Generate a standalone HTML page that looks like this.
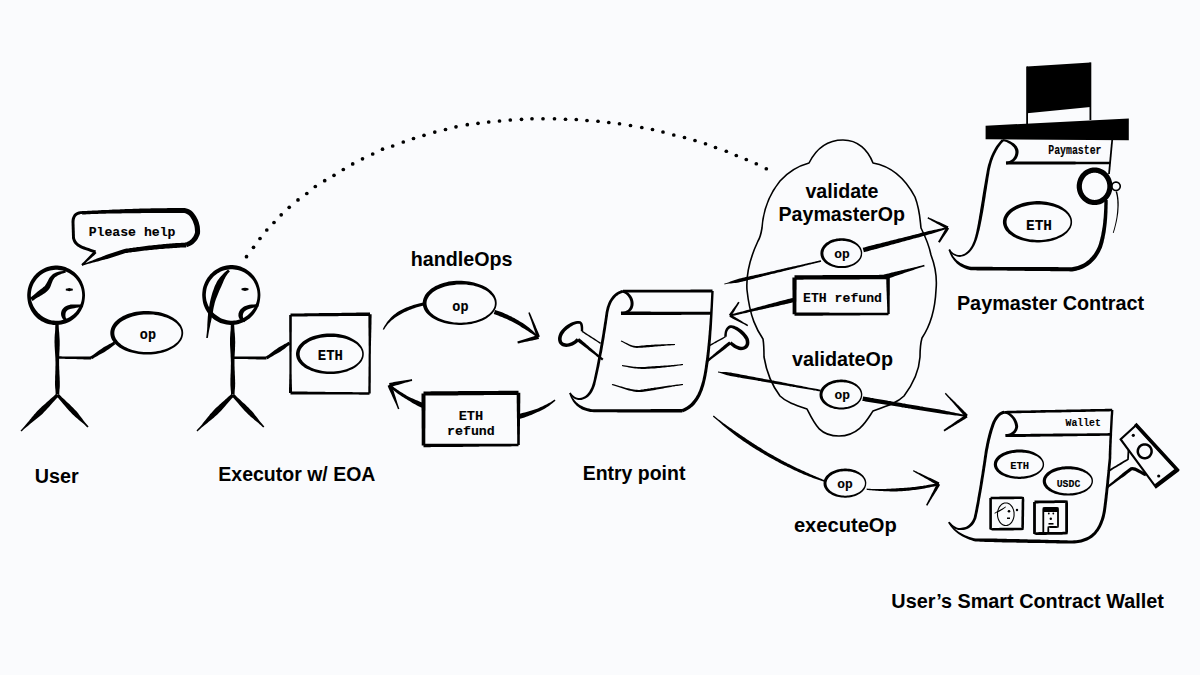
<!DOCTYPE html>
<html><head><meta charset="utf-8">
<style>
html,body{margin:0;padding:0;background:#fafbfd;}
svg{display:block;}
.s{font-family:"Liberation Sans",sans-serif;font-weight:700;font-size:19.3px;fill:#111;}
.m{font-family:"Liberation Mono",monospace;font-weight:700;font-size:12.8px;fill:#111;stroke:#111;stroke-width:0.35px;}
.ms{font-family:"Liberation Mono",monospace;font-weight:700;font-size:9.6px;fill:#111;stroke:#111;stroke-width:0.25px;}
</style></head><body>
<svg width="1200" height="675" viewBox="0 0 1200 675">
<rect width="1200" height="675" fill="#fafbfd"/>
<path d="M81.8,211.0 L80.2,211.2 L78.6,211.5 L77.2,212.0 L75.8,212.7 L74.7,213.6 L73.7,214.6 L72.9,215.9 L72.3,217.2 L71.8,218.7 L71.6,220.3 L71.5,222.0 L71.6,223.6 L71.6,225.2 L71.7,226.8 L71.7,228.4 L71.8,230.0 L71.8,231.6 L71.9,233.2 L71.9,234.8 L72.0,236.4 L72.0,238.2 L72.5,239.8 L73.0,241.3 L73.8,242.7 L74.7,243.9 L75.8,245.1 L77.1,246.2 L78.5,247.1 L80.0,248.0 L81.7,248.7 L83.5,249.4 L85.2,250.0 L86.8,250.6 L88.4,251.1 L90.1,251.7 L91.7,252.3 L93.4,252.8 L95.0,253.4 L96.0,250.6 L94.3,250.0 L92.7,249.4 L91.1,248.9 L89.4,248.3 L87.8,247.7 L86.1,247.2 L84.5,246.6 L82.8,246.0 L81.4,245.3 L80.1,244.6 L78.9,243.8 L77.9,242.9 L77.1,242.0 L76.3,241.0 L75.8,240.0 L75.3,238.9 L75.0,237.8 L74.9,236.4 L74.9,234.8 L74.8,233.2 L74.8,231.6 L74.7,230.0 L74.7,228.4 L74.6,226.8 L74.6,225.2 L74.5,223.6 L74.5,222.0 L74.6,220.6 L74.8,219.3 L75.1,218.2 L75.5,217.3 L76.0,216.5 L76.7,215.8 L77.4,215.3 L78.4,214.8 L79.4,214.4 L80.7,214.1 L82.2,214.0Z" fill="#000"/>
<path d="M94.5,250.9 L93.2,252.1 L92.0,253.3 L90.8,254.5 L89.7,255.8 L88.5,257.0 L87.3,258.2 L86.1,259.4 L84.9,260.7 L83.7,261.9 L82.5,263.1 L81.3,264.3 L82.7,265.7 L83.9,264.5 L85.2,263.4 L86.4,262.2 L87.7,261.1 L89.0,260.0 L90.3,258.8 L91.5,257.7 L92.8,256.6 L94.1,255.4 L95.3,254.3 L96.5,253.1Z" fill="#000"/>
<path d="M82.2,265.7 L83.8,265.2 L85.3,264.7 L86.9,264.3 L88.4,263.8 L90.0,263.4 L91.5,263.0 L93.1,262.6 L94.7,262.2 L96.2,261.8 L97.8,261.4 L99.4,261.0 L100.9,260.6 L102.5,260.1 L104.1,259.7 L105.6,259.3 L107.2,258.9 L108.7,258.4 L110.3,258.0 L111.8,257.5 L113.4,257.0 L114.9,256.5 L116.4,256.0 L118.0,255.5 L119.5,255.0 L121.0,254.5 L122.6,254.0 L124.1,253.5 L125.5,253.1 L127.1,252.9 L129.0,252.6 L130.8,252.4 L132.6,252.1 L134.3,251.9 L136.1,251.7 L137.9,251.5 L139.6,251.2 L141.3,251.0 L143.1,250.8 L144.8,250.6 L146.5,250.5 L148.1,250.3 L149.8,250.1 L151.5,249.9 L153.1,249.8 L154.8,249.6 L156.4,249.4 L158.0,249.3 L159.6,249.1 L161.2,249.0 L162.7,248.9 L164.3,248.7 L165.8,248.6 L167.3,248.5 L168.9,248.4 L170.4,248.3 L171.9,248.2 L173.3,248.1 L174.8,248.0 L176.3,247.9 L177.7,247.8 L179.1,247.7 L180.6,247.6 L182.0,247.6 L183.3,247.5 L184.7,247.5 L186.1,247.4 L185.9,242.6 L184.5,242.7 L183.1,242.7 L181.7,242.8 L180.3,242.9 L178.9,242.9 L177.4,243.0 L176.0,243.1 L174.5,243.2 L173.0,243.3 L171.5,243.4 L170.0,243.6 L168.5,243.7 L167.0,243.8 L165.4,243.9 L163.9,244.1 L162.3,244.2 L160.7,244.4 L159.1,244.5 L157.5,244.7 L155.9,244.9 L154.3,245.1 L152.6,245.2 L151.0,245.4 L149.3,245.6 L147.6,245.8 L145.9,246.0 L144.2,246.2 L142.5,246.4 L140.8,246.7 L139.1,246.9 L137.3,247.1 L135.5,247.4 L133.8,247.6 L132.0,247.9 L130.2,248.1 L128.4,248.4 L126.5,248.6 L124.5,248.9 L122.8,249.5 L121.3,250.0 L119.7,250.5 L118.2,251.0 L116.7,251.5 L115.1,252.0 L113.6,252.5 L112.1,253.0 L110.5,253.5 L109.0,254.0 L107.5,254.6 L106.0,255.1 L104.4,255.7 L102.9,256.3 L101.4,256.9 L99.9,257.4 L98.4,258.0 L96.9,258.6 L95.4,259.2 L93.9,259.8 L92.4,260.4 L90.9,261.0 L89.4,261.6 L87.9,262.2 L86.3,262.7 L84.8,263.3 L83.3,263.8 L81.8,264.3Z" fill="#000"/>
<path d="M186.8,247.2 L188.5,246.6 L190.2,245.8 L191.7,244.9 L193.2,243.9 L194.5,242.8 L195.7,241.5 L196.8,240.2 L197.8,238.7 L198.6,237.1 L199.3,235.4 L200.0,233.4 L200.1,231.3 L200.0,229.6 L199.9,227.8 L199.7,226.1 L199.3,224.4 L198.9,222.7 L198.3,221.1 L197.7,219.5 L196.9,217.9 L196.1,216.4 L195.1,214.9 L194.0,213.4 L192.8,212.0 L191.4,210.8 L189.9,209.8 L188.3,209.0 L186.6,208.4 L184.8,208.1 L183.1,208.0 L181.3,208.0 L179.6,208.0 L178.0,208.0 L176.3,208.1 L174.6,208.1 L172.9,208.1 L171.3,208.1 L169.6,208.1 L167.9,208.1 L166.3,208.2 L164.6,208.2 L163.0,208.2 L161.3,208.2 L159.7,208.2 L158.0,208.2 L156.4,208.3 L154.7,208.3 L153.1,208.3 L151.5,208.3 L149.8,208.4 L148.2,208.4 L146.6,208.5 L144.9,208.5 L143.3,208.5 L141.7,208.6 L140.1,208.6 L138.4,208.7 L136.8,208.7 L135.2,208.8 L133.6,208.8 L132.0,208.9 L130.4,208.9 L128.8,209.0 L127.2,209.1 L125.6,209.1 L124.0,209.2 L122.4,209.2 L120.8,209.3 L119.2,209.4 L117.7,209.4 L116.1,209.5 L114.5,209.6 L112.9,209.6 L111.3,209.7 L109.8,209.8 L108.2,209.9 L106.6,209.9 L105.1,210.0 L103.5,210.1 L102.0,210.1 L100.4,210.2 L98.8,210.3 L97.3,210.4 L95.7,210.4 L94.2,210.5 L92.7,210.6 L91.1,210.7 L89.6,210.7 L88.0,210.8 L86.5,210.9 L85.0,211.0 L83.4,211.0 L81.9,211.1 L82.1,214.5 L83.6,214.4 L85.1,214.4 L86.7,214.3 L88.2,214.2 L89.7,214.2 L91.3,214.1 L92.8,214.0 L94.3,214.0 L95.9,213.9 L97.4,213.9 L99.0,213.8 L100.5,213.8 L102.1,213.8 L103.6,213.7 L105.2,213.7 L106.8,213.6 L108.3,213.6 L109.9,213.6 L111.5,213.5 L113.0,213.5 L114.6,213.5 L116.2,213.4 L117.8,213.4 L119.4,213.4 L120.9,213.4 L122.5,213.3 L124.1,213.3 L125.7,213.3 L127.3,213.3 L128.9,213.3 L130.5,213.2 L132.1,213.2 L133.7,213.2 L135.3,213.2 L136.9,213.2 L138.5,213.2 L140.1,213.2 L141.8,213.1 L143.4,213.1 L145.0,213.1 L146.6,213.1 L148.3,213.1 L149.9,213.1 L151.5,213.1 L153.2,213.1 L154.8,213.0 L156.4,213.0 L158.1,213.0 L159.7,213.0 L161.4,213.0 L163.0,213.0 L164.7,213.0 L166.3,213.0 L168.0,213.0 L169.6,213.0 L171.3,213.0 L173.0,213.0 L174.6,213.0 L176.3,213.0 L178.0,213.0 L179.6,213.0 L181.3,213.0 L182.9,213.0 L184.2,213.1 L185.3,213.3 L186.4,213.7 L187.3,214.2 L188.2,214.8 L189.1,215.6 L190.0,216.6 L190.8,217.8 L191.6,219.0 L192.3,220.3 L192.9,221.6 L193.4,222.9 L193.9,224.3 L194.3,225.6 L194.6,227.0 L194.8,228.4 L194.9,229.9 L195.0,231.4 L195.0,232.6 L194.6,233.7 L194.1,235.0 L193.5,236.2 L192.8,237.3 L192.0,238.3 L191.2,239.3 L190.2,240.1 L189.1,240.9 L187.9,241.6 L186.6,242.2 L185.2,242.8Z" fill="#000"/>
<path d="M85.0,295.3 L84.9,297.3 L84.7,299.3 L84.4,301.3 L84.0,303.3 L83.4,305.3 L82.7,307.2 L81.8,309.0 L80.9,310.8 L79.8,312.5 L78.6,314.2 L77.2,315.7 L75.8,317.2 L74.3,318.5 L72.7,319.8 L70.9,320.9 L69.1,321.9 L67.3,322.7 L65.4,323.4 L63.4,324.0 L61.4,324.5 L59.4,324.8 L57.3,324.9 L55.3,325.0 L53.2,324.9 L51.2,324.6 L49.2,324.2 L47.2,323.7 L45.2,323.0 L43.3,322.1 L41.5,321.2 L39.7,320.1 L38.1,318.9 L36.5,317.5 L35.0,316.0 L33.7,314.5 L32.5,312.8 L31.3,311.0 L30.4,309.2 L29.5,307.3 L28.8,305.4 L28.2,303.4 L27.8,301.4 L27.5,299.4 L27.3,297.4 L27.2,295.3 L27.3,293.3 L27.5,291.2 L27.8,289.2 L28.3,287.2 L28.9,285.2 L29.7,283.3 L30.5,281.5 L31.5,279.7 L32.7,278.0 L33.9,276.3 L35.3,274.8 L36.7,273.3 L38.3,272.0 L39.9,270.8 L41.6,269.7 L43.4,268.7 L45.3,267.8 L47.2,267.1 L49.2,266.5 L51.2,266.1 L53.2,265.8 L55.3,265.6 L57.3,265.6 L59.4,265.8 L61.4,266.1 L63.4,266.5 L65.4,267.1 L67.3,267.9 L69.1,268.7 L70.9,269.7 L72.6,270.9 L74.2,272.1 L75.8,273.5 L77.2,274.9 L78.5,276.5 L79.7,278.1 L80.8,279.8 L81.8,281.6 L82.6,283.5 L83.4,285.4 L83.9,287.3 L84.4,289.3 L84.7,291.3 L84.9,293.3ZM82.1,293.5 L81.9,291.7 L81.6,289.9 L81.1,288.1 L80.6,286.4 L79.8,284.7 L79.0,283.1 L78.1,281.5 L77.0,280.0 L75.9,278.6 L74.7,277.3 L73.4,276.1 L72.0,275.0 L70.5,274.0 L69.0,273.1 L67.4,272.2 L65.8,271.6 L64.1,271.0 L62.4,270.5 L60.7,270.2 L58.9,269.9 L57.2,269.8 L55.4,269.8 L53.7,269.9 L51.9,270.2 L50.2,270.5 L48.5,271.0 L46.9,271.6 L45.2,272.3 L43.7,273.1 L42.2,274.1 L40.7,275.1 L39.4,276.2 L38.1,277.5 L36.9,278.8 L35.8,280.2 L34.8,281.7 L33.8,283.2 L33.1,284.8 L32.4,286.5 L31.8,288.2 L31.4,289.9 L31.1,291.7 L30.9,293.5 L30.8,295.3 L30.9,297.1 L31.1,298.9 L31.4,300.7 L31.9,302.4 L32.5,304.1 L33.2,305.7 L34.0,307.3 L35.0,308.8 L36.0,310.3 L37.1,311.6 L38.3,312.9 L39.6,314.1 L40.9,315.2 L42.3,316.3 L43.8,317.2 L45.3,318.1 L46.9,318.8 L48.6,319.4 L50.2,320.0 L51.9,320.4 L53.7,320.6 L55.4,320.8 L57.2,320.8 L58.9,320.7 L60.7,320.5 L62.4,320.1 L64.1,319.6 L65.8,319.0 L67.4,318.3 L69.0,317.5 L70.5,316.6 L71.9,315.6 L73.3,314.4 L74.6,313.2 L75.9,311.9 L77.0,310.5 L78.0,309.1 L79.0,307.5 L79.8,305.9 L80.5,304.2 L81.1,302.5 L81.6,300.7 L81.9,298.9 L82.1,297.1 L82.2,295.3Z" fill="#000" fill-rule="evenodd"/>
<path d="M32.6,301.0 L34.3,299.7 L35.9,298.6 L37.5,297.6 L39.1,296.7 L40.6,295.8 L42.0,294.9 L43.4,294.0 L44.7,293.2 L46.0,292.3 L47.1,291.3 L48.1,290.3 L49.2,289.1 L50.2,287.3 L50.9,285.6 L51.4,284.1 L51.9,282.7 L52.4,281.4 L52.9,280.3 L53.6,279.2 L54.4,278.1 L55.4,277.1 L56.4,276.4 L57.4,275.7 L58.7,275.1 L60.1,274.5 L61.7,273.8 L63.7,273.2 L65.9,272.5 L65.3,270.3 L63.0,270.9 L61.0,271.3 L59.2,271.6 L57.5,272.0 L56.0,272.5 L54.5,273.2 L53.0,274.1 L51.5,275.4 L50.3,276.7 L49.3,278.1 L48.5,279.5 L47.8,280.9 L47.1,282.2 L46.4,283.5 L45.6,284.8 L44.8,285.9 L44.3,286.4 L43.4,287.1 L42.5,287.9 L41.4,288.7 L40.3,289.6 L39.1,290.6 L37.7,291.6 L36.3,292.7 L34.9,293.9 L33.4,295.2 L31.8,296.5 L30.2,297.8Z" fill="#000"/>
<path d="M65.8,290.4 L67.5,290.8 L69.3,291.2 L71.0,290.8 L72.8,290.4 L72.8,288.8 L71.0,288.4 L69.3,288.0 L67.5,288.4 L65.8,288.8Z" fill="#000"/>
<path d="M82.9,304.4 L80.4,304.5 L78.0,304.4 L75.9,304.4 L73.9,304.4 L72.1,304.5 L70.6,304.6 L69.3,304.9 L68.1,305.2 L66.2,305.9 L64.5,307.0 L63.0,308.4 L61.9,310.0 L61.2,311.9 L61.0,313.7 L61.2,315.5 L61.8,317.3 L62.8,319.0 L64.1,320.5 L65.5,321.8 L67.5,319.8 L66.3,318.6 L65.7,317.4 L65.4,316.1 L65.4,315.0 L65.5,313.9 L65.6,313.1 L66.0,312.1 L66.5,311.2 L67.2,310.4 L68.2,309.7 L69.5,309.2 L70.2,309.0 L71.3,308.8 L72.7,308.5 L74.3,308.2 L76.2,307.8 L78.3,307.4 L80.6,307.0 L83.1,306.8Z" fill="#000"/>
<path d="M55.3,324.5 L55.3,326.1 L55.2,327.8 L55.2,329.4 L55.1,331.0 L55.0,332.7 L54.8,334.3 L54.7,335.9 L54.6,337.5 L54.6,339.2 L54.5,340.8 L54.5,342.4 L54.6,344.1 L54.6,345.7 L54.7,347.3 L54.8,348.9 L54.9,350.6 L55.0,352.2 L55.1,353.8 L55.2,355.4 L55.3,357.1 L55.4,358.7 L55.4,360.3 L55.5,362.0 L55.5,363.6 L55.5,365.2 L55.4,366.8 L55.4,368.5 L55.4,370.1 L55.3,371.7 L55.3,373.4 L55.2,375.0 L55.1,376.6 L55.1,378.2 L55.1,379.9 L55.0,381.5 L55.0,383.1 L55.0,384.7 L55.1,386.4 L55.2,388.0 L55.4,389.6 L55.5,391.3 L55.6,392.9 L55.7,394.5 L59.3,394.5 L59.3,392.9 L59.4,391.2 L59.5,389.6 L59.7,388.0 L59.8,386.3 L59.8,384.7 L59.8,383.1 L59.8,381.5 L59.7,379.8 L59.7,378.2 L59.6,376.6 L59.5,374.9 L59.4,373.3 L59.4,371.7 L59.3,370.1 L59.2,368.4 L59.2,366.8 L59.1,365.2 L59.1,363.6 L59.1,361.9 L59.1,360.3 L59.1,358.7 L59.2,357.0 L59.3,355.4 L59.3,353.8 L59.4,352.2 L59.5,350.5 L59.6,348.9 L59.6,347.3 L59.7,345.6 L59.7,344.0 L59.7,342.4 L59.7,340.8 L59.6,339.1 L59.5,337.5 L59.4,335.9 L59.3,334.3 L59.2,332.6 L59.0,331.0 L58.9,329.4 L58.8,327.7 L58.7,326.1 L58.7,324.5Z" fill="#000"/>
<path d="M57.5,358.7 L59.2,358.7 L60.8,358.8 L62.5,358.8 L64.2,358.8 L65.9,358.9 L67.5,358.9 L69.2,359.0 L70.9,359.0 L72.6,359.1 L74.2,359.1 L75.9,359.1 L77.6,359.2 L79.3,359.2 L80.9,359.3 L82.6,359.3 L84.3,359.4 L86.0,359.4 L87.6,359.4 L89.3,359.5 L91.0,359.5 L91.0,356.5 L89.3,356.5 L87.7,356.5 L86.0,356.4 L84.3,356.4 L82.6,356.4 L81.0,356.4 L79.3,356.4 L77.6,356.4 L75.9,356.4 L74.3,356.4 L72.6,356.4 L70.9,356.4 L69.2,356.4 L67.6,356.4 L65.9,356.4 L64.2,356.4 L62.5,356.4 L60.9,356.3 L59.2,356.3 L57.5,356.3Z" fill="#000"/>
<path d="M91.8,359.3 L93.2,358.4 L94.6,357.6 L96.0,356.7 L97.5,355.9 L98.9,355.1 L100.3,354.3 L101.8,353.5 L103.2,352.7 L104.6,351.9 L106.0,351.0 L107.4,350.1 L108.7,349.2 L110.0,348.2 L111.3,347.2 L112.6,346.2 L113.9,345.2 L115.3,344.3 L113.7,341.7 L112.3,342.6 L110.8,343.4 L109.4,344.1 L107.9,344.9 L106.5,345.7 L105.0,346.5 L103.6,347.3 L102.3,348.2 L100.9,349.2 L99.6,350.1 L98.2,351.1 L96.9,352.0 L95.6,353.0 L94.3,354.0 L92.9,354.9 L91.6,355.8 L90.2,356.7Z" fill="#000"/>
<path d="M56.2,393.7 L55.1,394.8 L53.9,395.9 L52.7,397.0 L51.5,398.1 L50.3,399.1 L49.1,400.2 L47.9,401.3 L46.7,402.3 L45.5,403.4 L44.3,404.4 L43.1,405.5 L41.9,406.6 L40.7,407.7 L39.6,408.8 L38.4,409.9 L37.3,411.0 L36.2,412.2 L35.2,413.4 L34.1,414.6 L33.1,415.9 L32.0,417.1 L31.0,418.4 L30.0,419.6 L29.0,420.9 L28.0,422.1 L27.0,423.3 L25.9,424.6 L24.9,425.8 L23.8,427.0 L22.7,428.2 L21.6,429.4 L20.5,430.5 L21.5,431.5 L22.6,430.4 L23.8,429.3 L25.0,428.2 L26.2,427.2 L27.5,426.2 L28.7,425.2 L30.0,424.1 L31.3,423.1 L32.5,422.1 L33.8,421.1 L35.0,420.1 L36.3,419.1 L37.5,418.1 L38.8,417.1 L40.0,416.0 L41.2,415.0 L42.4,413.9 L43.5,412.7 L44.6,411.6 L45.7,410.4 L46.8,409.3 L47.9,408.1 L49.0,406.9 L50.0,405.7 L51.1,404.5 L52.2,403.3 L53.3,402.1 L54.3,400.9 L55.4,399.7 L56.5,398.6 L57.6,397.4 L58.8,396.3Z" fill="#000"/>
<path d="M56.3,396.1 L57.5,397.3 L58.6,398.5 L59.6,399.7 L60.7,401.0 L61.8,402.2 L62.8,403.5 L63.9,404.7 L65.0,406.0 L66.0,407.2 L67.1,408.5 L68.2,409.7 L69.3,410.9 L70.4,412.1 L71.5,413.3 L72.7,414.5 L73.9,415.6 L75.1,416.7 L76.3,417.8 L77.6,418.8 L78.9,419.9 L80.1,420.9 L81.4,422.0 L82.6,423.1 L83.9,424.1 L85.1,425.3 L86.3,426.4 L87.4,427.6 L88.6,426.4 L87.5,425.2 L86.4,424.0 L85.3,422.7 L84.3,421.5 L83.3,420.2 L82.3,418.8 L81.3,417.5 L80.3,416.2 L79.3,414.9 L78.3,413.6 L77.3,412.3 L76.2,411.1 L75.1,409.9 L74.0,408.7 L72.8,407.5 L71.7,406.4 L70.5,405.2 L69.3,404.1 L68.1,403.0 L66.9,401.9 L65.7,400.7 L64.5,399.6 L63.3,398.5 L62.1,397.4 L61.0,396.2 L59.8,395.1 L58.7,393.9Z" fill="#000"/>
<path d="M183.2,333.0 L183.1,334.5 L182.8,336.0 L182.4,337.5 L181.8,339.0 L181.0,340.4 L180.0,341.8 L178.9,343.2 L177.7,344.5 L176.3,345.7 L174.7,346.9 L173.0,348.0 L171.2,349.1 L169.3,350.0 L167.3,350.9 L165.2,351.7 L163.0,352.4 L160.7,353.0 L158.3,353.5 L155.9,353.9 L153.5,354.2 L151.0,354.4 L148.5,354.5 L146.1,354.5 L143.6,354.4 L141.1,354.3 L138.6,354.0 L136.2,353.6 L133.9,353.1 L131.6,352.6 L129.3,352.0 L127.2,351.2 L125.1,350.4 L123.1,349.5 L121.3,348.5 L119.5,347.4 L117.9,346.3 L116.4,345.1 L115.0,343.8 L113.8,342.4 L112.8,341.0 L111.9,339.5 L111.2,337.9 L110.7,336.3 L110.4,334.7 L110.3,333.0 L110.4,331.3 L110.7,329.7 L111.2,328.1 L111.9,326.5 L112.7,325.0 L113.7,323.5 L114.9,322.1 L116.3,320.8 L117.7,319.5 L119.4,318.3 L121.1,317.2 L123.0,316.1 L124.9,315.2 L127.0,314.3 L129.2,313.5 L131.4,312.9 L133.7,312.3 L136.1,311.8 L138.6,311.5 L141.0,311.2 L143.5,311.0 L146.0,311.0 L148.6,311.0 L151.1,311.2 L153.5,311.4 L156.0,311.7 L158.4,312.1 L160.8,312.6 L163.1,313.2 L165.3,314.0 L167.4,314.8 L169.5,315.7 L171.4,316.7 L173.2,317.7 L174.9,318.9 L176.4,320.1 L177.8,321.4 L179.0,322.7 L180.1,324.1 L181.1,325.5 L181.8,327.0 L182.4,328.5 L182.9,330.0 L183.1,331.5ZM181.3,331.7 L181.1,330.4 L180.6,329.1 L180.1,327.8 L179.3,326.6 L178.4,325.4 L177.4,324.2 L176.2,323.1 L174.8,322.0 L173.4,321.0 L171.8,320.1 L170.1,319.2 L168.2,318.3 L166.3,317.6 L164.3,316.9 L162.2,316.3 L160.0,315.7 L157.8,315.3 L155.5,314.9 L153.2,314.6 L150.9,314.5 L148.5,314.4 L146.1,314.4 L143.7,314.6 L141.4,314.8 L139.1,315.1 L136.8,315.6 L134.6,316.1 L132.5,316.6 L130.4,317.3 L128.5,318.0 L126.6,318.8 L124.8,319.7 L123.2,320.6 L121.6,321.6 L120.2,322.6 L119.0,323.7 L117.9,324.8 L116.9,326.0 L116.1,327.1 L115.4,328.3 L114.9,329.5 L114.6,330.6 L114.4,331.8 L114.3,333.0 L114.4,334.2 L114.6,335.4 L114.9,336.5 L115.4,337.7 L116.0,338.9 L116.8,340.1 L117.7,341.3 L118.8,342.5 L120.1,343.6 L121.4,344.7 L123.0,345.7 L124.6,346.7 L126.4,347.6 L128.3,348.4 L130.3,349.2 L132.3,349.9 L134.5,350.5 L136.7,351.0 L139.0,351.4 L141.4,351.7 L143.7,351.9 L146.1,352.0 L148.5,352.0 L150.9,351.9 L153.3,351.8 L155.6,351.5 L157.9,351.1 L160.1,350.7 L162.3,350.1 L164.4,349.5 L166.5,348.8 L168.4,348.0 L170.2,347.1 L171.9,346.2 L173.5,345.2 L175.0,344.1 L176.3,343.0 L177.5,341.9 L178.5,340.7 L179.4,339.4 L180.1,338.2 L180.7,336.9 L181.1,335.6 L181.3,334.3 L181.4,333.0Z" fill="#000" fill-rule="evenodd"/>
<path d="M260.4,295.0 L260.3,297.0 L260.1,299.1 L259.8,301.1 L259.4,303.1 L258.8,305.0 L258.0,306.9 L257.2,308.8 L256.2,310.6 L255.1,312.3 L253.9,314.0 L252.6,315.6 L251.1,317.0 L249.6,318.4 L248.0,319.6 L246.2,320.8 L244.4,321.8 L242.6,322.6 L240.6,323.3 L238.6,323.9 L236.6,324.4 L234.6,324.7 L232.5,324.8 L230.5,324.9 L228.4,324.8 L226.3,324.5 L224.3,324.1 L222.3,323.6 L220.3,322.9 L218.4,322.0 L216.6,321.1 L214.8,319.9 L213.1,318.7 L211.6,317.3 L210.1,315.9 L208.7,314.3 L207.5,312.6 L206.4,310.8 L205.4,309.0 L204.5,307.1 L203.8,305.2 L203.2,303.2 L202.8,301.2 L202.5,299.1 L202.3,297.1 L202.2,295.0 L202.3,292.9 L202.5,290.9 L202.8,288.8 L203.3,286.8 L203.9,284.9 L204.7,282.9 L205.6,281.1 L206.6,279.3 L207.7,277.5 L209.0,275.9 L210.3,274.3 L211.8,272.9 L213.3,271.5 L215.0,270.3 L216.7,269.2 L218.5,268.2 L220.4,267.3 L222.4,266.6 L224.3,266.0 L226.4,265.6 L228.4,265.3 L230.5,265.1 L232.5,265.1 L234.6,265.3 L236.6,265.6 L238.7,266.0 L240.6,266.6 L242.6,267.4 L244.4,268.3 L246.2,269.3 L247.9,270.4 L249.6,271.7 L251.1,273.0 L252.5,274.5 L253.9,276.0 L255.1,277.7 L256.2,279.4 L257.2,281.2 L258.0,283.1 L258.7,285.0 L259.3,286.9 L259.8,288.9 L260.1,290.9 L260.3,293.0ZM257.5,293.2 L257.3,291.3 L257.0,289.5 L256.5,287.7 L255.9,286.0 L255.2,284.3 L254.4,282.7 L253.5,281.1 L252.4,279.6 L251.3,278.2 L250.0,276.9 L248.7,275.7 L247.3,274.5 L245.8,273.5 L244.3,272.6 L242.7,271.8 L241.0,271.1 L239.4,270.5 L237.7,270.0 L235.9,269.7 L234.2,269.4 L232.4,269.3 L230.6,269.3 L228.8,269.4 L227.1,269.7 L225.4,270.0 L223.6,270.5 L222.0,271.1 L220.3,271.8 L218.8,272.7 L217.3,273.6 L215.8,274.7 L214.4,275.8 L213.1,277.0 L211.9,278.4 L210.8,279.8 L209.8,281.3 L208.9,282.8 L208.1,284.4 L207.4,286.1 L206.8,287.8 L206.4,289.6 L206.1,291.4 L205.9,293.2 L205.8,295.0 L205.9,296.8 L206.1,298.6 L206.4,300.4 L206.9,302.1 L207.5,303.8 L208.2,305.5 L209.0,307.1 L210.0,308.6 L211.0,310.1 L212.1,311.5 L213.3,312.8 L214.6,314.0 L216.0,315.1 L217.4,316.1 L218.9,317.1 L220.4,317.9 L222.0,318.7 L223.7,319.3 L225.4,319.8 L227.1,320.3 L228.8,320.5 L230.6,320.7 L232.4,320.7 L234.2,320.6 L235.9,320.4 L237.7,320.0 L239.4,319.5 L241.0,318.9 L242.7,318.2 L244.3,317.4 L245.8,316.5 L247.3,315.4 L248.7,314.3 L250.0,313.1 L251.2,311.8 L252.4,310.3 L253.4,308.9 L254.4,307.3 L255.2,305.7 L255.9,304.0 L256.5,302.3 L257.0,300.5 L257.3,298.7 L257.5,296.8 L257.6,295.0Z" fill="#000" fill-rule="evenodd"/>
<path d="M228.1,269.4 L226.9,270.4 L225.7,271.5 L224.5,272.6 L223.3,273.7 L222.2,274.9 L221.0,276.2 L219.9,277.5 L218.8,278.9 L217.8,280.3 L216.9,281.8 L216.1,283.4 L215.3,285.0 L214.6,286.6 L214.0,288.2 L213.4,289.9 L212.8,291.5 L212.3,293.1 L211.8,294.7 L211.4,296.3 L211.0,297.8 L210.6,299.3 L210.2,300.9 L209.9,302.5 L209.6,304.1 L209.4,305.6 L209.1,307.2 L208.8,308.8 L208.6,310.4 L208.3,311.9 L208.1,313.5 L208.0,315.1 L207.8,316.7 L207.7,318.4 L207.6,320.0 L207.5,321.6 L207.4,323.2 L207.3,324.9 L207.3,326.5 L207.2,328.1 L207.1,329.7 L206.9,331.4 L206.8,333.0 L206.6,334.6 L206.4,336.3 L206.2,337.9 L207.8,338.1 L208.1,336.5 L208.3,334.9 L208.6,333.3 L208.9,331.6 L209.2,330.0 L209.5,328.4 L209.9,326.8 L210.2,325.2 L210.5,323.6 L210.9,322.0 L211.2,320.5 L211.5,318.9 L211.9,317.3 L212.2,315.8 L212.5,314.2 L212.8,312.7 L213.1,311.1 L213.3,309.6 L213.6,308.0 L213.9,306.5 L214.3,305.0 L214.6,303.5 L215.0,302.1 L215.4,300.7 L215.9,299.3 L216.4,297.9 L217.0,296.4 L217.6,294.9 L218.2,293.5 L218.8,292.0 L219.4,290.5 L220.1,289.0 L220.8,287.5 L221.5,286.0 L222.1,284.5 L222.8,283.0 L223.4,281.6 L224.0,280.1 L224.7,278.7 L225.4,277.3 L226.2,276.0 L227.0,274.7 L227.9,273.6 L228.8,272.5 L229.9,271.6Z" fill="#000"/>
<path d="M241.5,290.1 L243.2,290.5 L245.0,290.9 L246.8,290.5 L248.5,290.1 L248.5,288.5 L246.8,288.1 L245.0,287.7 L243.2,288.1 L241.5,288.5Z" fill="#000"/>
<path d="M258.4,304.1 L255.9,304.3 L253.6,304.4 L251.5,304.6 L249.5,304.8 L247.7,305.2 L246.1,305.7 L244.6,306.3 L243.3,307.0 L242.1,307.9 L240.4,309.4 L239.2,311.4 L238.5,313.6 L238.4,315.9 L239.1,318.2 L240.5,320.0 L242.3,321.2 L244.3,322.2 L245.7,319.8 L244.0,318.7 L243.1,317.7 L242.9,316.8 L242.8,315.5 L243.0,314.4 L243.3,313.3 L243.9,312.2 L244.9,311.1 L245.5,310.7 L246.5,310.1 L247.6,309.6 L248.9,309.1 L250.5,308.5 L252.2,307.9 L254.1,307.4 L256.3,306.8 L258.6,306.5Z" fill="#000"/>
<path d="M230.8,324.0 L230.8,325.6 L230.7,327.2 L230.7,328.8 L230.6,330.4 L230.4,332.0 L230.3,333.6 L230.2,335.2 L230.1,336.8 L230.0,338.4 L230.0,340.0 L230.0,341.6 L230.0,343.2 L230.0,344.8 L230.1,346.4 L230.2,348.0 L230.3,349.6 L230.4,351.2 L230.5,352.9 L230.6,354.5 L230.6,356.1 L230.7,357.7 L230.8,359.3 L230.8,360.9 L230.9,362.5 L230.9,364.1 L230.8,365.7 L230.8,367.3 L230.8,368.9 L230.7,370.5 L230.7,372.1 L230.6,373.7 L230.5,375.3 L230.5,376.9 L230.4,378.5 L230.4,380.1 L230.4,381.7 L230.4,383.3 L230.4,384.9 L230.5,386.5 L230.6,388.1 L230.7,389.7 L230.9,391.3 L231.0,392.9 L231.0,394.5 L234.6,394.5 L234.6,392.9 L234.7,391.3 L234.8,389.7 L235.0,388.1 L235.1,386.5 L235.1,384.9 L235.2,383.3 L235.1,381.7 L235.1,380.1 L235.0,378.5 L235.0,376.9 L234.9,375.3 L234.8,373.7 L234.8,372.1 L234.7,370.5 L234.6,368.9 L234.6,367.3 L234.5,365.7 L234.5,364.0 L234.5,362.4 L234.5,360.8 L234.5,359.2 L234.6,357.6 L234.6,356.0 L234.7,354.4 L234.8,352.8 L234.9,351.2 L235.0,349.6 L235.0,348.0 L235.1,346.4 L235.1,344.8 L235.2,343.2 L235.2,341.6 L235.1,340.0 L235.1,338.4 L235.0,336.8 L234.9,335.2 L234.8,333.6 L234.6,332.0 L234.5,330.4 L234.4,328.8 L234.3,327.2 L234.2,325.6 L234.2,324.0Z" fill="#000"/>
<path d="M232.8,358.9 L234.4,358.9 L236.0,358.9 L237.6,359.0 L239.2,359.0 L240.8,359.0 L242.4,359.0 L244.0,359.1 L245.6,359.1 L247.2,359.1 L248.8,359.2 L250.4,359.2 L252.0,359.3 L253.6,359.3 L255.3,359.3 L256.9,359.4 L258.5,359.4 L260.1,359.4 L261.7,359.4 L263.3,359.5 L264.9,359.5 L266.5,359.5 L266.5,356.5 L264.9,356.5 L263.3,356.5 L261.7,356.5 L260.1,356.5 L258.5,356.5 L256.9,356.5 L255.3,356.5 L253.7,356.5 L252.1,356.5 L250.5,356.5 L248.9,356.5 L247.3,356.5 L245.6,356.5 L244.0,356.5 L242.4,356.5 L240.8,356.5 L239.2,356.5 L237.6,356.5 L236.0,356.5 L234.4,356.5 L232.8,356.5Z" fill="#000"/>
<path d="M267.3,359.3 L268.7,358.4 L270.1,357.6 L271.5,356.7 L272.9,355.9 L274.3,355.1 L275.7,354.3 L277.1,353.5 L278.5,352.7 L279.9,351.9 L281.3,351.0 L282.6,350.1 L283.9,349.2 L285.2,348.2 L286.5,347.1 L287.8,346.1 L289.1,345.2 L290.4,344.3 L288.8,341.7 L287.4,342.6 L286.0,343.4 L284.5,344.1 L283.1,344.9 L281.7,345.7 L280.3,346.5 L278.9,347.3 L277.5,348.2 L276.2,349.2 L274.9,350.1 L273.6,351.1 L272.3,352.0 L271.0,353.0 L269.7,354.0 L268.4,354.9 L267.0,355.8 L265.7,356.7Z" fill="#000"/>
<path d="M231.5,393.7 L230.4,394.9 L229.2,396.0 L228.0,397.1 L226.8,398.2 L225.5,399.3 L224.3,400.4 L223.1,401.5 L221.9,402.6 L220.6,403.7 L219.4,404.8 L218.2,405.9 L217.0,407.0 L215.8,408.1 L214.6,409.3 L213.5,410.5 L212.4,411.7 L211.3,412.9 L210.2,414.1 L209.2,415.4 L208.1,416.7 L207.1,418.0 L206.1,419.3 L205.1,420.5 L204.0,421.8 L203.0,423.1 L202.0,424.4 L200.9,425.7 L199.8,426.9 L198.8,428.1 L197.6,429.3 L196.5,430.5 L197.5,431.5 L198.7,430.3 L199.9,429.2 L201.1,428.1 L202.3,427.1 L203.6,426.0 L204.8,424.9 L206.1,423.9 L207.4,422.9 L208.7,421.8 L210.0,420.8 L211.3,419.8 L212.5,418.7 L213.8,417.7 L215.0,416.6 L216.2,415.5 L217.4,414.4 L218.6,413.2 L219.8,412.1 L220.9,410.9 L222.0,409.7 L223.1,408.4 L224.2,407.2 L225.3,406.0 L226.3,404.8 L227.4,403.5 L228.5,402.3 L229.6,401.1 L230.7,399.8 L231.8,398.6 L232.9,397.4 L234.1,396.3Z" fill="#000"/>
<path d="M231.7,396.1 L232.8,397.3 L233.9,398.5 L235.0,399.7 L236.1,401.0 L237.2,402.2 L238.3,403.5 L239.3,404.7 L240.4,406.0 L241.5,407.2 L242.6,408.5 L243.7,409.7 L244.8,410.9 L245.9,412.1 L247.1,413.3 L248.3,414.5 L249.5,415.6 L250.7,416.7 L252.0,417.8 L253.3,418.8 L254.5,419.9 L255.8,420.9 L257.1,422.0 L258.4,423.1 L259.6,424.2 L260.9,425.3 L262.1,426.4 L263.2,427.6 L264.4,426.4 L263.2,425.2 L262.2,424.0 L261.1,422.7 L260.0,421.5 L259.0,420.2 L258.0,418.8 L257.0,417.5 L256.0,416.2 L254.9,414.9 L253.9,413.6 L252.9,412.3 L251.8,411.1 L250.7,409.9 L249.5,408.7 L248.4,407.5 L247.2,406.4 L246.0,405.2 L244.8,404.1 L243.5,403.0 L242.3,401.9 L241.1,400.7 L239.9,399.6 L238.7,398.5 L237.5,397.4 L236.3,396.2 L235.1,395.1 L233.9,393.9Z" fill="#000"/>
<path d="M290.5,316.5 L292.1,316.5 L293.8,316.5 L295.4,316.5 L297.0,316.4 L298.6,316.4 L300.2,316.4 L301.9,316.4 L303.5,316.4 L305.1,316.4 L306.7,316.4 L308.4,316.3 L310.0,316.3 L311.6,316.3 L313.2,316.3 L314.9,316.3 L316.5,316.3 L318.1,316.3 L319.7,316.3 L321.3,316.3 L323.0,316.2 L324.6,316.2 L326.2,316.2 L327.8,316.2 L329.5,316.2 L331.1,316.2 L332.7,316.2 L334.3,316.2 L335.9,316.2 L337.6,316.2 L339.2,316.1 L340.8,316.1 L342.4,316.1 L344.1,316.1 L345.7,316.1 L347.3,316.1 L348.9,316.1 L350.5,316.1 L352.2,316.1 L353.8,316.0 L355.4,316.0 L357.0,316.0 L358.7,316.0 L360.3,316.0 L361.9,316.0 L363.5,316.0 L365.1,315.9 L366.8,315.9 L368.4,315.9 L370.0,315.9 L370.0,312.5 L368.4,312.5 L366.7,312.5 L365.1,312.6 L363.5,312.6 L361.9,312.6 L360.2,312.6 L358.6,312.6 L357.0,312.6 L355.4,312.7 L353.8,312.7 L352.1,312.7 L350.5,312.7 L348.9,312.7 L347.3,312.8 L345.6,312.8 L344.0,312.8 L342.4,312.8 L340.8,312.9 L339.2,312.9 L337.5,312.9 L335.9,312.9 L334.3,312.9 L332.7,313.0 L331.0,313.0 L329.4,313.0 L327.8,313.0 L326.2,313.1 L324.6,313.1 L322.9,313.1 L321.3,313.1 L319.7,313.1 L318.1,313.2 L316.4,313.2 L314.8,313.2 L313.2,313.2 L311.6,313.3 L310.0,313.3 L308.3,313.3 L306.7,313.3 L305.1,313.3 L303.5,313.4 L301.8,313.4 L300.2,313.4 L298.6,313.4 L297.0,313.4 L295.4,313.4 L293.7,313.5 L292.1,313.5 L290.5,313.5Z" fill="#000"/>
<path d="M368.4,314.2 L368.4,315.8 L368.4,317.4 L368.4,319.0 L368.4,320.7 L368.4,322.3 L368.4,323.9 L368.4,325.5 L368.4,327.1 L368.5,328.8 L368.5,330.4 L368.5,332.0 L368.5,333.6 L368.5,335.2 L368.6,336.8 L368.6,338.5 L368.6,340.1 L368.6,341.7 L368.6,343.3 L368.6,344.9 L368.7,346.6 L368.7,348.2 L368.7,349.8 L368.7,351.4 L368.7,353.0 L368.6,354.7 L368.6,356.3 L368.6,357.9 L368.6,359.5 L368.6,361.1 L368.6,362.7 L368.6,364.4 L368.6,366.0 L368.5,367.6 L368.5,369.2 L368.5,370.8 L368.5,372.5 L368.5,374.1 L368.5,375.7 L368.4,377.3 L368.4,378.9 L368.4,380.5 L368.4,382.2 L368.4,383.8 L368.4,385.4 L368.3,387.0 L368.3,388.6 L368.3,390.3 L368.3,391.9 L368.3,393.5 L370.7,393.5 L370.7,391.9 L370.7,390.3 L370.7,388.7 L370.7,387.0 L370.7,385.4 L370.7,383.8 L370.8,382.2 L370.8,380.6 L370.8,378.9 L370.8,377.3 L370.8,375.7 L370.8,374.1 L370.8,372.5 L370.8,370.9 L370.8,369.2 L370.8,367.6 L370.8,366.0 L370.8,364.4 L370.8,362.8 L370.8,361.1 L370.8,359.5 L370.8,357.9 L370.8,356.3 L370.8,354.7 L370.9,353.0 L370.9,351.4 L370.9,349.8 L370.9,348.2 L370.9,346.6 L371.0,345.0 L371.0,343.3 L371.0,341.7 L371.1,340.1 L371.1,338.5 L371.2,336.9 L371.2,335.2 L371.2,333.6 L371.3,332.0 L371.3,330.4 L371.4,328.8 L371.4,327.2 L371.4,325.5 L371.5,323.9 L371.5,322.3 L371.5,320.7 L371.5,319.1 L371.6,317.4 L371.6,315.8 L371.6,314.2Z" fill="#000"/>
<path d="M369.5,392.3 L367.9,392.3 L366.3,392.3 L364.7,392.3 L363.1,392.3 L361.4,392.2 L359.8,392.2 L358.2,392.2 L356.6,392.2 L355.0,392.2 L353.4,392.2 L351.8,392.1 L350.2,392.1 L348.5,392.1 L346.9,392.1 L345.3,392.1 L343.7,392.1 L342.1,392.0 L340.5,392.0 L338.9,392.0 L337.3,392.0 L335.7,392.0 L334.0,391.9 L332.4,391.9 L330.8,391.9 L329.2,391.9 L327.6,391.9 L326.0,391.9 L324.4,391.8 L322.8,391.8 L321.1,391.8 L319.5,391.8 L317.9,391.8 L316.3,391.7 L314.7,391.7 L313.1,391.7 L311.5,391.7 L309.9,391.7 L308.2,391.7 L306.6,391.6 L305.0,391.6 L303.4,391.6 L301.8,391.6 L300.2,391.6 L298.6,391.6 L297.0,391.5 L295.3,391.5 L293.7,391.5 L292.1,391.5 L290.5,391.5 L290.5,394.5 L292.1,394.5 L293.7,394.5 L295.3,394.5 L296.9,394.5 L298.6,394.5 L300.2,394.5 L301.8,394.6 L303.4,394.6 L305.0,394.6 L306.6,394.6 L308.2,394.6 L309.8,394.6 L311.5,394.6 L313.1,394.6 L314.7,394.6 L316.3,394.6 L317.9,394.6 L319.5,394.6 L321.1,394.6 L322.7,394.6 L324.3,394.6 L326.0,394.6 L327.6,394.6 L329.2,394.6 L330.8,394.6 L332.4,394.6 L334.0,394.6 L335.6,394.6 L337.2,394.6 L338.9,394.6 L340.5,394.6 L342.1,394.6 L343.7,394.6 L345.3,394.6 L346.9,394.6 L348.5,394.6 L350.1,394.6 L351.8,394.6 L353.4,394.6 L355.0,394.6 L356.6,394.6 L358.2,394.6 L359.8,394.7 L361.4,394.7 L363.0,394.7 L364.7,394.7 L366.3,394.7 L367.9,394.7 L369.5,394.7Z" fill="#000"/>
<path d="M292.0,393.0 L292.0,391.4 L292.0,389.8 L292.0,388.1 L291.9,386.5 L291.9,384.9 L291.8,383.2 L291.8,381.6 L291.8,380.0 L291.7,378.4 L291.7,376.8 L291.7,375.1 L291.6,373.5 L291.6,371.9 L291.6,370.2 L291.6,368.6 L291.6,367.0 L291.6,365.4 L291.6,363.8 L291.6,362.1 L291.6,360.5 L291.6,358.9 L291.6,357.2 L291.6,355.6 L291.6,354.0 L291.6,352.4 L291.7,350.8 L291.7,349.1 L291.7,347.5 L291.7,345.9 L291.7,344.2 L291.7,342.6 L291.7,341.0 L291.7,339.4 L291.7,337.8 L291.7,336.1 L291.7,334.5 L291.7,332.9 L291.8,331.2 L291.8,329.6 L291.8,328.0 L291.8,326.4 L291.8,324.8 L291.8,323.1 L291.8,321.5 L291.8,319.9 L291.8,318.2 L291.8,316.6 L291.8,315.0 L289.2,315.0 L289.2,316.6 L289.2,318.2 L289.2,319.9 L289.2,321.5 L289.2,323.1 L289.2,324.8 L289.2,326.4 L289.2,328.0 L289.2,329.6 L289.2,331.2 L289.3,332.9 L289.3,334.5 L289.3,336.1 L289.3,337.8 L289.3,339.4 L289.3,341.0 L289.3,342.6 L289.3,344.2 L289.3,345.9 L289.3,347.5 L289.3,349.1 L289.3,350.8 L289.4,352.4 L289.4,354.0 L289.4,355.6 L289.4,357.2 L289.4,358.9 L289.4,360.5 L289.4,362.1 L289.4,363.8 L289.4,365.4 L289.4,367.0 L289.4,368.6 L289.4,370.2 L289.4,371.9 L289.4,373.5 L289.3,375.1 L289.3,376.8 L289.3,378.4 L289.2,380.0 L289.2,381.6 L289.2,383.2 L289.1,384.9 L289.1,386.5 L289.0,388.1 L289.0,389.8 L289.0,391.4 L289.0,393.0Z" fill="#000"/>
<path d="M363.8,354.0 L363.7,355.4 L363.5,356.8 L363.1,358.2 L362.5,359.6 L361.8,360.9 L360.9,362.2 L359.8,363.4 L358.7,364.6 L357.4,365.8 L355.9,366.9 L354.4,367.9 L352.7,368.9 L350.9,369.8 L349.0,370.6 L347.1,371.4 L345.0,372.0 L342.9,372.6 L340.7,373.1 L338.5,373.4 L336.2,373.7 L333.9,373.9 L331.6,374.0 L329.2,374.0 L326.9,374.0 L324.6,373.8 L322.3,373.5 L320.1,373.2 L317.9,372.7 L315.7,372.2 L313.7,371.6 L311.7,370.9 L309.7,370.1 L307.9,369.3 L306.2,368.4 L304.5,367.4 L303.0,366.3 L301.6,365.2 L300.4,364.0 L299.3,362.7 L298.3,361.4 L297.5,360.0 L296.8,358.5 L296.4,357.0 L296.1,355.5 L296.0,354.0 L296.1,352.5 L296.4,351.0 L296.8,349.5 L297.5,348.0 L298.3,346.6 L299.2,345.3 L300.3,344.0 L301.6,342.7 L302.9,341.6 L304.4,340.5 L306.1,339.4 L307.8,338.5 L309.6,337.6 L311.5,336.8 L313.6,336.1 L315.6,335.4 L317.8,334.9 L320.0,334.4 L322.3,334.1 L324.6,333.8 L326.9,333.6 L329.2,333.5 L331.6,333.5 L333.9,333.6 L336.2,333.8 L338.5,334.1 L340.8,334.5 L343.0,335.0 L345.1,335.6 L347.2,336.3 L349.1,337.1 L351.0,338.0 L352.8,338.9 L354.5,339.9 L356.0,340.9 L357.5,342.1 L358.8,343.3 L359.9,344.5 L360.9,345.8 L361.8,347.1 L362.5,348.4 L363.1,349.8 L363.5,351.2 L363.7,352.6ZM362.1,352.8 L361.9,351.6 L361.5,350.4 L361.0,349.2 L360.3,348.1 L359.4,346.9 L358.4,345.9 L357.3,344.8 L356.1,343.8 L354.7,342.9 L353.2,342.0 L351.6,341.2 L349.9,340.4 L348.1,339.7 L346.2,339.1 L344.3,338.6 L342.3,338.1 L340.2,337.7 L338.1,337.4 L335.9,337.1 L333.7,337.0 L331.5,336.9 L329.3,336.9 L327.1,337.0 L324.9,337.2 L322.8,337.4 L320.6,337.8 L318.6,338.2 L316.6,338.8 L314.6,339.4 L312.8,340.0 L311.0,340.8 L309.4,341.6 L307.8,342.4 L306.4,343.4 L305.1,344.3 L304.0,345.3 L302.9,346.4 L302.0,347.4 L301.3,348.5 L300.7,349.6 L300.2,350.7 L299.9,351.8 L299.7,352.9 L299.6,354.0 L299.7,355.1 L299.9,356.2 L300.2,357.3 L300.6,358.4 L301.2,359.5 L302.0,360.6 L302.8,361.7 L303.9,362.8 L305.0,363.8 L306.3,364.8 L307.7,365.7 L309.3,366.6 L310.9,367.5 L312.7,368.3 L314.5,369.0 L316.5,369.6 L318.5,370.1 L320.6,370.6 L322.7,371.0 L324.9,371.3 L327.1,371.4 L329.3,371.5 L331.5,371.5 L333.7,371.5 L335.9,371.3 L338.1,371.0 L340.3,370.7 L342.3,370.3 L344.4,369.8 L346.3,369.2 L348.2,368.6 L350.0,367.8 L351.7,367.0 L353.3,366.2 L354.8,365.3 L356.2,364.3 L357.4,363.3 L358.5,362.2 L359.5,361.1 L360.3,360.0 L361.0,358.8 L361.5,357.6 L361.9,356.4 L362.1,355.2 L362.2,354.0Z" fill="#000" fill-rule="evenodd"/>
<g fill="#000"><circle cx="246.5" cy="256.7" r="1.85"/><circle cx="253.5" cy="247.3" r="1.85"/><circle cx="260" cy="238.5" r="1.85"/><circle cx="266.8" cy="230" r="1.85"/><circle cx="274" cy="222.5" r="1.85"/><circle cx="281.2" cy="214.8" r="1.85"/><circle cx="289.2" cy="207.3" r="1.85"/><circle cx="298" cy="199.9" r="1.85"/><circle cx="306.8" cy="193.5" r="1.85"/><circle cx="315.3" cy="186.5" r="1.85"/><circle cx="324.7" cy="180.7" r="1.85"/><circle cx="334" cy="175.3" r="1.85"/><circle cx="343.3" cy="169.5" r="1.85"/><circle cx="352.7" cy="163.9" r="1.85"/><circle cx="362.5" cy="158.8" r="1.85"/><circle cx="372.7" cy="154" r="1.85"/><circle cx="382.5" cy="149.2" r="1.85"/><circle cx="392.7" cy="146" r="1.85"/><circle cx="403.3" cy="142" r="1.85"/><circle cx="413.5" cy="138.5" r="1.85"/><circle cx="424" cy="135.3" r="1.85"/><circle cx="434.8" cy="132.1" r="1.85"/><circle cx="445.5" cy="129.5" r="1.85"/><circle cx="456" cy="126.8" r="1.85"/><circle cx="467.3" cy="124.7" r="1.85"/><circle cx="478" cy="123.3" r="1.85"/><circle cx="488.7" cy="122" r="1.85"/><circle cx="499.5" cy="121" r="1.85"/><circle cx="510.3" cy="120" r="1.85"/><circle cx="521.5" cy="119.3" r="1.85"/><circle cx="532" cy="118.75" r="1.85"/><circle cx="543" cy="118.75" r="1.85"/><circle cx="554.5" cy="118.75" r="1.85"/><circle cx="565.5" cy="119.25" r="1.85"/><circle cx="576.3" cy="119.5" r="1.85"/><circle cx="587" cy="120.5" r="1.85"/><circle cx="598" cy="121.25" r="1.85"/><circle cx="608.8" cy="122.5" r="1.85"/><circle cx="619.5" cy="123.75" r="1.85"/><circle cx="630.5" cy="125.5" r="1.85"/><circle cx="641.8" cy="127.5" r="1.85"/><circle cx="652.5" cy="129.5" r="1.85"/><circle cx="663" cy="132" r="1.85"/><circle cx="673.8" cy="135" r="1.85"/><circle cx="684.5" cy="137.5" r="1.85"/><circle cx="695" cy="140.5" r="1.85"/><circle cx="705.5" cy="143.75" r="1.85"/><circle cx="715.5" cy="147.5" r="1.85"/><circle cx="726.3" cy="151.25" r="1.85"/><circle cx="736.3" cy="155.5" r="1.85"/><circle cx="746.3" cy="159.5" r="1.85"/><circle cx="756.3" cy="163.75" r="1.85"/><circle cx="766.3" cy="168.75" r="1.85"/></g>
<path d="M496.7,303.2 L496.6,304.7 L496.3,306.3 L495.9,307.8 L495.2,309.3 L494.4,310.7 L493.5,312.1 L492.3,313.5 L491.0,314.8 L489.6,316.1 L488.0,317.3 L486.3,318.4 L484.5,319.4 L482.5,320.4 L480.5,321.2 L478.3,322.0 L476.1,322.7 L473.8,323.3 L471.4,323.9 L469.0,324.3 L466.5,324.6 L464.0,324.8 L461.5,324.9 L458.9,324.9 L456.4,324.8 L453.9,324.6 L451.4,324.3 L449.0,324.0 L446.6,323.5 L444.3,322.9 L442.0,322.3 L439.8,321.5 L437.7,320.7 L435.7,319.8 L433.8,318.8 L432.0,317.7 L430.4,316.6 L428.9,315.3 L427.5,314.0 L426.3,312.7 L425.2,311.2 L424.3,309.7 L423.6,308.1 L423.1,306.5 L422.8,304.9 L422.7,303.2 L422.8,301.5 L423.1,299.9 L423.6,298.3 L424.3,296.7 L425.1,295.1 L426.2,293.6 L427.3,292.2 L428.7,290.9 L430.2,289.6 L431.8,288.3 L433.6,287.2 L435.5,286.1 L437.5,285.2 L439.6,284.3 L441.8,283.5 L444.1,282.8 L446.4,282.2 L448.8,281.6 L451.3,281.2 L453.8,281.0 L456.4,280.8 L458.9,280.7 L461.5,280.8 L464.0,280.9 L466.6,281.2 L469.1,281.5 L471.5,282.0 L473.9,282.6 L476.2,283.2 L478.5,283.9 L480.7,284.7 L482.7,285.6 L484.7,286.6 L486.6,287.6 L488.3,288.8 L489.8,290.0 L491.3,291.3 L492.5,292.7 L493.6,294.1 L494.6,295.6 L495.3,297.1 L495.9,298.6 L496.4,300.1 L496.6,301.7ZM494.8,301.9 L494.5,300.6 L494.1,299.3 L493.5,298.0 L492.7,296.7 L491.8,295.5 L490.7,294.4 L489.5,293.2 L488.2,292.1 L486.7,291.1 L485.1,290.1 L483.3,289.2 L481.5,288.3 L479.6,287.5 L477.5,286.8 L475.4,286.2 L473.2,285.6 L470.9,285.2 L468.6,284.9 L466.2,284.6 L463.8,284.5 L461.4,284.5 L459.0,284.5 L456.6,284.6 L454.2,284.9 L451.9,285.2 L449.6,285.6 L447.3,286.0 L445.1,286.6 L443.0,287.2 L441.0,288.0 L439.1,288.8 L437.3,289.6 L435.6,290.6 L434.0,291.6 L432.6,292.6 L431.3,293.7 L430.2,294.8 L429.2,296.0 L428.4,297.2 L427.7,298.4 L427.2,299.6 L426.8,300.8 L426.6,302.0 L426.5,303.2 L426.6,304.4 L426.8,305.6 L427.1,306.8 L427.6,308.1 L428.3,309.3 L429.1,310.5 L430.0,311.7 L431.1,312.9 L432.4,314.0 L433.8,315.2 L435.4,316.2 L437.1,317.2 L438.9,318.2 L440.8,319.0 L442.8,319.8 L444.9,320.5 L447.1,321.1 L449.4,321.6 L451.8,322.0 L454.1,322.4 L456.5,322.6 L459.0,322.7 L461.4,322.7 L463.9,322.6 L466.3,322.4 L468.7,322.1 L471.0,321.7 L473.3,321.3 L475.5,320.7 L477.7,320.0 L479.7,319.3 L481.7,318.5 L483.6,317.6 L485.3,316.7 L486.9,315.6 L488.4,314.5 L489.7,313.4 L490.9,312.2 L492.0,311.0 L492.9,309.8 L493.6,308.5 L494.2,307.2 L494.6,305.9 L494.8,304.5 L494.9,303.2Z" fill="#000" fill-rule="evenodd"/>
<path d="M383.9,329.8 L384.6,328.7 L385.3,327.5 L386.0,326.4 L386.8,325.4 L387.7,324.3 L388.6,323.3 L389.5,322.4 L390.4,321.5 L391.4,320.6 L392.4,319.7 L393.5,318.9 L394.6,318.0 L395.7,317.2 L396.9,316.5 L398.1,315.7 L399.4,315.0 L400.7,314.2 L402.0,313.5 L403.3,312.8 L404.7,312.0 L406.2,311.4 L407.7,310.7 L409.3,310.0 L410.9,309.4 L412.6,308.8 L414.3,308.2 L416.1,307.6 L418.0,307.1 L419.9,306.6 L421.8,306.0 L423.9,305.6 L423.1,302.4 L421.1,302.9 L419.0,303.5 L417.1,304.0 L415.2,304.5 L413.3,305.1 L411.5,305.7 L409.8,306.3 L408.1,306.9 L406.4,307.6 L404.8,308.3 L403.3,309.0 L401.8,309.7 L400.3,310.5 L398.9,311.3 L397.6,312.1 L396.3,313.0 L395.1,313.9 L393.9,314.8 L392.8,315.8 L391.7,316.8 L390.7,317.8 L389.7,318.9 L388.8,319.9 L387.9,321.0 L387.1,322.1 L386.3,323.3 L385.5,324.4 L384.8,325.6 L384.0,326.7 L383.4,327.9 L382.7,329.2Z" fill="#000"/>
<path d="M493.7,314.1 L495.2,314.6 L496.7,315.1 L498.1,315.6 L499.6,316.2 L501.0,316.7 L502.5,317.3 L503.9,317.9 L505.3,318.5 L506.7,319.1 L508.1,319.7 L509.5,320.4 L510.9,321.1 L512.3,321.8 L513.7,322.5 L515.1,323.2 L516.5,324.0 L517.9,324.8 L519.2,325.6 L520.6,326.5 L521.9,327.4 L523.3,328.2 L524.7,329.1 L526.1,329.9 L527.5,330.8 L528.9,331.7 L530.3,332.7 L531.7,333.6 L533.2,334.6 L534.5,335.6 L535.9,336.7 L537.3,337.8 L538.7,336.2 L537.4,335.0 L536.0,333.8 L534.7,332.7 L533.4,331.5 L532.1,330.3 L530.8,329.2 L529.5,328.1 L528.2,327.0 L526.8,326.0 L525.5,325.0 L524.1,324.0 L522.7,323.1 L521.3,322.2 L519.9,321.4 L518.5,320.5 L517.1,319.7 L515.7,318.9 L514.3,318.1 L512.8,317.4 L511.4,316.6 L510.0,315.9 L508.5,315.2 L507.1,314.5 L505.6,313.9 L504.1,313.2 L502.6,312.6 L501.2,312.0 L499.7,311.4 L498.1,310.9 L496.6,310.4 L495.1,309.9Z" fill="#000"/>
<path d="M528.3,312.8 L528.8,314.3 L529.4,315.9 L530.0,317.4 L530.5,319.0 L531.1,320.5 L531.6,322.1 L532.1,323.6 L532.7,325.2 L533.2,326.7 L533.7,328.3 L534.3,329.8 L534.8,331.4 L535.4,332.9 L535.9,334.5 L536.5,336.0 L537.1,337.5 L539.9,336.5 L539.3,334.9 L538.7,333.4 L538.1,331.9 L537.4,330.4 L536.8,328.9 L536.1,327.4 L535.5,325.8 L534.8,324.3 L534.2,322.8 L533.5,321.3 L532.9,319.8 L532.2,318.3 L531.6,316.8 L531.0,315.3 L530.3,313.7 L529.7,312.2Z" fill="#000"/>
<path d="M538.0,335.1 L536.4,335.5 L534.8,336.0 L533.2,336.5 L531.6,337.0 L530.0,337.5 L528.4,338.0 L526.9,338.5 L525.3,339.0 L523.7,339.5 L522.1,340.0 L520.5,340.5 L518.9,341.0 L517.3,341.4 L517.9,343.6 L519.5,343.2 L521.1,342.8 L522.7,342.4 L524.4,342.1 L526.0,341.7 L527.6,341.4 L529.3,341.1 L530.9,340.8 L532.5,340.4 L534.2,340.1 L535.8,339.7 L537.4,339.3 L539.0,338.9Z" fill="#000"/>
<path d="M423.5,395.6 L425.1,395.6 L426.7,395.6 L428.3,395.6 L430.0,395.6 L431.6,395.5 L433.2,395.5 L434.8,395.5 L436.4,395.5 L438.0,395.5 L439.6,395.5 L441.2,395.5 L442.8,395.5 L444.4,395.4 L446.1,395.4 L447.7,395.4 L449.3,395.4 L450.9,395.4 L452.5,395.4 L454.1,395.4 L455.7,395.4 L457.3,395.4 L458.9,395.3 L460.5,395.3 L462.2,395.3 L463.8,395.3 L465.4,395.3 L467.0,395.3 L468.6,395.3 L470.2,395.3 L471.8,395.2 L473.4,395.2 L475.0,395.2 L476.7,395.2 L478.3,395.2 L479.9,395.2 L481.5,395.2 L483.1,395.2 L484.7,395.1 L486.3,395.1 L487.9,395.1 L489.5,395.1 L491.1,395.1 L492.8,395.1 L494.4,395.1 L496.0,395.1 L497.6,395.1 L499.2,395.0 L500.8,395.0 L502.4,395.0 L504.0,395.0 L505.6,395.0 L507.2,395.0 L508.9,395.0 L510.5,395.0 L512.1,394.9 L513.7,394.9 L515.3,394.9 L516.9,394.9 L518.5,394.9 L518.5,390.7 L516.9,390.7 L515.3,390.7 L513.7,390.7 L512.0,390.7 L510.4,390.8 L508.8,390.8 L507.2,390.8 L505.6,390.8 L504.0,390.8 L502.4,390.8 L500.8,390.8 L499.2,390.8 L497.6,390.9 L495.9,390.9 L494.3,390.9 L492.7,390.9 L491.1,390.9 L489.5,390.9 L487.9,390.9 L486.3,390.9 L484.7,390.9 L483.1,391.0 L481.5,391.0 L479.8,391.0 L478.2,391.0 L476.6,391.0 L475.0,391.0 L473.4,391.0 L471.8,391.0 L470.2,391.1 L468.6,391.1 L467.0,391.1 L465.3,391.1 L463.7,391.1 L462.1,391.1 L460.5,391.1 L458.9,391.1 L457.3,391.2 L455.7,391.2 L454.1,391.2 L452.5,391.2 L450.9,391.2 L449.2,391.2 L447.6,391.2 L446.0,391.2 L444.4,391.2 L442.8,391.3 L441.2,391.3 L439.6,391.3 L438.0,391.3 L436.4,391.3 L434.8,391.3 L433.1,391.3 L431.5,391.3 L429.9,391.4 L428.3,391.4 L426.7,391.4 L425.1,391.4 L423.5,391.4Z" fill="#000"/>
<path d="M516.7,392.8 L516.7,394.4 L516.7,396.1 L516.7,397.7 L516.7,399.3 L516.7,401.0 L516.7,402.6 L516.8,404.2 L516.8,405.9 L516.8,407.5 L516.8,409.1 L516.8,410.7 L516.9,412.4 L516.9,414.0 L516.9,415.6 L516.9,417.3 L517.0,418.9 L517.0,420.5 L517.0,422.2 L517.0,423.8 L517.0,425.4 L517.1,427.1 L517.1,428.7 L517.1,430.3 L517.1,431.9 L517.1,433.6 L517.2,435.2 L517.2,436.8 L517.2,438.5 L517.2,440.1 L517.2,441.7 L517.2,443.4 L517.2,445.0 L519.8,445.0 L519.8,443.4 L519.8,441.7 L519.8,440.1 L519.8,438.5 L519.8,436.8 L519.8,435.2 L519.9,433.6 L519.9,431.9 L519.9,430.3 L519.9,428.7 L519.9,427.1 L520.0,425.4 L520.0,423.8 L520.0,422.2 L520.0,420.5 L520.0,418.9 L520.1,417.3 L520.1,415.6 L520.1,414.0 L520.1,412.4 L520.2,410.7 L520.2,409.1 L520.2,407.5 L520.2,405.9 L520.2,404.2 L520.3,402.6 L520.3,401.0 L520.3,399.3 L520.3,397.7 L520.3,396.1 L520.3,394.4 L520.3,392.8Z" fill="#000"/>
<path d="M518.5,443.7 L516.9,443.7 L515.3,443.7 L513.7,443.7 L512.1,443.7 L510.4,443.7 L508.8,443.7 L507.2,443.7 L505.6,443.7 L504.0,443.8 L502.4,443.8 L500.8,443.8 L499.2,443.8 L497.6,443.8 L496.0,443.8 L494.3,443.8 L492.7,443.8 L491.1,443.8 L489.5,443.8 L487.9,443.8 L486.3,443.8 L484.7,443.8 L483.1,443.8 L481.5,443.8 L479.8,443.8 L478.2,443.8 L476.6,443.8 L475.0,443.8 L473.4,443.8 L471.8,443.8 L470.2,443.7 L468.6,443.7 L467.0,443.7 L465.4,443.7 L463.7,443.7 L462.1,443.7 L460.5,443.7 L458.9,443.7 L457.3,443.7 L455.7,443.7 L454.1,443.7 L452.5,443.7 L450.9,443.7 L449.3,443.7 L447.6,443.7 L446.0,443.7 L444.4,443.7 L442.8,443.7 L441.2,443.7 L439.6,443.7 L438.0,443.7 L436.4,443.8 L434.8,443.8 L433.2,443.8 L431.5,443.8 L429.9,443.8 L428.3,443.8 L426.7,443.8 L425.1,443.8 L423.5,443.8 L423.5,447.2 L425.1,447.2 L426.7,447.2 L428.3,447.2 L429.9,447.2 L431.6,447.1 L433.2,447.1 L434.8,447.1 L436.4,447.1 L438.0,447.1 L439.6,447.1 L441.2,447.1 L442.8,447.1 L444.4,447.0 L446.1,447.0 L447.7,447.0 L449.3,447.0 L450.9,447.0 L452.5,447.0 L454.1,446.9 L455.7,446.9 L457.3,446.9 L458.9,446.9 L460.5,446.9 L462.2,446.9 L463.8,446.8 L465.4,446.8 L467.0,446.8 L468.6,446.8 L470.2,446.8 L471.8,446.7 L473.4,446.7 L475.0,446.7 L476.6,446.7 L478.3,446.7 L479.9,446.6 L481.5,446.6 L483.1,446.6 L484.7,446.6 L486.3,446.6 L487.9,446.6 L489.5,446.5 L491.1,446.5 L492.7,446.5 L494.4,446.5 L496.0,446.5 L497.6,446.5 L499.2,446.4 L500.8,446.4 L502.4,446.4 L504.0,446.4 L505.6,446.4 L507.2,446.4 L508.8,446.4 L510.5,446.4 L512.1,446.3 L513.7,446.3 L515.3,446.3 L516.9,446.3 L518.5,446.3Z" fill="#000"/>
<path d="M425.3,445.5 L425.3,443.9 L425.3,442.2 L425.3,440.6 L425.3,439.0 L425.3,437.4 L425.3,435.8 L425.3,434.1 L425.3,432.5 L425.3,430.9 L425.3,429.2 L425.4,427.6 L425.4,426.0 L425.4,424.4 L425.4,422.8 L425.4,421.1 L425.4,419.5 L425.4,417.9 L425.4,416.2 L425.4,414.6 L425.4,413.0 L425.4,411.4 L425.5,409.8 L425.5,408.1 L425.5,406.5 L425.5,404.9 L425.5,403.2 L425.5,401.6 L425.5,400.0 L425.5,398.4 L425.5,396.8 L425.5,395.1 L425.5,393.5 L421.5,393.5 L421.5,395.1 L421.5,396.8 L421.5,398.4 L421.5,400.0 L421.5,401.6 L421.5,403.2 L421.5,404.9 L421.5,406.5 L421.5,408.1 L421.5,409.8 L421.6,411.4 L421.6,413.0 L421.6,414.6 L421.6,416.2 L421.6,417.9 L421.6,419.5 L421.6,421.1 L421.6,422.8 L421.6,424.4 L421.6,426.0 L421.6,427.6 L421.7,429.2 L421.7,430.9 L421.7,432.5 L421.7,434.1 L421.7,435.8 L421.7,437.4 L421.7,439.0 L421.7,440.6 L421.7,442.2 L421.7,443.9 L421.7,445.5Z" fill="#000"/>
<path d="M423.7,403.2 L422.1,402.5 L420.6,401.9 L419.0,401.2 L417.4,400.6 L415.8,400.0 L414.3,399.3 L412.7,398.6 L411.2,397.9 L409.7,397.2 L408.2,396.5 L406.8,395.7 L405.4,394.8 L404.0,394.0 L402.6,393.1 L401.2,392.3 L399.9,391.4 L398.6,390.6 L397.3,389.7 L396.1,388.8 L394.8,387.9 L393.6,387.0 L392.5,386.1 L391.4,385.1 L390.3,384.1 L388.7,385.9 L389.8,386.9 L390.9,387.9 L392.0,388.9 L393.2,389.9 L394.4,390.9 L395.7,391.9 L396.9,392.9 L398.2,393.9 L399.5,394.8 L400.9,395.7 L402.3,396.7 L403.7,397.6 L405.1,398.4 L406.6,399.3 L408.0,400.2 L409.5,401.1 L411.0,402.0 L412.4,402.9 L413.9,403.8 L415.4,404.6 L417.0,405.5 L418.5,406.3 L420.1,407.1 L421.7,407.8Z" fill="#000"/>
<path d="M411.8,379.0 L410.2,379.4 L408.6,379.7 L406.9,380.0 L405.3,380.3 L403.7,380.5 L402.1,380.8 L400.4,381.0 L398.8,381.3 L397.2,381.5 L395.5,381.8 L393.9,382.1 L392.3,382.4 L390.7,382.7 L389.1,383.0 L389.9,387.0 L391.5,386.6 L393.1,386.2 L394.7,385.8 L396.3,385.3 L397.9,384.9 L399.5,384.4 L401.1,384.0 L402.7,383.5 L404.2,383.0 L405.8,382.6 L407.4,382.2 L409.0,381.7 L410.6,381.3 L412.2,381.0Z" fill="#000"/>
<path d="M387.6,385.7 L388.2,387.2 L388.8,388.7 L389.5,390.2 L390.1,391.6 L390.8,393.1 L391.5,394.6 L392.1,396.0 L392.8,397.5 L393.5,399.0 L394.2,400.4 L394.9,401.9 L395.5,403.3 L396.2,404.8 L396.8,406.3 L397.4,407.8 L398.0,409.3 L399.4,408.7 L398.8,407.2 L398.3,405.7 L397.8,404.2 L397.3,402.7 L396.8,401.1 L396.3,399.6 L395.9,398.0 L395.4,396.5 L394.9,395.0 L394.4,393.4 L394.0,391.9 L393.5,390.4 L393.0,388.8 L392.5,387.3 L391.9,385.8 L391.4,384.3Z" fill="#000"/>
<path d="M519.3,418.9 L521.0,418.5 L522.8,418.0 L524.5,417.4 L526.2,416.8 L527.9,416.2 L529.5,415.6 L531.2,414.9 L532.8,414.2 L534.4,413.5 L536.0,412.8 L537.6,412.1 L539.1,411.4 L540.6,410.7 L542.1,410.0 L543.6,409.2 L545.0,408.4 L546.4,407.6 L547.7,406.8 L548.9,405.9 L550.1,405.0 L551.3,404.1 L552.4,403.2 L553.5,402.3 L554.5,401.5 L555.5,400.6 L554.5,399.4 L553.5,400.2 L552.4,401.0 L551.3,401.7 L550.2,402.4 L548.9,403.1 L547.6,403.8 L546.3,404.5 L545.0,405.1 L543.6,405.8 L542.2,406.4 L540.7,407.1 L539.3,407.8 L537.8,408.4 L536.3,409.0 L534.7,409.6 L533.1,410.1 L531.5,410.6 L529.8,411.1 L528.2,411.5 L526.5,412.0 L524.8,412.4 L523.2,412.8 L521.5,413.3 L519.8,413.7 L518.1,414.1Z" fill="#000"/>
<path d="M623.0,292.6 L624.6,292.6 L626.3,292.6 L627.9,292.6 L629.5,292.6 L631.1,292.6 L632.8,292.6 L634.4,292.6 L636.0,292.6 L637.6,292.6 L639.3,292.6 L640.9,292.6 L642.5,292.6 L644.2,292.6 L645.8,292.5 L647.4,292.5 L649.0,292.5 L650.7,292.5 L652.3,292.5 L653.9,292.5 L655.5,292.5 L657.2,292.5 L658.8,292.5 L660.4,292.5 L662.1,292.5 L663.7,292.5 L665.3,292.5 L666.9,292.5 L668.6,292.5 L670.2,292.5 L671.8,292.5 L673.4,292.5 L675.1,292.5 L676.7,292.5 L678.3,292.5 L680.0,292.5 L681.6,292.5 L683.2,292.5 L684.8,292.5 L686.5,292.5 L688.1,292.5 L689.7,292.5 L691.3,292.4 L693.0,292.4 L694.6,292.4 L696.2,292.4 L697.9,292.4 L699.5,292.4 L701.1,292.4 L702.7,292.4 L704.4,292.4 L706.0,292.4 L707.6,292.4 L709.2,292.4 L710.9,292.4 L712.5,292.4 L712.5,289.6 L710.9,289.6 L709.2,289.6 L707.6,289.6 L706.0,289.6 L704.4,289.6 L702.7,289.6 L701.1,289.6 L699.5,289.6 L697.9,289.6 L696.2,289.6 L694.6,289.6 L693.0,289.6 L691.3,289.6 L689.7,289.7 L688.1,289.7 L686.5,289.7 L684.8,289.7 L683.2,289.7 L681.6,289.7 L680.0,289.7 L678.3,289.7 L676.7,289.7 L675.1,289.7 L673.4,289.7 L671.8,289.7 L670.2,289.7 L668.6,289.7 L666.9,289.7 L665.3,289.7 L663.7,289.7 L662.1,289.7 L660.4,289.7 L658.8,289.7 L657.2,289.7 L655.5,289.7 L653.9,289.7 L652.3,289.7 L650.7,289.7 L649.0,289.7 L647.4,289.7 L645.8,289.7 L644.2,289.8 L642.5,289.8 L640.9,289.8 L639.3,289.8 L637.6,289.8 L636.0,289.8 L634.4,289.8 L632.8,289.8 L631.1,289.8 L629.5,289.8 L627.9,289.8 L626.3,289.8 L624.6,289.8 L623.0,289.8Z" fill="#000"/>
<path d="M711.3,290.9 L711.2,293.1 L711.1,295.2 L711.0,297.3 L710.9,299.4 L710.8,301.5 L710.7,303.5 L710.6,305.5 L710.5,307.5 L710.3,309.5 L710.2,311.4 L710.1,313.3 L710.0,315.2 L709.9,317.1 L709.7,318.9 L709.6,320.7 L709.5,322.5 L709.4,324.3 L709.2,326.0 L709.1,327.7 L709.0,329.4 L708.8,331.1 L708.7,332.7 L708.6,334.3 L708.4,335.9 L708.3,337.5 L708.2,339.0 L708.0,340.6 L707.9,342.1 L707.7,343.5 L707.6,345.0 L707.4,346.4 L707.3,347.8 L707.2,349.2 L707.0,350.5 L706.9,351.8 L706.7,353.1 L706.6,354.4 L706.4,355.6 L706.3,356.9 L706.1,358.1 L706.0,359.2 L705.8,360.4 L705.6,361.5 L705.5,362.6 L705.3,363.7 L705.2,364.7 L705.0,365.8 L704.8,367.7 L704.5,369.5 L704.2,371.3 L703.9,373.1 L703.6,374.8 L703.2,376.5 L702.8,378.2 L702.5,379.9 L702.1,381.5 L701.6,383.1 L701.2,384.6 L700.7,386.1 L700.2,387.6 L699.7,389.1 L699.2,390.5 L698.6,391.8 L698.0,393.1 L697.4,394.4 L696.7,395.6 L696.0,396.8 L695.3,398.0 L694.5,399.1 L693.8,400.1 L692.9,401.1 L692.1,402.1 L691.2,403.0 L690.3,403.9 L689.3,404.7 L688.3,405.5 L687.3,406.2 L686.2,406.9 L685.1,407.6 L683.9,408.2 L682.7,408.7 L681.4,409.2 L682.6,412.4 L684.0,411.8 L685.4,411.2 L686.7,410.6 L688.0,409.8 L689.2,409.0 L690.4,408.2 L691.5,407.3 L692.6,406.4 L693.6,405.4 L694.6,404.4 L695.5,403.3 L696.4,402.1 L697.2,401.0 L698.0,399.7 L698.8,398.5 L699.5,397.2 L700.2,395.9 L700.9,394.5 L701.5,393.1 L702.1,391.6 L702.7,390.2 L703.2,388.6 L703.7,387.1 L704.2,385.5 L704.6,383.9 L705.0,382.3 L705.4,380.6 L705.8,378.9 L706.2,377.1 L706.5,375.4 L706.8,373.6 L707.2,371.8 L707.4,370.0 L707.7,368.1 L708.0,366.2 L708.1,365.2 L708.3,364.1 L708.5,363.0 L708.6,361.9 L708.8,360.8 L708.9,359.6 L709.1,358.4 L709.2,357.2 L709.4,356.0 L709.5,354.7 L709.6,353.5 L709.8,352.1 L709.9,350.8 L710.0,349.5 L710.2,348.1 L710.3,346.7 L710.4,345.2 L710.6,343.8 L710.7,342.3 L710.8,340.8 L711.0,339.3 L711.1,337.7 L711.2,336.2 L711.3,334.6 L711.4,332.9 L711.5,331.3 L711.7,329.6 L711.8,327.9 L711.9,326.2 L712.0,324.5 L712.1,322.7 L712.2,320.9 L712.3,319.1 L712.4,317.2 L712.5,315.4 L712.6,313.5 L712.7,311.6 L712.8,309.6 L712.9,307.6 L713.0,305.7 L713.1,303.6 L713.2,301.6 L713.3,299.5 L713.4,297.5 L713.5,295.3 L713.6,293.2 L713.7,291.1Z" fill="#000"/>
<path d="M682.0,409.1 L680.4,409.1 L678.8,409.1 L677.2,409.1 L675.6,409.1 L674.0,409.1 L672.4,409.1 L670.8,409.1 L669.2,409.1 L667.6,409.1 L666.0,409.1 L664.4,409.1 L662.8,409.1 L661.2,409.1 L659.6,409.1 L658.0,409.1 L656.4,409.1 L654.8,409.1 L653.2,409.1 L651.6,409.1 L650.0,409.2 L648.4,409.2 L646.8,409.2 L645.2,409.2 L643.6,409.2 L642.0,409.2 L640.4,409.2 L638.8,409.2 L637.2,409.2 L635.6,409.2 L634.0,409.2 L632.4,409.2 L630.8,409.2 L629.2,409.2 L627.6,409.2 L626.0,409.2 L624.4,409.2 L622.8,409.2 L621.2,409.2 L619.6,409.2 L618.0,409.2 L616.4,409.3 L614.8,409.3 L613.2,409.3 L611.6,409.3 L610.0,409.3 L608.4,409.3 L606.8,409.3 L605.2,409.3 L603.6,409.3 L602.0,409.3 L600.4,409.3 L598.8,409.3 L597.2,409.3 L595.6,409.3 L594.1,409.3 L592.3,409.2 L590.7,408.9 L589.1,408.6 L587.5,408.2 L586.0,407.8 L584.6,407.3 L583.3,406.7 L582.0,406.1 L580.8,405.5 L579.6,404.7 L578.5,403.9 L577.4,403.1 L576.4,402.2 L575.5,401.2 L574.6,400.2 L573.8,399.1 L573.0,397.9 L572.4,396.7 L571.8,395.5 L571.2,394.1 L570.8,392.8 L569.2,393.2 L569.7,394.7 L570.2,396.1 L570.8,397.5 L571.5,398.8 L572.2,400.1 L573.0,401.4 L573.8,402.6 L574.8,403.7 L575.8,404.8 L576.9,405.9 L578.1,406.8 L579.3,407.8 L580.6,408.6 L582.0,409.4 L583.5,410.0 L585.1,410.6 L586.7,411.1 L588.4,411.6 L590.2,411.9 L592.0,412.1 L593.9,412.3 L595.6,412.3 L597.2,412.3 L598.8,412.3 L600.4,412.3 L602.0,412.3 L603.6,412.3 L605.2,412.3 L606.8,412.3 L608.4,412.3 L610.0,412.3 L611.6,412.3 L613.2,412.3 L614.8,412.3 L616.4,412.3 L618.0,412.4 L619.6,412.4 L621.2,412.4 L622.8,412.4 L624.4,412.4 L626.0,412.4 L627.6,412.4 L629.2,412.4 L630.8,412.4 L632.4,412.4 L634.0,412.4 L635.6,412.4 L637.2,412.4 L638.8,412.4 L640.4,412.4 L642.0,412.4 L643.6,412.4 L645.2,412.4 L646.8,412.4 L648.4,412.4 L650.0,412.4 L651.6,412.5 L653.2,412.5 L654.8,412.5 L656.4,412.5 L658.0,412.5 L659.6,412.5 L661.2,412.5 L662.8,412.5 L664.4,412.5 L666.0,412.5 L667.6,412.5 L669.2,412.5 L670.8,412.5 L672.4,412.5 L674.0,412.5 L675.6,412.5 L677.2,412.5 L678.8,412.5 L680.4,412.5 L682.0,412.5Z" fill="#000"/>
<path d="M569.4,393.5 L570.7,395.3 L572.0,396.8 L573.4,398.0 L574.9,398.9 L576.5,399.5 L578.2,399.9 L580.0,400.0 L581.5,399.9 L582.8,399.6 L584.1,399.1 L585.4,398.6 L586.7,397.8 L587.9,397.0 L589.0,395.9 L590.1,394.7 L591.1,393.4 L592.1,391.9 L593.0,390.3 L593.8,388.5 L594.6,386.5 L595.3,384.4 L595.5,383.2 L595.8,382.0 L596.1,380.8 L596.4,379.5 L596.7,378.2 L597.0,376.9 L597.3,375.6 L597.6,374.2 L597.9,372.8 L598.2,371.4 L598.5,369.9 L598.8,368.4 L599.2,366.9 L599.5,365.4 L599.8,363.8 L600.1,362.2 L600.4,360.6 L600.7,359.0 L601.0,357.4 L601.3,355.7 L601.6,354.1 L602.0,352.4 L602.3,350.7 L602.6,349.0 L602.9,347.3 L603.2,345.6 L603.5,343.9 L603.8,342.1 L604.1,340.4 L604.4,338.7 L604.7,336.9 L604.9,335.2 L605.2,333.4 L605.5,331.7 L605.8,329.9 L606.1,328.2 L606.3,326.5 L606.6,324.7 L606.9,323.0 L607.1,321.3 L607.4,319.6 L607.6,317.9 L607.9,316.2 L608.1,314.4 L608.4,312.6 L608.7,311.0 L609.1,309.4 L609.5,307.8 L610.0,306.3 L610.5,304.9 L611.1,303.6 L611.7,302.3 L612.4,301.1 L613.1,300.0 L613.9,298.9 L614.7,297.9 L615.6,297.0 L616.5,296.1 L617.5,295.4 L618.6,294.6 L619.7,294.0 L620.8,293.4 L622.1,293.0 L623.4,292.5 L622.6,289.9 L621.1,290.3 L619.7,290.9 L618.4,291.5 L617.1,292.3 L615.9,293.1 L614.7,294.0 L613.6,295.0 L612.6,296.0 L611.7,297.2 L610.8,298.4 L610.0,299.7 L609.2,301.0 L608.5,302.4 L607.9,303.9 L607.4,305.4 L606.8,307.0 L606.4,308.7 L606.0,310.4 L605.6,312.2 L605.4,314.0 L605.1,315.8 L604.9,317.5 L604.6,319.2 L604.4,320.9 L604.1,322.6 L603.8,324.3 L603.6,326.0 L603.3,327.8 L603.0,329.5 L602.7,331.2 L602.5,333.0 L602.2,334.7 L601.9,336.5 L601.6,338.2 L601.3,339.9 L601.0,341.7 L600.7,343.4 L600.4,345.1 L600.1,346.8 L599.8,348.5 L599.5,350.2 L599.2,351.9 L598.9,353.6 L598.6,355.2 L598.3,356.9 L598.0,358.5 L597.7,360.1 L597.4,361.7 L597.1,363.3 L596.8,364.8 L596.5,366.4 L596.2,367.9 L595.9,369.4 L595.6,370.8 L595.3,372.2 L595.0,373.6 L594.7,375.0 L594.4,376.4 L594.1,377.7 L593.9,378.9 L593.6,380.2 L593.3,381.4 L593.0,382.6 L592.7,383.6 L592.1,385.6 L591.4,387.5 L590.6,389.1 L589.8,390.6 L589.0,391.9 L588.1,393.1 L587.2,394.2 L586.3,395.1 L585.3,395.9 L584.3,396.5 L583.3,397.1 L582.2,397.5 L581.1,397.8 L580.0,398.0 L578.5,397.9 L577.0,397.7 L575.7,397.2 L574.4,396.5 L573.2,395.6 L571.9,394.2 L570.6,392.5Z" fill="#000"/>
<path d="M622.5,292.4 L624.2,293.2 L625.6,294.1 L626.8,295.1 L627.9,296.2 L628.7,297.4 L629.4,298.6 L629.9,299.9 L630.3,301.1 L630.5,302.4 L630.6,303.6 L630.5,304.8 L630.3,306.0 L629.9,307.1 L629.4,308.1 L628.7,309.0 L627.8,309.9 L626.7,310.6 L625.5,311.2 L624.1,311.7 L622.6,312.0 L620.9,312.2 L621.1,314.4 L622.9,314.2 L624.7,313.9 L626.4,313.4 L627.9,312.8 L629.3,312.0 L630.6,310.9 L631.7,309.8 L632.5,308.4 L633.1,306.8 L633.5,305.2 L633.6,303.6 L633.5,302.0 L633.2,300.4 L632.7,298.8 L632.0,297.3 L631.1,295.8 L630.0,294.4 L628.7,293.1 L627.1,291.9 L625.4,290.9 L623.5,290.0Z" fill="#000"/>
<path d="M621.0,315.0 L622.6,315.0 L624.2,315.0 L625.8,315.0 L627.4,315.0 L629.0,315.0 L630.6,315.0 L632.2,315.0 L633.9,315.0 L635.5,315.0 L637.1,315.0 L638.7,315.0 L640.3,315.0 L641.9,315.0 L643.5,315.0 L645.1,315.0 L646.7,315.0 L648.3,315.0 L649.9,315.0 L651.5,314.9 L653.1,314.9 L654.8,314.9 L656.4,314.9 L658.0,314.9 L659.6,314.9 L661.2,314.9 L662.8,314.9 L664.4,314.9 L666.0,314.9 L667.6,314.9 L669.2,314.9 L670.8,314.9 L672.4,314.9 L674.0,314.9 L675.6,314.9 L677.2,314.9 L678.9,314.9 L680.5,314.9 L682.1,314.8 L683.7,314.8 L685.3,314.8 L686.9,314.8 L688.5,314.8 L690.1,314.8 L691.7,314.8 L693.3,314.8 L694.9,314.8 L696.5,314.8 L698.1,314.8 L699.8,314.8 L701.4,314.8 L703.0,314.8 L704.6,314.8 L706.2,314.8 L707.8,314.8 L709.4,314.8 L711.0,314.8 L711.0,311.8 L709.4,311.8 L707.8,311.8 L706.2,311.8 L704.6,311.8 L703.0,311.8 L701.4,311.8 L699.8,311.8 L698.1,311.8 L696.5,311.8 L694.9,311.8 L693.3,311.8 L691.7,311.8 L690.1,311.8 L688.5,311.8 L686.9,311.8 L685.3,311.8 L683.7,311.8 L682.1,311.8 L680.5,311.7 L678.9,311.7 L677.2,311.7 L675.6,311.7 L674.0,311.7 L672.4,311.7 L670.8,311.7 L669.2,311.7 L667.6,311.7 L666.0,311.7 L664.4,311.7 L662.8,311.7 L661.2,311.7 L659.6,311.7 L658.0,311.7 L656.4,311.7 L654.8,311.7 L653.1,311.7 L651.5,311.7 L649.9,311.6 L648.3,311.6 L646.7,311.6 L645.1,311.6 L643.5,311.6 L641.9,311.6 L640.3,311.6 L638.7,311.6 L637.1,311.6 L635.5,311.6 L633.9,311.6 L632.2,311.6 L630.6,311.6 L629.0,311.6 L627.4,311.6 L625.8,311.6 L624.2,311.6 L622.6,311.6 L621.0,311.6Z" fill="#000"/>
<path d="M620.8,341.6 L622.1,342.1 L623.5,342.8 L624.8,343.5 L626.2,344.3 L627.6,345.0 L629.0,345.8 L630.5,346.4 L632.1,347.0 L633.6,347.5 L635.3,347.8 L637.0,347.9 L638.8,347.8 L640.4,347.8 L642.1,347.7 L643.8,347.6 L645.4,347.4 L647.1,347.3 L648.7,347.2 L650.4,347.1 L652.0,346.9 L653.6,346.8 L655.3,346.6 L656.9,346.5 L658.5,346.3 L660.1,346.2 L661.8,346.0 L663.4,345.9 L665.0,345.7 L666.7,345.6 L668.3,345.5 L670.0,345.4 L671.7,345.3 L673.3,345.2 L675.0,345.1 L675.0,343.9 L673.3,344.0 L671.6,344.0 L669.9,344.1 L668.3,344.1 L666.6,344.2 L665.0,344.2 L663.3,344.3 L661.7,344.3 L660.0,344.4 L658.4,344.5 L656.7,344.5 L655.1,344.6 L653.5,344.7 L651.8,344.8 L650.2,344.9 L648.6,345.0 L646.9,345.1 L645.3,345.3 L643.6,345.4 L642.0,345.6 L640.3,345.7 L638.6,345.9 L637.0,346.1 L635.5,346.0 L634.0,345.8 L632.5,345.5 L631.1,345.0 L629.6,344.4 L628.2,343.8 L626.8,343.1 L625.4,342.4 L624.0,341.7 L622.6,341.0 L621.2,340.4Z" fill="#000"/>
<path d="M621.9,366.1 L623.7,366.4 L625.5,366.8 L627.1,367.1 L628.8,367.4 L630.4,367.7 L632.0,367.9 L633.6,368.2 L635.1,368.4 L636.7,368.6 L638.2,368.7 L639.8,368.8 L641.4,368.9 L643.0,369.0 L645.1,368.9 L647.1,368.8 L649.0,368.7 L650.9,368.6 L652.7,368.5 L654.5,368.4 L656.3,368.2 L658.0,368.1 L659.7,367.9 L661.3,367.8 L663.0,367.6 L664.5,367.4 L666.1,367.3 L667.6,367.1 L669.1,366.9 L670.6,366.7 L672.1,366.5 L673.5,366.4 L674.9,366.2 L676.3,366.0 L677.7,365.8 L679.1,365.6 L680.4,365.5 L681.8,365.3 L683.1,365.1 L682.9,363.9 L681.6,364.1 L680.3,364.2 L678.9,364.4 L677.6,364.5 L676.2,364.7 L674.8,364.8 L673.4,364.9 L671.9,365.1 L670.5,365.2 L669.0,365.3 L667.5,365.4 L665.9,365.5 L664.4,365.6 L662.8,365.7 L661.2,365.8 L659.5,365.9 L657.8,366.0 L656.1,366.1 L654.4,366.2 L652.6,366.3 L650.7,366.4 L648.8,366.6 L646.9,366.7 L645.0,366.9 L643.0,367.0 L641.4,367.0 L639.9,367.0 L638.3,367.0 L636.8,366.9 L635.3,366.8 L633.7,366.7 L632.2,366.5 L630.6,366.3 L629.0,366.1 L627.4,365.8 L625.7,365.5 L623.9,365.2 L622.1,364.9Z" fill="#000"/>
<path d="M611.8,385.1 L613.5,385.5 L615.1,386.0 L616.7,386.5 L618.2,387.0 L619.8,387.5 L621.3,388.0 L622.8,388.5 L624.3,389.0 L625.8,389.5 L627.3,389.9 L628.8,390.4 L630.3,390.8 L631.9,391.1 L633.4,391.5 L635.0,391.7 L636.6,391.9 L638.3,392.1 L640.1,392.1 L641.8,391.9 L643.5,391.7 L645.2,391.5 L646.8,391.2 L648.5,391.0 L650.2,390.7 L651.8,390.4 L653.5,390.2 L655.1,389.9 L656.7,389.6 L658.4,389.3 L660.0,389.0 L661.6,388.7 L663.2,388.4 L664.8,388.1 L666.4,387.8 L668.0,387.5 L669.5,387.2 L671.1,386.9 L672.6,386.6 L674.2,386.4 L675.7,386.1 L677.2,385.9 L678.7,385.7 L680.2,385.5 L681.6,385.3 L683.1,385.1 L682.9,383.9 L681.5,384.1 L680.0,384.3 L678.5,384.4 L677.0,384.6 L675.5,384.8 L674.0,385.0 L672.4,385.2 L670.9,385.4 L669.3,385.6 L667.7,385.8 L666.1,386.1 L664.5,386.3 L662.9,386.5 L661.3,386.7 L659.7,386.9 L658.0,387.2 L656.4,387.4 L654.7,387.6 L653.1,387.9 L651.4,388.1 L649.8,388.4 L648.1,388.6 L646.5,388.9 L644.8,389.1 L643.2,389.4 L641.5,389.6 L639.9,389.9 L638.4,389.9 L636.8,389.8 L635.3,389.7 L633.7,389.5 L632.2,389.2 L630.7,389.0 L629.2,388.6 L627.7,388.3 L626.2,387.9 L624.7,387.5 L623.2,387.1 L621.7,386.6 L620.2,386.2 L618.6,385.7 L617.0,385.2 L615.4,384.8 L613.8,384.3 L612.2,383.9Z" fill="#000"/>
<path d="M601.0,342.7 L599.5,341.8 L598.1,340.9 L596.7,339.9 L595.3,339.0 L593.8,338.1 L592.4,337.2 L591.0,336.3 L589.5,335.3 L588.1,334.4 L586.7,333.5 L585.2,332.6 L583.8,331.6 L582.4,330.7 L581.6,331.9 L583.1,332.8 L584.5,333.7 L585.9,334.7 L587.3,335.6 L588.8,336.5 L590.2,337.4 L591.6,338.3 L593.1,339.3 L594.5,340.2 L595.9,341.1 L597.4,342.0 L598.8,343.0 L600.2,343.9Z" fill="#000"/>
<path d="M583.2,331.3 L583.2,329.2 L583.2,327.2 L583.0,325.5 L582.6,323.8 L581.9,322.4 L580.5,321.3 L578.8,321.0 L577.2,321.0 L575.6,321.2 L573.9,321.7 L572.2,322.3 L570.5,323.1 L568.8,324.0 L567.1,325.1 L565.4,326.3 L563.8,327.7 L562.3,329.2 L561.0,330.7 L559.9,332.3 L559.1,334.0 L558.5,335.7 L558.1,337.4 L558.0,339.1 L558.2,340.8 L558.7,342.4 L559.6,344.0 L560.7,345.1 L561.9,345.9 L563.3,346.4 L564.7,346.8 L566.2,346.9 L567.8,346.8 L569.5,346.5 L571.1,346.1 L572.8,345.4 L574.5,344.5 L576.1,343.5 L577.7,342.2 L579.2,340.7 L576.8,338.3 L575.4,339.6 L574.1,340.7 L572.7,341.6 L571.4,342.3 L570.0,342.8 L568.7,343.2 L567.5,343.4 L566.3,343.4 L565.3,343.3 L564.3,343.1 L563.5,342.8 L562.9,342.3 L562.4,342.0 L562.0,341.1 L561.7,340.1 L561.6,339.0 L561.7,337.9 L561.9,336.7 L562.4,335.4 L563.0,334.2 L563.9,332.9 L564.9,331.6 L566.2,330.3 L567.6,329.0 L569.1,327.9 L570.6,326.8 L572.0,325.9 L573.5,325.1 L574.9,324.5 L576.3,324.0 L577.5,323.8 L578.7,323.7 L579.5,323.7 L579.8,324.0 L580.2,324.7 L580.5,325.9 L580.7,327.4 L580.8,329.2 L580.8,331.3Z" fill="#000"/>
<path d="M576.9,340.8 L578.2,341.9 L579.5,342.9 L580.9,344.0 L582.2,345.0 L583.5,346.1 L584.8,347.1 L586.2,348.1 L587.5,349.1 L588.8,350.2 L590.2,351.2 L591.5,352.2 L592.9,353.3 L594.2,354.3 L595.5,355.3 L596.8,356.4 L598.2,357.4 L599.5,358.4 L600.8,359.5 L602.1,360.6 L603.5,358.8 L602.2,357.8 L600.9,356.7 L599.6,355.6 L598.3,354.5 L597.0,353.5 L595.8,352.4 L594.5,351.3 L593.2,350.2 L591.9,349.1 L590.6,348.0 L589.4,346.9 L588.1,345.8 L586.8,344.7 L585.5,343.6 L584.3,342.5 L583.0,341.4 L581.7,340.3 L580.4,339.2 L579.1,338.2Z" fill="#000"/>
<path d="M708.7,346.8 L710.2,346.0 L711.6,345.2 L713.0,344.4 L714.4,343.6 L715.9,342.9 L717.3,342.1 L718.7,341.3 L720.1,340.5 L721.6,339.7 L723.0,338.9 L724.4,338.1 L725.8,337.3 L725.2,336.1 L723.7,336.9 L722.3,337.7 L720.9,338.5 L719.5,339.3 L718.0,340.0 L716.6,340.8 L715.2,341.6 L713.8,342.4 L712.3,343.2 L710.9,344.0 L709.5,344.8 L708.1,345.6Z" fill="#000"/>
<path d="M726.7,336.7 L726.8,335.1 L726.9,333.5 L727.2,332.1 L727.6,330.9 L728.2,329.9 L728.9,329.1 L729.7,328.5 L730.7,328.1 L731.3,328.1 L732.2,328.3 L733.3,328.7 L734.5,329.2 L735.7,329.9 L737.0,330.7 L738.3,331.7 L739.5,332.7 L740.8,333.9 L741.9,335.0 L743.0,336.3 L743.9,337.5 L744.7,338.7 L745.3,339.6 L745.7,341.2 L745.8,342.6 L745.7,343.7 L745.4,344.6 L744.9,345.3 L744.2,345.9 L743.4,346.4 L742.3,346.7 L741.1,346.8 L739.8,346.5 L738.4,346.1 L737.0,345.5 L735.7,344.8 L734.4,343.8 L732.9,342.7 L731.4,341.4 L729.2,344.0 L730.8,345.3 L732.3,346.6 L733.9,347.7 L735.5,348.6 L737.2,349.3 L738.9,349.9 L740.9,350.2 L742.9,350.1 L744.6,349.6 L746.2,348.8 L747.5,347.7 L748.5,346.2 L749.2,344.5 L749.4,342.6 L749.2,340.6 L748.7,338.4 L747.8,336.8 L746.8,335.3 L745.7,333.9 L744.5,332.6 L743.2,331.3 L741.8,330.1 L740.3,329.0 L738.8,328.0 L737.3,327.1 L735.8,326.4 L734.3,325.8 L732.9,325.4 L731.5,325.2 L729.9,325.3 L728.3,326.1 L727.0,327.2 L726.0,328.5 L725.3,329.9 L724.8,331.5 L724.5,333.2 L724.3,334.9 L724.3,336.7Z" fill="#000"/>
<path d="M729.2,341.4 L727.9,342.4 L726.6,343.5 L725.3,344.6 L724.0,345.6 L722.7,346.7 L721.4,347.8 L720.1,348.9 L718.9,350.0 L717.6,351.1 L716.3,352.1 L715.0,353.2 L713.7,354.3 L712.4,355.4 L711.1,356.5 L709.8,357.6 L708.5,358.6 L707.2,359.7 L705.9,360.7 L707.3,362.5 L708.6,361.4 L709.9,360.4 L711.3,359.3 L712.6,358.3 L713.9,357.3 L715.3,356.3 L716.6,355.3 L718.0,354.3 L719.3,353.2 L720.7,352.2 L722.0,351.2 L723.4,350.2 L724.7,349.2 L726.0,348.2 L727.4,347.1 L728.7,346.1 L730.0,345.1 L731.4,344.0Z" fill="#000"/>
<path d="M809,163 C818,145 830,140 843,140 C858,140 868,150 873,163 C890,166 905,178 915,197 C920,210 920,220 921,228 C925,236 929,245 931,255 C936,268 937,280 936,290 C935,312 930,326 922,338 C920,345 920,350 920,357 C919,372 913,384 904,396 C898,402 890,405 873,411 C868,418 860,436 839,436 C820,436 815,425 807,409 C795,405 786,402 780,396 C774,388 767,375 764,357 C764,350 764,345 763,339 C757,330 750,318 747,290 C746,275 750,258 758,241 C760,238 761,234 762,228 C763,212 768,196 780,181 C788,172 798,166 809,163 Z" fill="none" stroke="#000" stroke-width="1.6" stroke-linecap="round" stroke-linejoin="round" />
<path d="M862.2,253.3 L862.1,254.3 L862.0,255.4 L861.8,256.4 L861.4,257.4 L861.0,258.4 L860.4,259.3 L859.8,260.2 L859.1,261.1 L858.3,262.0 L857.4,262.8 L856.4,263.6 L855.4,264.3 L854.3,265.0 L853.2,265.6 L851.9,266.1 L850.7,266.6 L849.4,267.0 L848.0,267.4 L846.7,267.7 L845.3,267.9 L843.8,268.0 L842.4,268.1 L841.0,268.1 L839.6,268.0 L838.1,267.9 L836.7,267.7 L835.3,267.5 L834.0,267.1 L832.7,266.7 L831.4,266.3 L830.1,265.8 L828.9,265.2 L827.8,264.6 L826.7,263.9 L825.7,263.2 L824.8,262.4 L823.9,261.5 L823.1,260.6 L822.4,259.7 L821.8,258.7 L821.3,257.7 L820.9,256.6 L820.6,255.5 L820.5,254.4 L820.4,253.3 L820.5,252.2 L820.6,251.1 L820.9,250.0 L821.3,248.9 L821.8,247.9 L822.4,246.9 L823.1,245.9 L823.8,245.0 L824.7,244.2 L825.6,243.3 L826.6,242.6 L827.7,241.9 L828.9,241.2 L830.0,240.6 L831.3,240.1 L832.6,239.6 L833.9,239.2 L835.3,238.9 L836.7,238.6 L838.1,238.4 L839.5,238.3 L841.0,238.2 L842.4,238.2 L843.9,238.3 L845.3,238.4 L846.7,238.7 L848.1,239.0 L849.4,239.3 L850.8,239.8 L852.0,240.3 L853.2,240.9 L854.4,241.5 L855.5,242.2 L856.5,242.9 L857.5,243.7 L858.3,244.5 L859.1,245.4 L859.8,246.3 L860.5,247.3 L861.0,248.2 L861.4,249.2 L861.8,250.2 L862.0,251.2 L862.2,252.3ZM860.8,252.4 L860.6,251.5 L860.4,250.6 L860.0,249.8 L859.6,248.9 L859.1,248.1 L858.5,247.3 L857.8,246.6 L857.1,245.8 L856.3,245.2 L855.4,244.5 L854.4,243.9 L853.4,243.4 L852.3,242.9 L851.2,242.4 L850.0,242.0 L848.8,241.7 L847.5,241.4 L846.3,241.2 L845.0,241.0 L843.7,240.9 L842.4,240.8 L841.0,240.8 L839.7,240.9 L838.4,241.0 L837.1,241.2 L835.9,241.5 L834.6,241.8 L833.5,242.2 L832.3,242.6 L831.2,243.1 L830.2,243.6 L829.2,244.2 L828.3,244.9 L827.4,245.5 L826.7,246.2 L826.0,246.9 L825.4,247.7 L824.8,248.5 L824.4,249.3 L824.0,250.1 L823.8,250.9 L823.6,251.7 L823.4,252.5 L823.4,253.3 L823.4,254.1 L823.6,254.9 L823.7,255.7 L824.0,256.5 L824.4,257.4 L824.8,258.2 L825.3,258.9 L825.9,259.7 L826.6,260.5 L827.4,261.2 L828.2,261.9 L829.1,262.5 L830.1,263.1 L831.1,263.7 L832.2,264.2 L833.4,264.7 L834.6,265.1 L835.8,265.4 L837.1,265.7 L838.4,265.9 L839.7,266.0 L841.0,266.1 L842.4,266.1 L843.7,266.0 L845.0,265.9 L846.3,265.7 L847.6,265.5 L848.9,265.2 L850.1,264.8 L851.3,264.4 L852.4,263.9 L853.5,263.4 L854.5,262.8 L855.4,262.2 L856.3,261.5 L857.2,260.8 L857.9,260.1 L858.6,259.3 L859.2,258.5 L859.7,257.7 L860.1,256.8 L860.4,256.0 L860.6,255.1 L860.8,254.2 L860.8,253.3Z" fill="#000" fill-rule="evenodd"/>
<path d="M724.5,284.4 L726.1,284.1 L727.6,283.8 L729.2,283.6 L730.9,283.4 L732.5,283.3 L734.1,283.1 L735.7,282.9 L737.3,282.7 L738.8,282.4 L740.4,282.0 L742.0,281.7 L743.5,281.3 L745.1,280.9 L746.6,280.5 L748.2,280.1 L749.7,279.7 L751.3,279.3 L752.8,278.9 L754.4,278.5 L755.9,278.1 L757.5,277.7 L759.0,277.3 L760.6,276.9 L762.1,276.5 L763.7,276.1 L765.2,275.7 L766.8,275.3 L768.3,274.9 L769.9,274.5 L771.4,274.1 L773.0,273.8 L774.6,273.4 L776.1,273.0 L777.7,272.6 L779.2,272.3 L780.8,271.9 L782.3,271.5 L783.9,271.1 L785.4,270.7 L787.0,270.3 L788.6,269.9 L790.1,269.5 L791.7,269.2 L793.2,268.8 L794.8,268.4 L796.3,268.0 L797.9,267.6 L799.4,267.2 L801.0,266.8 L802.5,266.4 L804.1,266.0 L805.6,265.6 L807.2,265.2 L808.7,264.8 L810.3,264.4 L811.8,264.1 L813.4,263.7 L815.0,263.3 L816.5,262.9 L818.1,262.5 L819.6,262.2 L821.2,261.8 L820.8,260.2 L819.3,260.6 L817.7,261.0 L816.1,261.3 L814.6,261.7 L813.0,262.0 L811.5,262.4 L809.9,262.8 L808.3,263.1 L806.8,263.5 L805.2,263.8 L803.6,264.2 L802.1,264.5 L800.5,264.9 L799.0,265.2 L797.4,265.6 L795.8,265.9 L794.3,266.2 L792.7,266.6 L791.1,266.9 L789.6,267.3 L788.0,267.6 L786.4,268.0 L784.9,268.3 L783.3,268.7 L781.8,269.1 L780.2,269.4 L778.6,269.8 L777.1,270.1 L775.5,270.5 L774.0,270.9 L772.4,271.2 L770.8,271.6 L769.3,272.0 L767.7,272.3 L766.2,272.7 L764.6,273.0 L763.0,273.4 L761.5,273.7 L759.9,274.1 L758.3,274.4 L756.8,274.7 L755.2,275.1 L753.6,275.4 L752.1,275.7 L750.5,276.1 L748.9,276.4 L747.4,276.8 L745.8,277.1 L744.2,277.5 L742.7,277.8 L741.1,278.2 L739.6,278.5 L738.0,278.9 L736.5,279.4 L734.9,279.9 L733.4,280.4 L731.9,281.0 L730.4,281.6 L728.9,282.2 L727.4,282.7 L725.9,283.2 L724.3,283.6Z" fill="#000"/>
<path d="M863.9,252.2 L865.4,251.8 L867.0,251.4 L868.6,251.0 L870.1,250.6 L871.7,250.1 L873.3,249.7 L874.8,249.3 L876.4,248.9 L877.9,248.5 L879.5,248.0 L881.1,247.6 L882.6,247.2 L884.2,246.7 L885.8,246.3 L887.3,245.9 L888.9,245.5 L890.4,245.0 L892.0,244.6 L893.6,244.2 L895.1,243.7 L896.7,243.3 L898.2,242.9 L899.8,242.4 L901.4,242.0 L902.9,241.6 L904.5,241.2 L906.0,240.7 L907.6,240.3 L909.2,239.9 L910.7,239.5 L912.3,239.0 L913.8,238.6 L915.4,238.2 L917.0,237.8 L918.5,237.4 L920.1,236.9 L921.7,236.5 L923.2,236.1 L924.8,235.7 L926.3,235.3 L927.9,234.8 L929.4,234.3 L931.0,233.9 L932.5,233.4 L934.1,232.9 L935.6,232.4 L937.2,232.0 L938.7,231.5 L940.3,231.0 L941.8,230.5 L943.4,230.1 L944.9,229.6 L946.5,229.2 L948.1,228.8 L947.5,226.8 L946.0,227.2 L944.4,227.6 L942.8,228.0 L941.3,228.4 L939.7,228.7 L938.1,229.1 L936.5,229.4 L934.9,229.7 L933.3,230.1 L931.8,230.4 L930.2,230.8 L928.6,231.1 L927.0,231.5 L925.4,231.9 L923.9,232.2 L922.3,232.6 L920.7,233.0 L919.2,233.5 L917.6,233.9 L916.0,234.3 L914.5,234.7 L912.9,235.1 L911.3,235.5 L909.8,235.9 L908.2,236.3 L906.6,236.7 L905.1,237.1 L903.5,237.5 L901.9,237.9 L900.4,238.2 L898.8,238.6 L897.2,239.0 L895.7,239.4 L894.1,239.8 L892.5,240.2 L890.9,240.6 L889.4,241.0 L887.8,241.4 L886.2,241.8 L884.7,242.2 L883.1,242.6 L881.5,243.0 L880.0,243.4 L878.4,243.7 L876.8,244.1 L875.2,244.5 L873.7,244.9 L872.1,245.3 L870.5,245.7 L869.0,246.1 L867.4,246.6 L865.8,247.0 L864.3,247.4 L862.7,247.8Z" fill="#000"/>
<path d="M927.5,218.5 L929.0,219.3 L930.5,220.1 L932.0,220.9 L933.5,221.7 L935.0,222.5 L936.5,223.4 L938.0,224.2 L939.5,225.1 L941.1,225.9 L942.6,226.7 L944.1,227.6 L945.6,228.4 L947.1,229.1 L948.5,226.5 L946.9,225.7 L945.4,225.0 L943.8,224.2 L942.2,223.5 L940.7,222.8 L939.1,222.1 L937.5,221.4 L935.9,220.8 L934.4,220.1 L932.8,219.3 L931.2,218.6 L929.7,217.9 L928.1,217.1Z" fill="#000"/>
<path d="M946.5,227.0 L945.6,228.5 L944.8,229.9 L943.9,231.4 L943.1,232.9 L942.3,234.3 L941.5,235.8 L940.6,237.3 L939.8,238.8 L938.9,240.2 L938.0,241.7 L939.8,242.7 L940.7,241.3 L941.6,239.9 L942.5,238.5 L943.5,237.1 L944.4,235.7 L945.4,234.3 L946.3,232.9 L947.3,231.4 L948.2,230.0 L949.1,228.6Z" fill="#000"/>
<path d="M794.5,279.7 L796.1,279.7 L797.7,279.7 L799.3,279.7 L801.0,279.7 L802.6,279.7 L804.2,279.6 L805.8,279.6 L807.4,279.6 L809.0,279.6 L810.6,279.6 L812.2,279.6 L813.9,279.6 L815.5,279.6 L817.1,279.6 L818.7,279.6 L820.3,279.6 L821.9,279.6 L823.5,279.5 L825.1,279.5 L826.8,279.5 L828.4,279.5 L830.0,279.5 L831.6,279.5 L833.2,279.5 L834.8,279.5 L836.4,279.5 L838.0,279.5 L839.6,279.5 L841.3,279.4 L842.9,279.4 L844.5,279.4 L846.1,279.4 L847.7,279.4 L849.3,279.4 L850.9,279.4 L852.5,279.4 L854.2,279.4 L855.8,279.4 L857.4,279.4 L859.0,279.4 L860.6,279.3 L862.2,279.3 L863.8,279.3 L865.4,279.3 L867.1,279.3 L868.7,279.3 L870.3,279.3 L871.9,279.3 L873.5,279.3 L875.1,279.3 L876.7,279.3 L878.3,279.3 L880.0,279.2 L881.6,279.2 L883.2,279.2 L884.8,279.2 L886.4,279.2 L888.0,279.2 L888.0,274.8 L886.4,274.8 L884.8,274.8 L883.2,274.8 L881.5,274.8 L879.9,274.8 L878.3,274.9 L876.7,274.9 L875.1,274.9 L873.5,274.9 L871.9,274.9 L870.3,274.9 L868.6,274.9 L867.0,274.9 L865.4,274.9 L863.8,274.9 L862.2,274.9 L860.6,274.9 L859.0,275.0 L857.4,275.0 L855.7,275.0 L854.1,275.0 L852.5,275.0 L850.9,275.0 L849.3,275.0 L847.7,275.0 L846.1,275.0 L844.5,275.0 L842.9,275.0 L841.2,275.1 L839.6,275.1 L838.0,275.1 L836.4,275.1 L834.8,275.1 L833.2,275.1 L831.6,275.1 L830.0,275.1 L828.3,275.1 L826.7,275.1 L825.1,275.1 L823.5,275.1 L821.9,275.2 L820.3,275.2 L818.7,275.2 L817.1,275.2 L815.4,275.2 L813.8,275.2 L812.2,275.2 L810.6,275.2 L809.0,275.2 L807.4,275.2 L805.8,275.2 L804.2,275.2 L802.5,275.3 L800.9,275.3 L799.3,275.3 L797.7,275.3 L796.1,275.3 L794.5,275.3Z" fill="#000"/>
<path d="M886.2,277.0 L886.2,278.6 L886.3,280.2 L886.3,281.9 L886.3,283.5 L886.4,285.1 L886.4,286.7 L886.5,288.3 L886.5,289.9 L886.6,291.5 L886.7,293.1 L886.7,294.7 L886.8,296.3 L886.8,297.9 L886.9,299.5 L887.0,301.1 L887.0,302.8 L887.1,304.4 L887.1,306.0 L887.2,307.6 L887.2,309.2 L887.2,310.8 L887.3,312.4 L887.3,314.0 L889.7,314.0 L889.7,312.4 L889.7,310.8 L889.7,309.2 L889.7,307.5 L889.7,305.9 L889.7,304.3 L889.7,302.7 L889.7,301.1 L889.7,299.5 L889.7,297.9 L889.7,296.3 L889.8,294.7 L889.8,293.1 L889.8,291.5 L889.8,289.8 L889.8,288.2 L889.8,286.6 L889.8,285.0 L889.8,283.4 L889.8,281.8 L889.8,280.2 L889.8,278.6 L889.8,277.0Z" fill="#000"/>
<path d="M888.5,312.8 L886.9,312.8 L885.3,312.8 L883.6,312.8 L882.0,312.8 L880.4,312.8 L878.8,312.8 L877.2,312.8 L875.5,312.8 L873.9,312.8 L872.3,312.8 L870.7,312.8 L869.0,312.8 L867.4,312.8 L865.8,312.8 L864.2,312.8 L862.6,312.8 L860.9,312.8 L859.3,312.8 L857.7,312.8 L856.1,312.8 L854.5,312.8 L852.8,312.7 L851.2,312.7 L849.6,312.7 L848.0,312.7 L846.4,312.7 L844.7,312.7 L843.1,312.7 L841.5,312.7 L839.9,312.7 L838.3,312.7 L836.6,312.7 L835.0,312.7 L833.4,312.7 L831.8,312.7 L830.2,312.7 L828.5,312.6 L826.9,312.6 L825.3,312.6 L823.7,312.6 L822.0,312.6 L820.4,312.6 L818.8,312.6 L817.2,312.6 L815.6,312.6 L813.9,312.6 L812.3,312.6 L810.7,312.6 L809.1,312.6 L807.5,312.6 L805.8,312.6 L804.2,312.6 L802.6,312.6 L801.0,312.6 L799.4,312.6 L797.7,312.6 L796.1,312.6 L794.5,312.6 L794.5,315.8 L796.1,315.8 L797.7,315.8 L799.4,315.8 L801.0,315.8 L802.6,315.8 L804.2,315.8 L805.8,315.8 L807.5,315.8 L809.1,315.7 L810.7,315.7 L812.3,315.7 L814.0,315.7 L815.6,315.7 L817.2,315.7 L818.8,315.7 L820.4,315.7 L822.1,315.7 L823.7,315.6 L825.3,315.6 L826.9,315.6 L828.5,315.6 L830.2,315.6 L831.8,315.6 L833.4,315.6 L835.0,315.6 L836.6,315.5 L838.3,315.5 L839.9,315.5 L841.5,315.5 L843.1,315.5 L844.7,315.5 L846.4,315.5 L848.0,315.4 L849.6,315.4 L851.2,315.4 L852.8,315.4 L854.5,315.4 L856.1,315.4 L857.7,315.4 L859.3,315.4 L861.0,315.3 L862.6,315.3 L864.2,315.3 L865.8,315.3 L867.4,315.3 L869.1,315.3 L870.7,315.3 L872.3,315.3 L873.9,315.3 L875.5,315.2 L877.2,315.2 L878.8,315.2 L880.4,315.2 L882.0,315.2 L883.6,315.2 L885.3,315.2 L886.9,315.2 L888.5,315.2Z" fill="#000"/>
<path d="M796.4,314.2 L796.4,312.5 L796.4,310.9 L796.4,309.2 L796.4,307.5 L796.4,305.9 L796.4,304.2 L796.4,302.5 L796.5,300.9 L796.5,299.2 L796.5,297.5 L796.5,295.9 L796.5,294.2 L796.5,292.5 L796.5,290.8 L796.6,289.2 L796.6,287.5 L796.6,285.8 L796.6,284.2 L796.6,282.5 L796.6,280.8 L796.6,279.2 L796.6,277.5 L792.4,277.5 L792.4,279.2 L792.4,280.8 L792.4,282.5 L792.4,284.2 L792.4,285.8 L792.4,287.5 L792.4,289.2 L792.5,290.8 L792.5,292.5 L792.5,294.2 L792.5,295.9 L792.5,297.5 L792.5,299.2 L792.5,300.9 L792.6,302.5 L792.6,304.2 L792.6,305.9 L792.6,307.5 L792.6,309.2 L792.6,310.9 L792.6,312.5 L792.6,314.2Z" fill="#000"/>
<path d="M885.1,279.3 L886.7,278.8 L888.2,278.4 L889.8,277.9 L891.4,277.4 L893.0,276.9 L894.6,276.3 L896.2,275.8 L897.8,275.3 L899.3,274.7 L900.9,274.2 L902.5,273.7 L904.1,273.1 L905.6,272.6 L907.2,272.0 L908.8,271.5 L910.3,270.9 L911.9,270.4 L913.5,269.9 L915.1,269.3 L916.7,268.8 L918.2,268.3 L919.8,267.8 L921.4,267.3 L923.0,266.8 L924.6,266.4 L924.2,264.8 L922.6,265.3 L921.0,265.7 L919.4,266.1 L917.8,266.5 L916.1,267.0 L914.5,267.3 L912.9,267.7 L911.3,268.1 L909.7,268.5 L908.0,268.8 L906.4,269.2 L904.8,269.6 L903.1,269.9 L901.5,270.3 L899.9,270.7 L898.3,271.0 L896.6,271.4 L895.0,271.8 L893.4,272.2 L891.8,272.6 L890.2,273.0 L888.6,273.4 L887.0,273.8 L885.3,274.2 L883.7,274.7Z" fill="#000"/>
<path d="M792.8,297.9 L791.2,298.3 L789.6,298.7 L788.0,299.1 L786.5,299.5 L784.9,299.9 L783.3,300.3 L781.7,300.7 L780.1,301.1 L778.6,301.5 L777.0,301.9 L775.4,302.4 L773.8,302.8 L772.3,303.2 L770.7,303.7 L769.1,304.1 L767.6,304.5 L766.0,304.9 L764.4,305.4 L762.8,305.8 L761.3,306.2 L759.7,306.7 L758.1,307.1 L756.6,307.5 L755.0,308.0 L753.4,308.4 L751.8,308.8 L750.3,309.3 L748.7,309.7 L747.1,310.1 L745.5,310.5 L744.0,311.0 L742.4,311.4 L740.8,311.8 L739.2,312.2 L737.7,312.6 L736.1,313.0 L734.5,313.4 L732.9,313.8 L731.3,314.2 L729.8,314.6 L730.2,316.6 L731.8,316.2 L733.4,315.8 L735.0,315.4 L736.6,315.0 L738.2,314.7 L739.8,314.3 L741.3,313.9 L742.9,313.6 L744.5,313.2 L746.1,312.9 L747.7,312.5 L749.3,312.1 L750.9,311.8 L752.5,311.4 L754.1,311.1 L755.7,310.7 L757.3,310.4 L758.8,310.0 L760.4,309.7 L762.0,309.4 L763.6,309.0 L765.2,308.7 L766.8,308.3 L768.4,308.0 L770.0,307.6 L771.6,307.3 L773.2,306.9 L774.8,306.6 L776.4,306.2 L778.0,305.9 L779.5,305.5 L781.1,305.1 L782.7,304.8 L784.3,304.4 L785.9,304.0 L787.5,303.7 L789.1,303.3 L790.7,302.9 L792.2,302.5 L793.8,302.1Z" fill="#000"/>
<path d="M738.2,301.8 L737.3,303.1 L736.4,304.4 L735.5,305.7 L734.5,307.0 L733.6,308.3 L732.6,309.6 L731.7,310.9 L730.7,312.2 L729.8,313.5 L728.9,314.9 L731.1,316.3 L732.0,315.0 L732.8,313.6 L733.7,312.2 L734.5,310.9 L735.3,309.5 L736.2,308.1 L737.0,306.7 L737.8,305.4 L738.7,304.0 L739.6,302.6Z" fill="#000"/>
<path d="M729.4,316.7 L730.9,317.6 L732.4,318.4 L733.9,319.2 L735.4,319.9 L736.9,320.7 L738.4,321.5 L739.9,322.2 L741.4,323.0 L743.0,323.8 L744.5,324.6 L746.0,325.4 L747.5,326.2 L748.1,325.0 L746.7,324.1 L745.2,323.3 L743.7,322.4 L742.3,321.5 L740.8,320.6 L739.4,319.7 L737.9,318.8 L736.5,317.9 L735.0,317.0 L733.6,316.2 L732.1,315.3 L730.6,314.5Z" fill="#000"/>
<path d="M862.3,394.7 L862.2,395.7 L862.1,396.8 L861.8,397.8 L861.5,398.8 L861.0,399.8 L860.5,400.7 L859.8,401.7 L859.1,402.5 L858.3,403.4 L857.4,404.2 L856.4,405.0 L855.3,405.7 L854.2,406.4 L853.0,407.0 L851.8,407.5 L850.5,408.0 L849.2,408.4 L847.8,408.8 L846.4,409.1 L844.9,409.3 L843.5,409.4 L842.0,409.5 L840.6,409.5 L839.1,409.4 L837.7,409.3 L836.2,409.1 L834.8,408.9 L833.4,408.5 L832.1,408.1 L830.7,407.7 L829.5,407.2 L828.2,406.6 L827.1,406.0 L826.0,405.3 L824.9,404.6 L824.0,403.8 L823.1,402.9 L822.3,402.0 L821.6,401.1 L821.0,400.1 L820.4,399.1 L820.0,398.0 L819.7,396.9 L819.6,395.8 L819.5,394.7 L819.6,393.6 L819.7,392.5 L820.0,391.4 L820.4,390.3 L820.9,389.3 L821.5,388.3 L822.2,387.3 L823.0,386.4 L823.9,385.5 L824.9,384.7 L825.9,384.0 L827.0,383.3 L828.2,382.6 L829.4,382.0 L830.7,381.5 L832.0,381.0 L833.3,380.6 L834.7,380.3 L836.2,380.0 L837.6,379.8 L839.1,379.7 L840.6,379.6 L842.0,379.6 L843.5,379.7 L845.0,379.8 L846.4,380.1 L847.8,380.4 L849.2,380.7 L850.6,381.2 L851.9,381.7 L853.1,382.3 L854.3,382.9 L855.4,383.6 L856.5,384.3 L857.4,385.1 L858.3,385.9 L859.2,386.8 L859.9,387.7 L860.5,388.6 L861.1,389.6 L861.5,390.6 L861.9,391.6 L862.1,392.6 L862.3,393.7ZM860.9,393.8 L860.7,392.9 L860.5,392.0 L860.1,391.2 L859.7,390.3 L859.2,389.5 L858.6,388.7 L857.9,388.0 L857.1,387.3 L856.3,386.6 L855.3,385.9 L854.3,385.3 L853.3,384.8 L852.2,384.3 L851.0,383.8 L849.8,383.4 L848.6,383.1 L847.3,382.8 L846.0,382.6 L844.7,382.4 L843.3,382.3 L842.0,382.2 L840.6,382.2 L839.3,382.3 L837.9,382.4 L836.6,382.6 L835.3,382.9 L834.0,383.2 L832.8,383.6 L831.6,384.0 L830.5,384.5 L829.4,385.0 L828.4,385.6 L827.5,386.3 L826.6,386.9 L825.9,387.6 L825.1,388.4 L824.5,389.1 L824.0,389.9 L823.5,390.7 L823.2,391.5 L822.9,392.3 L822.7,393.1 L822.5,393.9 L822.5,394.7 L822.5,395.5 L822.7,396.3 L822.9,397.1 L823.1,397.9 L823.5,398.7 L823.9,399.5 L824.5,400.3 L825.1,401.1 L825.8,401.8 L826.6,402.6 L827.4,403.3 L828.4,403.9 L829.4,404.5 L830.4,405.1 L831.6,405.6 L832.7,406.1 L834.0,406.5 L835.3,406.8 L836.6,407.1 L837.9,407.3 L839.2,407.4 L840.6,407.5 L842.0,407.5 L843.4,407.4 L844.7,407.3 L846.0,407.1 L847.4,406.9 L848.7,406.6 L849.9,406.2 L851.1,405.8 L852.3,405.3 L853.4,404.8 L854.4,404.2 L855.4,403.6 L856.3,402.9 L857.2,402.2 L857.9,401.5 L858.6,400.7 L859.2,399.9 L859.7,399.1 L860.1,398.2 L860.5,397.4 L860.7,396.5 L860.9,395.6 L860.9,394.7Z" fill="#000" fill-rule="evenodd"/>
<path d="M717.9,372.5 L719.5,372.8 L721.0,373.3 L722.6,373.7 L724.1,374.2 L725.6,374.8 L727.2,375.2 L728.7,375.6 L730.3,376.0 L731.9,376.2 L733.5,376.5 L735.0,376.8 L736.6,377.1 L738.2,377.4 L739.8,377.6 L741.4,377.9 L742.9,378.2 L744.5,378.4 L746.1,378.7 L747.7,379.0 L749.3,379.3 L750.8,379.5 L752.4,379.8 L754.0,380.1 L755.6,380.3 L757.2,380.6 L758.7,380.9 L760.3,381.1 L761.9,381.4 L763.5,381.7 L765.1,382.0 L766.6,382.3 L768.2,382.5 L769.8,382.8 L771.4,383.1 L772.9,383.4 L774.5,383.7 L776.1,383.9 L777.7,384.2 L779.3,384.5 L780.8,384.8 L782.4,385.0 L784.0,385.3 L785.6,385.6 L787.2,385.8 L788.7,386.1 L790.3,386.4 L791.9,386.6 L793.5,386.9 L795.1,387.1 L796.6,387.4 L798.2,387.7 L799.8,387.9 L801.4,388.2 L803.0,388.5 L804.5,388.7 L806.1,389.0 L807.7,389.3 L809.3,389.5 L810.9,389.8 L812.4,390.1 L814.0,390.4 L815.6,390.6 L817.2,390.9 L818.8,391.2 L820.3,391.5 L820.7,389.7 L819.1,389.4 L817.5,389.1 L815.9,388.8 L814.4,388.5 L812.8,388.3 L811.2,388.0 L809.6,387.7 L808.1,387.4 L806.5,387.0 L804.9,386.7 L803.3,386.4 L801.8,386.1 L800.2,385.8 L798.6,385.5 L797.0,385.2 L795.5,384.9 L793.9,384.6 L792.3,384.3 L790.8,384.0 L789.2,383.7 L787.6,383.4 L786.0,383.0 L784.5,382.7 L782.9,382.4 L781.3,382.1 L779.7,381.8 L778.2,381.5 L776.6,381.2 L775.0,380.9 L773.4,380.6 L771.9,380.4 L770.3,380.1 L768.7,379.8 L767.1,379.5 L765.6,379.2 L764.0,378.9 L762.4,378.6 L760.8,378.3 L759.3,378.0 L757.7,377.7 L756.1,377.4 L754.5,377.1 L753.0,376.8 L751.4,376.5 L749.8,376.2 L748.2,375.9 L746.7,375.6 L745.1,375.3 L743.5,375.0 L741.9,374.7 L740.4,374.4 L738.8,374.1 L737.2,373.8 L735.6,373.5 L734.1,373.2 L732.5,372.9 L730.9,372.6 L729.3,372.4 L727.7,372.2 L726.1,372.1 L724.5,372.0 L722.9,372.0 L721.3,371.9 L719.7,371.7 L718.1,371.5Z" fill="#000"/>
<path d="M862.3,400.9 L863.9,401.1 L865.5,401.4 L867.1,401.7 L868.7,401.9 L870.3,402.2 L871.9,402.5 L873.5,402.7 L875.1,403.0 L876.7,403.2 L878.3,403.5 L879.9,403.8 L881.5,404.0 L883.1,404.3 L884.8,404.5 L886.4,404.8 L888.0,405.0 L889.6,405.3 L891.2,405.6 L892.8,405.8 L894.4,406.1 L896.0,406.3 L897.6,406.6 L899.2,406.8 L900.8,407.1 L902.4,407.4 L904.0,407.6 L905.6,407.9 L907.2,408.1 L908.8,408.4 L910.4,408.6 L912.0,408.9 L913.6,409.2 L915.2,409.4 L916.8,409.7 L918.4,409.9 L920.0,410.2 L921.6,410.4 L923.2,410.7 L924.8,411.0 L926.4,411.2 L928.0,411.5 L929.6,411.8 L931.2,412.0 L932.8,412.3 L934.4,412.6 L936.0,412.8 L937.6,413.1 L939.2,413.3 L940.8,413.5 L942.4,413.8 L944.0,414.0 L945.6,414.2 L947.2,414.4 L948.8,414.6 L950.5,414.8 L952.1,415.0 L953.7,415.2 L955.3,415.4 L956.9,415.6 L958.5,415.8 L960.1,416.0 L961.7,416.2 L963.3,416.5 L964.9,416.7 L966.5,417.0 L966.9,415.0 L965.3,414.7 L963.7,414.5 L962.1,414.2 L960.5,413.9 L958.9,413.5 L957.3,413.2 L955.7,412.9 L954.1,412.6 L952.5,412.2 L950.9,411.9 L949.4,411.6 L947.8,411.2 L946.2,410.9 L944.6,410.6 L943.0,410.3 L941.4,409.9 L939.8,409.6 L938.2,409.3 L936.6,409.1 L935.0,408.8 L933.4,408.5 L931.8,408.3 L930.2,408.0 L928.6,407.7 L927.0,407.5 L925.4,407.2 L923.8,406.9 L922.2,406.6 L920.6,406.4 L919.0,406.1 L917.4,405.8 L915.8,405.6 L914.2,405.3 L912.6,405.0 L911.0,404.7 L909.4,404.5 L907.8,404.2 L906.2,403.9 L904.6,403.6 L903.0,403.4 L901.4,403.1 L899.8,402.8 L898.2,402.5 L896.6,402.2 L895.0,402.0 L893.4,401.7 L891.8,401.4 L890.2,401.1 L888.6,400.9 L887.0,400.6 L885.4,400.3 L883.9,400.0 L882.3,399.8 L880.7,399.5 L879.1,399.2 L877.5,399.0 L875.9,398.7 L874.3,398.4 L872.7,398.1 L871.1,397.9 L869.5,397.6 L867.9,397.3 L866.3,397.1 L864.7,396.8 L863.1,396.5Z" fill="#000"/>
<path d="M944.8,393.8 L945.9,395.0 L947.0,396.2 L948.1,397.4 L949.2,398.6 L950.3,399.9 L951.4,401.1 L952.5,402.3 L953.6,403.6 L954.6,404.8 L955.7,406.1 L956.8,407.3 L957.9,408.5 L958.9,409.8 L960.0,411.0 L961.1,412.2 L962.2,413.5 L963.3,414.7 L964.4,415.9 L965.5,417.1 L967.9,414.9 L966.7,413.7 L965.6,412.5 L964.4,411.4 L963.3,410.2 L962.1,409.0 L961.0,407.9 L959.8,406.7 L958.6,405.6 L957.4,404.4 L956.2,403.3 L955.1,402.1 L953.9,401.0 L952.7,399.8 L951.6,398.7 L950.4,397.5 L949.2,396.4 L948.1,395.2 L946.9,394.0 L945.8,392.8Z" fill="#000"/>
<path d="M965.8,414.7 L964.4,415.6 L963.0,416.5 L961.6,417.5 L960.2,418.4 L958.8,419.4 L957.4,420.3 L956.0,421.3 L954.6,422.3 L953.3,423.2 L951.9,424.2 L950.5,425.2 L949.1,426.1 L947.7,427.1 L946.3,428.0 L944.9,428.9 L943.5,429.9 L944.5,431.5 L946.0,430.6 L947.4,429.7 L948.8,428.8 L950.3,427.9 L951.7,427.1 L953.2,426.2 L954.6,425.3 L956.1,424.4 L957.5,423.6 L959.0,422.7 L960.4,421.8 L961.8,420.9 L963.3,420.1 L964.7,419.2 L966.1,418.3 L967.6,417.3Z" fill="#000"/>
<path d="M866.3,483.3 L866.2,484.3 L866.1,485.3 L865.8,486.3 L865.5,487.3 L865.0,488.2 L864.5,489.2 L863.8,490.1 L863.1,490.9 L862.3,491.8 L861.4,492.6 L860.4,493.3 L859.3,494.0 L858.2,494.6 L857.0,495.2 L855.8,495.8 L854.5,496.2 L853.2,496.6 L851.8,497.0 L850.4,497.3 L848.9,497.5 L847.5,497.6 L846.0,497.7 L844.6,497.7 L843.1,497.6 L841.7,497.5 L840.2,497.3 L838.8,497.1 L837.4,496.8 L836.1,496.4 L834.7,496.0 L833.5,495.5 L832.3,494.9 L831.1,494.3 L830.0,493.6 L829.0,492.9 L828.0,492.2 L827.1,491.3 L826.3,490.5 L825.6,489.5 L825.0,488.6 L824.4,487.6 L824.0,486.5 L823.7,485.5 L823.6,484.4 L823.5,483.3 L823.6,482.2 L823.7,481.1 L824.0,480.1 L824.4,479.0 L824.9,478.0 L825.5,477.0 L826.2,476.1 L827.0,475.2 L827.9,474.4 L828.9,473.6 L829.9,472.8 L831.0,472.1 L832.2,471.5 L833.4,470.9 L834.7,470.4 L836.0,470.0 L837.4,469.6 L838.7,469.3 L840.2,469.0 L841.6,468.8 L843.1,468.7 L844.6,468.6 L846.0,468.6 L847.5,468.7 L849.0,468.8 L850.4,469.1 L851.8,469.3 L853.2,469.7 L854.6,470.1 L855.9,470.6 L857.1,471.2 L858.3,471.8 L859.4,472.5 L860.5,473.2 L861.4,473.9 L862.3,474.7 L863.1,475.6 L863.9,476.5 L864.5,477.4 L865.1,478.3 L865.5,479.3 L865.9,480.3 L866.1,481.3 L866.3,482.3ZM864.9,482.4 L864.7,481.6 L864.5,480.7 L864.1,479.9 L863.7,479.1 L863.2,478.3 L862.6,477.5 L861.9,476.8 L861.1,476.1 L860.3,475.4 L859.3,474.8 L858.4,474.2 L857.3,473.7 L856.2,473.2 L855.0,472.8 L853.8,472.4 L852.6,472.0 L851.3,471.8 L850.0,471.5 L848.7,471.4 L847.3,471.3 L846.0,471.2 L844.6,471.2 L843.3,471.3 L841.9,471.4 L840.6,471.6 L839.3,471.8 L838.0,472.2 L836.8,472.5 L835.6,473.0 L834.5,473.4 L833.4,474.0 L832.4,474.5 L831.5,475.2 L830.6,475.8 L829.8,476.5 L829.1,477.2 L828.5,477.9 L828.0,478.7 L827.5,479.4 L827.1,480.2 L826.9,481.0 L826.7,481.7 L826.5,482.5 L826.5,483.3 L826.5,484.1 L826.7,484.9 L826.8,485.6 L827.1,486.4 L827.5,487.2 L827.9,488.0 L828.5,488.7 L829.1,489.5 L829.8,490.2 L830.5,490.9 L831.4,491.6 L832.3,492.2 L833.3,492.8 L834.4,493.3 L835.6,493.8 L836.7,494.3 L838.0,494.7 L839.2,495.0 L840.6,495.3 L841.9,495.5 L843.2,495.6 L844.6,495.7 L846.0,495.7 L847.4,495.6 L848.7,495.5 L850.1,495.3 L851.4,495.1 L852.7,494.8 L853.9,494.4 L855.1,494.0 L856.3,493.6 L857.4,493.1 L858.4,492.5 L859.4,491.9 L860.3,491.3 L861.2,490.6 L861.9,489.9 L862.6,489.1 L863.2,488.3 L863.7,487.5 L864.1,486.7 L864.5,485.9 L864.7,485.0 L864.9,484.2 L864.9,483.3Z" fill="#000" fill-rule="evenodd"/>
<path d="M712.8,416.5 L714.0,417.5 L715.2,418.5 L716.4,419.6 L717.6,420.6 L718.8,421.6 L719.9,422.6 L721.1,423.6 L722.3,424.7 L723.5,425.7 L724.7,426.7 L726.0,427.7 L727.2,428.7 L728.4,429.8 L729.6,430.8 L730.9,431.8 L732.1,432.8 L733.4,433.8 L734.6,434.8 L735.9,435.8 L737.2,436.7 L738.5,437.7 L739.8,438.6 L741.1,439.6 L742.4,440.5 L743.8,441.4 L745.1,442.3 L746.5,443.2 L747.8,444.1 L749.2,445.0 L750.6,445.9 L751.9,446.8 L753.3,447.7 L754.7,448.5 L756.1,449.4 L757.5,450.3 L758.9,451.1 L760.3,452.0 L761.7,452.8 L763.1,453.6 L764.5,454.5 L765.9,455.3 L767.3,456.1 L768.8,456.9 L770.2,457.7 L771.6,458.5 L773.1,459.3 L774.5,460.1 L776.0,460.9 L777.4,461.6 L778.9,462.4 L780.3,463.2 L781.8,463.9 L783.2,464.7 L784.7,465.4 L786.2,466.1 L787.6,466.9 L789.1,467.6 L790.6,468.3 L792.0,469.0 L793.5,469.7 L795.0,470.4 L796.5,471.1 L797.9,471.8 L799.4,472.4 L800.9,473.1 L802.4,473.8 L803.9,474.4 L805.4,475.0 L806.9,475.6 L808.4,476.2 L809.9,476.8 L811.4,477.3 L812.9,477.9 L814.4,478.4 L816.0,479.0 L817.5,479.5 L819.0,480.0 L820.5,480.6 L822.0,481.1 L823.5,481.6 L825.0,482.1 L825.6,480.5 L824.1,479.9 L822.6,479.4 L821.2,478.8 L819.7,478.2 L818.2,477.6 L816.7,477.0 L815.3,476.3 L813.8,475.7 L812.4,475.0 L810.9,474.4 L809.4,473.7 L808.0,473.0 L806.5,472.4 L805.1,471.7 L803.6,471.0 L802.1,470.4 L800.7,469.7 L799.2,469.0 L797.7,468.4 L796.3,467.7 L794.8,467.0 L793.3,466.3 L791.9,465.6 L790.4,464.8 L789.0,464.1 L787.5,463.4 L786.1,462.6 L784.7,461.9 L783.2,461.1 L781.8,460.4 L780.4,459.6 L778.9,458.8 L777.5,458.0 L776.1,457.2 L774.7,456.4 L773.3,455.6 L771.8,454.8 L770.4,454.0 L769.0,453.2 L767.6,452.4 L766.2,451.5 L764.8,450.7 L763.5,449.9 L762.1,449.0 L760.7,448.1 L759.3,447.3 L757.9,446.4 L756.6,445.6 L755.2,444.7 L753.9,443.8 L752.5,442.9 L751.2,442.0 L749.8,441.2 L748.5,440.3 L747.1,439.4 L745.8,438.5 L744.5,437.6 L743.1,436.7 L741.8,435.8 L740.5,434.9 L739.2,434.0 L737.8,433.1 L736.5,432.2 L735.2,431.3 L733.9,430.4 L732.6,429.5 L731.3,428.6 L729.9,427.7 L728.6,426.8 L727.4,425.9 L726.1,425.0 L724.8,424.1 L723.5,423.2 L722.3,422.2 L721.0,421.3 L719.8,420.3 L718.5,419.4 L717.3,418.4 L716.1,417.4 L714.9,416.5 L713.8,415.5Z" fill="#000"/>
<path d="M866.7,490.0 L868.2,490.1 L869.8,490.2 L871.3,490.3 L872.9,490.5 L874.5,490.6 L876.1,490.7 L877.7,490.8 L879.2,490.9 L880.8,491.0 L882.4,491.1 L884.0,491.2 L885.6,491.2 L887.2,491.3 L888.9,491.3 L890.5,491.4 L892.1,491.4 L893.7,491.4 L895.3,491.4 L897.0,491.4 L898.6,491.3 L900.2,491.3 L901.8,491.2 L903.5,491.1 L905.1,491.0 L906.7,490.8 L908.4,490.7 L910.0,490.5 L911.6,490.3 L913.2,490.1 L914.9,489.9 L916.5,489.7 L918.1,489.5 L919.7,489.2 L921.3,489.0 L923.0,488.7 L924.6,488.4 L926.2,488.1 L927.8,487.8 L929.4,487.5 L931.0,487.1 L932.6,486.8 L934.2,486.4 L935.8,486.0 L937.4,485.7 L939.0,485.3 L938.4,482.7 L936.8,483.1 L935.2,483.5 L933.7,483.9 L932.1,484.2 L930.5,484.5 L928.9,484.8 L927.3,485.1 L925.7,485.4 L924.1,485.6 L922.5,485.9 L920.9,486.1 L919.3,486.3 L917.7,486.5 L916.1,486.7 L914.5,486.9 L912.9,487.1 L911.3,487.2 L909.7,487.4 L908.1,487.5 L906.5,487.7 L904.9,487.8 L903.2,487.9 L901.6,488.0 L900.0,488.1 L898.4,488.2 L896.8,488.3 L895.2,488.4 L893.6,488.5 L892.0,488.6 L890.4,488.7 L888.8,488.7 L887.2,488.8 L885.7,488.9 L884.1,488.9 L882.5,488.9 L880.9,489.0 L879.3,489.0 L877.7,489.0 L876.1,489.0 L874.6,489.0 L873.0,488.9 L871.4,488.9 L869.9,488.8 L868.3,488.7 L866.7,488.6Z" fill="#000"/>
<path d="M913.0,471.3 L914.5,472.1 L915.9,472.9 L917.4,473.7 L918.9,474.6 L920.4,475.4 L921.8,476.2 L923.3,477.1 L924.7,477.9 L926.2,478.8 L927.7,479.6 L929.1,480.5 L930.6,481.3 L932.0,482.2 L933.5,483.0 L935.0,483.8 L936.5,484.6 L938.0,485.4 L939.4,482.6 L937.9,481.8 L936.4,481.0 L934.9,480.3 L933.4,479.6 L931.9,478.8 L930.4,478.1 L928.8,477.4 L927.3,476.7 L925.8,476.0 L924.2,475.3 L922.7,474.5 L921.2,473.8 L919.7,473.1 L918.1,472.4 L916.6,471.6 L915.1,470.9 L913.6,470.1Z" fill="#000"/>
<path d="M937.3,483.2 L936.5,484.6 L935.7,486.1 L935.0,487.5 L934.2,489.0 L933.5,490.4 L932.8,491.9 L932.0,493.3 L931.3,494.8 L930.6,496.2 L929.8,497.7 L929.1,499.2 L928.3,500.6 L927.6,502.0 L926.8,503.5 L926.0,504.9 L927.4,505.7 L928.2,504.3 L929.0,502.9 L929.9,501.5 L930.7,500.1 L931.6,498.7 L932.4,497.3 L933.3,495.9 L934.2,494.5 L935.0,493.2 L935.9,491.8 L936.8,490.4 L937.6,489.0 L938.5,487.6 L939.3,486.2 L940.1,484.8Z" fill="#000"/>
<path d="M1027.1,66.6 L1090.4,62.4 L1090.4,107 L1027.1,113.3 Z" fill="#000"/>
<path d="M1026.2,66.6 L1026.2,68.2 L1026.2,69.9 L1026.2,71.5 L1026.2,73.2 L1026.2,74.8 L1026.2,76.4 L1026.2,78.1 L1026.2,79.7 L1026.2,81.4 L1026.2,83.0 L1026.2,84.6 L1026.2,86.3 L1026.2,87.9 L1026.2,89.6 L1026.2,91.2 L1026.2,92.8 L1026.2,94.5 L1026.2,96.1 L1026.2,97.8 L1026.2,99.4 L1026.2,101.0 L1026.2,102.7 L1026.2,104.3 L1026.2,106.0 L1026.2,107.6 L1026.2,109.2 L1026.2,110.9 L1026.2,112.5 L1026.2,114.2 L1026.2,115.8 L1026.2,117.4 L1026.2,119.1 L1026.2,120.7 L1026.2,122.4 L1026.2,124.0 L1028.0,124.0 L1028.0,122.4 L1028.0,120.7 L1028.0,119.1 L1028.0,117.4 L1028.0,115.8 L1028.0,114.2 L1028.0,112.5 L1028.0,110.9 L1028.0,109.2 L1028.0,107.6 L1028.0,106.0 L1028.0,104.3 L1028.0,102.7 L1028.0,101.0 L1028.0,99.4 L1028.0,97.8 L1028.0,96.1 L1028.0,94.5 L1028.0,92.8 L1028.0,91.2 L1028.0,89.6 L1028.0,87.9 L1028.0,86.3 L1028.0,84.6 L1028.0,83.0 L1028.0,81.4 L1028.0,79.7 L1028.0,78.1 L1028.0,76.4 L1028.0,74.8 L1028.0,73.2 L1028.0,71.5 L1028.0,69.9 L1028.0,68.2 L1028.0,66.6Z" fill="#000"/>
<path d="M1089.5,62.4 L1089.5,64.0 L1089.5,65.6 L1089.5,67.2 L1089.5,68.8 L1089.5,70.4 L1089.5,72.0 L1089.5,73.6 L1089.5,75.2 L1089.5,76.8 L1089.5,78.4 L1089.5,80.0 L1089.5,81.6 L1089.5,83.2 L1089.5,84.8 L1089.5,86.4 L1089.5,88.0 L1089.5,89.6 L1089.5,91.2 L1089.5,92.8 L1089.5,94.4 L1089.5,96.0 L1089.5,97.6 L1089.5,99.2 L1089.5,100.8 L1089.5,102.4 L1089.5,104.0 L1089.5,105.6 L1089.5,107.2 L1089.5,108.8 L1089.5,110.4 L1089.5,112.0 L1089.5,113.6 L1089.5,115.2 L1089.5,116.8 L1089.5,118.4 L1089.5,120.0 L1091.3,120.0 L1091.3,118.4 L1091.3,116.8 L1091.3,115.2 L1091.3,113.6 L1091.3,112.0 L1091.3,110.4 L1091.3,108.8 L1091.3,107.2 L1091.3,105.6 L1091.3,104.0 L1091.3,102.4 L1091.3,100.8 L1091.3,99.2 L1091.3,97.6 L1091.3,96.0 L1091.3,94.4 L1091.3,92.8 L1091.3,91.2 L1091.3,89.6 L1091.3,88.0 L1091.3,86.4 L1091.3,84.8 L1091.3,83.2 L1091.3,81.6 L1091.3,80.0 L1091.3,78.4 L1091.3,76.8 L1091.3,75.2 L1091.3,73.6 L1091.3,72.0 L1091.3,70.4 L1091.3,68.8 L1091.3,67.2 L1091.3,65.6 L1091.3,64.0 L1091.3,62.4Z" fill="#000"/>
<path d="M985.6,125.7 L1128.8,118.5 L1128.8,140.2 L985.6,139.2 Z" fill="#000"/>
<path d="M1002.8,141.0 L1004.7,141.5 L1006.5,142.1 L1008.1,142.9 L1009.6,143.7 L1010.8,144.5 L1011.9,145.5 L1012.9,146.4 L1013.7,147.3 L1014.3,148.3 L1014.8,149.2 L1015.1,150.2 L1015.3,151.1 L1015.4,152.0 L1015.3,153.4 L1015.0,154.7 L1014.6,156.0 L1014.0,157.1 L1013.2,158.2 L1012.3,159.2 L1011.2,160.1 L1010.0,160.7 L1008.8,161.3 L1007.4,161.6 L1005.9,161.7 L1006.1,164.3 L1007.8,164.2 L1009.5,163.8 L1011.2,163.2 L1012.7,162.4 L1014.1,161.3 L1015.4,160.1 L1016.5,158.8 L1017.3,157.3 L1018.0,155.6 L1018.4,153.8 L1018.6,152.0 L1018.5,150.6 L1018.2,149.2 L1017.6,147.9 L1016.9,146.6 L1016.0,145.5 L1014.9,144.3 L1013.7,143.3 L1012.3,142.4 L1010.7,141.5 L1009.1,140.8 L1007.2,140.1 L1005.3,139.5 L1003.2,139.0Z" fill="#000"/>
<path d="M1006.0,164.5 L1007.6,164.5 L1009.2,164.5 L1010.8,164.5 L1012.4,164.5 L1014.0,164.5 L1015.6,164.5 L1017.2,164.5 L1018.8,164.5 L1020.4,164.5 L1022.0,164.5 L1023.6,164.5 L1025.2,164.5 L1026.8,164.5 L1028.4,164.5 L1030.0,164.5 L1031.6,164.5 L1033.2,164.5 L1034.8,164.5 L1036.4,164.5 L1038.0,164.5 L1039.6,164.5 L1041.2,164.4 L1042.8,164.4 L1044.4,164.4 L1046.0,164.4 L1047.6,164.4 L1049.2,164.4 L1050.8,164.4 L1052.4,164.4 L1054.0,164.4 L1055.6,164.4 L1057.2,164.4 L1058.8,164.4 L1060.4,164.4 L1062.0,164.4 L1063.6,164.4 L1065.2,164.4 L1066.8,164.4 L1068.4,164.4 L1070.0,164.4 L1071.6,164.4 L1073.2,164.4 L1074.8,164.4 L1076.4,164.3 L1078.0,164.3 L1079.6,164.3 L1081.2,164.3 L1082.8,164.3 L1084.4,164.3 L1086.0,164.3 L1087.6,164.3 L1089.2,164.3 L1090.8,164.3 L1092.4,164.3 L1094.0,164.3 L1095.6,164.3 L1097.2,164.3 L1098.8,164.3 L1100.4,164.3 L1102.0,164.3 L1103.6,164.3 L1105.2,164.3 L1106.8,164.3 L1108.4,164.3 L1110.0,164.3 L1110.0,161.7 L1108.4,161.7 L1106.8,161.7 L1105.2,161.7 L1103.6,161.7 L1102.0,161.7 L1100.4,161.7 L1098.8,161.7 L1097.2,161.7 L1095.6,161.7 L1094.0,161.7 L1092.4,161.7 L1090.8,161.7 L1089.2,161.7 L1087.6,161.7 L1086.0,161.7 L1084.4,161.7 L1082.8,161.7 L1081.2,161.7 L1079.6,161.7 L1078.0,161.7 L1076.4,161.7 L1074.8,161.6 L1073.2,161.6 L1071.6,161.6 L1070.0,161.6 L1068.4,161.6 L1066.8,161.6 L1065.2,161.6 L1063.6,161.6 L1062.0,161.6 L1060.4,161.6 L1058.8,161.6 L1057.2,161.6 L1055.6,161.6 L1054.0,161.6 L1052.4,161.6 L1050.8,161.6 L1049.2,161.6 L1047.6,161.6 L1046.0,161.6 L1044.4,161.6 L1042.8,161.6 L1041.2,161.6 L1039.6,161.5 L1038.0,161.5 L1036.4,161.5 L1034.8,161.5 L1033.2,161.5 L1031.6,161.5 L1030.0,161.5 L1028.4,161.5 L1026.8,161.5 L1025.2,161.5 L1023.6,161.5 L1022.0,161.5 L1020.4,161.5 L1018.8,161.5 L1017.2,161.5 L1015.6,161.5 L1014.0,161.5 L1012.4,161.5 L1010.8,161.5 L1009.2,161.5 L1007.6,161.5 L1006.0,161.5Z" fill="#000"/>
<path d="M1111.3,139.9 L1111.2,141.5 L1111.0,143.2 L1110.8,144.8 L1110.7,146.4 L1110.5,148.0 L1110.4,149.6 L1110.2,151.2 L1110.1,152.9 L1109.9,154.5 L1109.8,156.1 L1109.6,157.7 L1109.5,159.3 L1109.3,161.0 L1109.2,162.6 L1109.0,164.2 L1108.9,165.8 L1108.7,167.4 L1108.6,169.1 L1108.4,170.7 L1108.3,172.3 L1108.1,173.9 L1109.9,174.1 L1110.0,172.5 L1110.2,170.8 L1110.4,169.2 L1110.5,167.6 L1110.7,166.0 L1110.8,164.4 L1111.0,162.8 L1111.1,161.1 L1111.3,159.5 L1111.4,157.9 L1111.6,156.3 L1111.7,154.7 L1111.9,153.0 L1112.0,151.4 L1112.2,149.8 L1112.3,148.2 L1112.5,146.6 L1112.6,144.9 L1112.8,143.3 L1112.9,141.7 L1113.1,140.1Z" fill="#000"/>
<path d="M1002.1,139.1 L1001.0,140.2 L999.9,141.4 L998.9,142.7 L997.9,144.0 L996.9,145.3 L996.0,146.6 L995.1,148.0 L994.3,149.5 L993.5,150.9 L992.7,152.4 L992.0,153.9 L991.3,155.5 L990.7,157.0 L990.1,158.6 L989.5,160.2 L989.0,161.9 L988.5,163.5 L988.0,165.1 L987.6,166.8 L987.2,168.4 L986.9,170.1 L986.6,171.7 L986.3,173.4 L986.0,175.1 L985.7,176.8 L985.4,178.5 L985.1,180.2 L984.8,182.0 L984.5,183.7 L984.2,185.5 L983.9,187.3 L983.6,189.0 L983.3,190.8 L983.0,192.6 L982.7,194.4 L982.4,196.2 L982.1,198.0 L981.9,199.8 L981.6,201.5 L981.3,203.3 L981.0,205.0 L980.7,206.8 L980.4,208.5 L980.1,210.2 L979.9,211.9 L979.6,213.5 L979.3,215.2 L979.0,216.8 L978.8,218.4 L978.5,219.9 L978.2,221.5 L978.0,223.0 L977.7,224.4 L977.4,225.9 L977.2,227.2 L976.9,228.6 L976.6,229.9 L976.4,231.2 L976.1,232.4 L975.9,233.5 L975.6,234.6 L975.3,235.7 L975.1,236.7 L974.8,237.6 L974.3,239.4 L973.7,241.2 L973.0,242.8 L972.3,244.4 L971.6,245.9 L970.8,247.3 L970.0,248.5 L969.1,249.7 L968.1,250.8 L967.1,251.8 L966.1,252.6 L965.0,253.4 L963.8,254.0 L962.6,254.5 L961.3,254.9 L960.0,255.1 L958.3,255.0 L956.7,254.7 L955.2,254.1 L953.9,253.4 L952.6,252.5 L951.6,251.5 L950.7,250.4 L950.0,249.2 L948.6,250.0 L949.4,251.3 L950.4,252.6 L951.6,253.7 L953.0,254.8 L954.5,255.6 L956.2,256.3 L958.0,256.7 L960.0,256.9 L961.7,256.6 L963.2,256.2 L964.6,255.7 L965.9,255.0 L967.2,254.2 L968.4,253.2 L969.6,252.2 L970.7,251.0 L971.7,249.8 L972.6,248.4 L973.5,246.9 L974.4,245.4 L975.2,243.7 L975.9,242.0 L976.6,240.2 L977.2,238.4 L977.5,237.4 L977.8,236.4 L978.1,235.3 L978.4,234.2 L978.7,233.0 L979.0,231.8 L979.4,230.5 L979.7,229.2 L980.0,227.8 L980.3,226.4 L980.6,225.0 L980.9,223.5 L981.2,222.0 L981.5,220.5 L981.8,218.9 L982.1,217.3 L982.4,215.7 L982.7,214.1 L983.0,212.4 L983.3,210.7 L983.6,209.0 L983.9,207.3 L984.2,205.5 L984.4,203.8 L984.7,202.0 L985.0,200.3 L985.3,198.5 L985.6,196.7 L985.8,194.9 L986.1,193.1 L986.4,191.3 L986.7,189.5 L987.0,187.8 L987.2,186.0 L987.5,184.2 L987.8,182.5 L988.1,180.7 L988.3,179.0 L988.6,177.3 L988.9,175.6 L989.2,173.9 L989.4,172.3 L989.7,170.6 L990.0,169.0 L990.4,167.4 L990.8,165.8 L991.2,164.2 L991.6,162.7 L992.1,161.1 L992.7,159.6 L993.2,158.0 L993.8,156.5 L994.5,155.1 L995.2,153.6 L995.9,152.2 L996.6,150.8 L997.4,149.4 L998.2,148.1 L999.1,146.8 L1000.0,145.5 L1000.9,144.3 L1001.9,143.1 L1002.9,142.0 L1003.9,140.9Z" fill="#000"/>
<path d="M948.5,249.9 L949.0,251.1 L949.5,252.4 L950.0,253.7 L950.6,255.0 L951.2,256.2 L951.9,257.4 L952.7,258.6 L953.5,259.8 L954.5,261.0 L955.5,262.1 L956.5,263.2 L957.7,264.2 L959.0,265.2 L960.4,266.2 L961.8,267.0 L963.4,267.8 L965.0,268.6 L966.8,269.2 L968.7,269.8 L970.8,270.3 L972.6,270.3 L974.2,270.3 L975.8,270.3 L977.4,270.4 L979.0,270.4 L980.6,270.4 L982.2,270.4 L983.8,270.4 L985.4,270.4 L987.0,270.4 L988.6,270.5 L990.2,270.5 L991.8,270.5 L993.4,270.5 L995.0,270.5 L996.6,270.5 L998.2,270.6 L999.8,270.6 L1001.4,270.6 L1003.0,270.6 L1004.7,270.6 L1006.3,270.6 L1007.9,270.7 L1009.5,270.7 L1011.1,270.7 L1012.7,270.7 L1014.3,270.7 L1015.9,270.7 L1017.5,270.8 L1019.1,270.8 L1020.7,270.8 L1022.3,270.8 L1023.9,270.8 L1025.5,270.9 L1027.1,270.9 L1028.7,270.9 L1030.3,270.9 L1031.9,270.9 L1033.5,270.9 L1035.1,271.0 L1036.7,271.0 L1038.3,271.0 L1039.9,271.0 L1041.5,271.0 L1043.1,271.1 L1044.7,271.1 L1046.3,271.1 L1047.9,271.1 L1049.5,271.1 L1051.1,271.2 L1052.7,271.2 L1054.3,271.2 L1056.0,271.2 L1057.6,271.2 L1059.2,271.2 L1060.8,271.3 L1062.4,271.3 L1064.0,271.3 L1065.6,271.3 L1067.2,271.3 L1068.8,271.3 L1070.4,271.4 L1072.1,271.4 L1073.6,271.2 L1074.9,270.9 L1076.3,270.7 L1077.6,270.3 L1079.0,269.9 L1080.3,269.5 L1081.7,269.0 L1083.0,268.4 L1084.4,267.8 L1085.7,267.0 L1087.0,266.3 L1088.3,265.4 L1089.6,264.4 L1090.9,263.4 L1092.1,262.3 L1093.4,261.1 L1094.6,259.8 L1095.7,258.4 L1096.8,256.9 L1097.9,255.3 L1099.0,253.6 L1100.0,251.7 L1100.9,249.8 L1101.9,247.8 L1102.3,246.4 L1102.7,245.1 L1103.1,243.7 L1103.5,242.4 L1103.8,241.0 L1104.1,239.6 L1104.5,238.2 L1104.7,236.7 L1105.0,235.3 L1105.3,233.8 L1105.6,232.3 L1105.8,230.7 L1106.0,229.1 L1106.2,227.5 L1106.4,225.9 L1106.6,224.3 L1106.8,222.6 L1106.9,220.9 L1107.1,219.1 L1107.2,217.4 L1107.3,215.6 L1107.4,213.7 L1107.5,211.9 L1107.5,210.0 L1107.6,208.0 L1107.6,206.1 L1107.7,204.1 L1107.7,202.1 L1107.7,200.0 L1104.3,200.0 L1104.3,202.0 L1104.3,204.0 L1104.2,206.0 L1104.2,207.9 L1104.1,209.8 L1104.0,211.7 L1103.9,213.5 L1103.8,215.3 L1103.7,217.1 L1103.5,218.8 L1103.3,220.5 L1103.2,222.2 L1103.0,223.9 L1102.8,225.5 L1102.6,227.1 L1102.3,228.6 L1102.1,230.1 L1101.8,231.6 L1101.5,233.1 L1101.3,234.5 L1101.0,235.9 L1100.6,237.3 L1100.3,238.7 L1100.0,240.0 L1099.6,241.3 L1099.3,242.6 L1098.9,243.9 L1098.5,245.1 L1098.1,246.2 L1097.3,248.1 L1096.4,249.8 L1095.4,251.4 L1094.5,253.0 L1093.5,254.4 L1092.4,255.8 L1091.4,257.0 L1090.3,258.1 L1089.3,259.2 L1088.2,260.2 L1087.0,261.1 L1085.9,261.9 L1084.8,262.7 L1083.6,263.4 L1082.5,264.0 L1081.3,264.6 L1080.1,265.1 L1078.9,265.5 L1077.7,265.9 L1076.5,266.3 L1075.3,266.6 L1074.1,266.8 L1072.9,267.1 L1071.9,267.2 L1070.4,267.2 L1068.8,267.2 L1067.2,267.2 L1065.6,267.2 L1064.0,267.2 L1062.4,267.2 L1060.8,267.2 L1059.2,267.2 L1057.6,267.1 L1056.0,267.1 L1054.4,267.1 L1052.8,267.1 L1051.2,267.1 L1049.6,267.1 L1048.0,267.1 L1046.4,267.1 L1044.8,267.1 L1043.2,267.1 L1041.6,267.1 L1040.0,267.1 L1038.3,267.1 L1036.7,267.1 L1035.1,267.0 L1033.5,267.0 L1031.9,267.0 L1030.3,267.0 L1028.7,267.0 L1027.1,267.0 L1025.5,267.0 L1023.9,267.0 L1022.3,267.0 L1020.7,267.0 L1019.1,267.0 L1017.5,267.0 L1015.9,267.0 L1014.3,267.0 L1012.7,267.0 L1011.1,266.9 L1009.5,266.9 L1007.9,266.9 L1006.3,266.9 L1004.7,266.9 L1003.1,266.9 L1001.5,266.9 L999.9,266.9 L998.3,266.9 L996.7,266.9 L995.1,266.9 L993.5,266.9 L991.9,266.8 L990.3,266.8 L988.6,266.8 L987.0,266.8 L985.4,266.8 L983.8,266.8 L982.2,266.8 L980.6,266.8 L979.0,266.8 L977.4,266.7 L975.8,266.7 L974.2,266.7 L972.6,266.7 L971.2,266.7 L969.5,266.4 L967.8,266.0 L966.2,265.5 L964.6,264.9 L963.2,264.3 L961.8,263.6 L960.5,262.9 L959.3,262.1 L958.2,261.3 L957.1,260.4 L956.1,259.5 L955.2,258.5 L954.3,257.5 L953.5,256.4 L952.8,255.3 L952.1,254.1 L951.5,253.0 L951.0,251.8 L950.5,250.6 L950.1,249.3Z" fill="#000"/>
<path d="M1112.5,186.3 L1112.5,187.6 L1112.3,188.9 L1112.1,190.2 L1111.8,191.4 L1111.4,192.7 L1111.0,193.9 L1110.4,195.1 L1109.8,196.2 L1109.1,197.3 L1108.4,198.3 L1107.5,199.3 L1106.6,200.2 L1105.7,201.1 L1104.7,201.8 L1103.6,202.5 L1102.5,203.2 L1101.4,203.7 L1100.2,204.2 L1099.0,204.5 L1097.7,204.8 L1096.5,205.0 L1095.2,205.1 L1094.0,205.1 L1092.7,205.0 L1091.5,204.8 L1090.2,204.5 L1089.0,204.2 L1087.8,203.7 L1086.7,203.2 L1085.6,202.5 L1084.5,201.8 L1083.5,201.1 L1082.6,200.2 L1081.7,199.3 L1080.8,198.3 L1080.1,197.3 L1079.4,196.2 L1078.8,195.1 L1078.2,193.9 L1077.8,192.7 L1077.4,191.4 L1077.1,190.2 L1076.9,188.9 L1076.7,187.6 L1076.7,186.3 L1076.7,185.0 L1076.9,183.7 L1077.1,182.4 L1077.4,181.2 L1077.8,179.9 L1078.2,178.7 L1078.8,177.5 L1079.4,176.4 L1080.1,175.3 L1080.8,174.3 L1081.7,173.3 L1082.6,172.4 L1083.5,171.5 L1084.5,170.8 L1085.6,170.1 L1086.7,169.4 L1087.8,168.9 L1089.0,168.4 L1090.2,168.1 L1091.5,167.8 L1092.7,167.6 L1094.0,167.5 L1095.2,167.5 L1096.5,167.6 L1097.7,167.8 L1099.0,168.1 L1100.2,168.4 L1101.4,168.9 L1102.5,169.4 L1103.6,170.1 L1104.7,170.8 L1105.7,171.5 L1106.6,172.4 L1107.5,173.3 L1108.4,174.3 L1109.1,175.3 L1109.8,176.4 L1110.4,177.5 L1111.0,178.7 L1111.4,179.9 L1111.8,181.2 L1112.1,182.4 L1112.3,183.7 L1112.5,185.0ZM1107.3,185.3 L1107.2,184.4 L1107.0,183.4 L1106.8,182.5 L1106.5,181.6 L1106.2,180.7 L1105.8,179.9 L1105.3,179.0 L1104.8,178.2 L1104.3,177.5 L1103.7,176.8 L1103.0,176.1 L1102.4,175.5 L1101.6,175.0 L1100.9,174.5 L1100.1,174.0 L1099.3,173.7 L1098.5,173.4 L1097.6,173.1 L1096.8,172.9 L1095.9,172.8 L1095.0,172.7 L1094.2,172.7 L1093.3,172.8 L1092.4,172.9 L1091.6,173.1 L1090.7,173.4 L1089.9,173.7 L1089.1,174.0 L1088.3,174.5 L1087.6,175.0 L1086.8,175.5 L1086.2,176.1 L1085.5,176.8 L1084.9,177.5 L1084.4,178.2 L1083.9,179.0 L1083.4,179.9 L1083.0,180.7 L1082.7,181.6 L1082.4,182.5 L1082.2,183.4 L1082.0,184.4 L1081.9,185.3 L1081.9,186.3 L1081.9,187.3 L1082.0,188.2 L1082.2,189.2 L1082.4,190.1 L1082.7,191.0 L1083.0,191.9 L1083.4,192.7 L1083.9,193.6 L1084.4,194.4 L1084.9,195.1 L1085.5,195.8 L1086.2,196.5 L1086.8,197.1 L1087.6,197.6 L1088.3,198.1 L1089.1,198.6 L1089.9,198.9 L1090.7,199.2 L1091.6,199.5 L1092.4,199.7 L1093.3,199.8 L1094.2,199.9 L1095.0,199.9 L1095.9,199.8 L1096.8,199.7 L1097.6,199.5 L1098.5,199.2 L1099.3,198.9 L1100.1,198.6 L1100.9,198.1 L1101.6,197.6 L1102.4,197.1 L1103.0,196.5 L1103.7,195.8 L1104.3,195.1 L1104.8,194.4 L1105.3,193.6 L1105.8,192.7 L1106.2,191.9 L1106.5,191.0 L1106.8,190.1 L1107.0,189.2 L1107.2,188.2 L1107.3,187.3 L1107.3,186.3Z" fill="#000" fill-rule="evenodd"/>
<path d="M1121.0,186.3 L1121.0,186.6 L1121.0,187.0 L1120.9,187.3 L1120.8,187.7 L1120.7,188.0 L1120.6,188.3 L1120.4,188.6 L1120.2,188.9 L1120.0,189.2 L1119.8,189.5 L1119.6,189.8 L1119.3,190.0 L1119.1,190.2 L1118.8,190.4 L1118.5,190.6 L1118.2,190.8 L1117.9,190.9 L1117.5,191.1 L1117.2,191.2 L1116.9,191.2 L1116.5,191.3 L1116.2,191.3 L1115.8,191.3 L1115.5,191.3 L1115.1,191.2 L1114.8,191.2 L1114.5,191.1 L1114.1,190.9 L1113.8,190.8 L1113.5,190.6 L1113.2,190.4 L1112.9,190.2 L1112.7,190.0 L1112.4,189.8 L1112.2,189.5 L1112.0,189.2 L1111.8,188.9 L1111.6,188.6 L1111.4,188.3 L1111.3,188.0 L1111.2,187.7 L1111.1,187.3 L1111.0,187.0 L1111.0,186.6 L1111.0,186.3 L1111.0,186.0 L1111.0,185.6 L1111.1,185.3 L1111.2,184.9 L1111.3,184.6 L1111.4,184.3 L1111.6,184.0 L1111.8,183.7 L1112.0,183.4 L1112.2,183.1 L1112.4,182.8 L1112.7,182.6 L1112.9,182.4 L1113.2,182.2 L1113.5,182.0 L1113.8,181.8 L1114.1,181.7 L1114.5,181.5 L1114.8,181.4 L1115.1,181.4 L1115.5,181.3 L1115.8,181.3 L1116.2,181.3 L1116.5,181.3 L1116.9,181.4 L1117.2,181.4 L1117.5,181.5 L1117.9,181.7 L1118.2,181.8 L1118.5,182.0 L1118.8,182.2 L1119.1,182.4 L1119.3,182.6 L1119.6,182.8 L1119.8,183.1 L1120.0,183.4 L1120.2,183.7 L1120.4,184.0 L1120.6,184.3 L1120.7,184.6 L1120.8,184.9 L1120.9,185.3 L1121.0,185.6 L1121.0,186.0ZM1119.4,186.1 L1119.4,185.8 L1119.3,185.6 L1119.3,185.4 L1119.2,185.1 L1119.1,184.9 L1119.0,184.7 L1118.9,184.5 L1118.8,184.3 L1118.6,184.1 L1118.4,183.9 L1118.3,183.8 L1118.1,183.6 L1117.9,183.5 L1117.7,183.4 L1117.5,183.2 L1117.3,183.1 L1117.1,183.1 L1116.8,183.0 L1116.6,183.0 L1116.4,182.9 L1116.1,182.9 L1115.9,182.9 L1115.6,182.9 L1115.4,183.0 L1115.2,183.0 L1114.9,183.1 L1114.7,183.1 L1114.5,183.2 L1114.3,183.4 L1114.1,183.5 L1113.9,183.6 L1113.7,183.8 L1113.6,183.9 L1113.4,184.1 L1113.2,184.3 L1113.1,184.5 L1113.0,184.7 L1112.9,184.9 L1112.8,185.1 L1112.7,185.4 L1112.7,185.6 L1112.6,185.8 L1112.6,186.1 L1112.6,186.3 L1112.6,186.5 L1112.6,186.8 L1112.7,187.0 L1112.7,187.2 L1112.8,187.5 L1112.9,187.7 L1113.0,187.9 L1113.1,188.1 L1113.2,188.3 L1113.4,188.5 L1113.6,188.7 L1113.7,188.8 L1113.9,189.0 L1114.1,189.1 L1114.3,189.2 L1114.5,189.4 L1114.7,189.5 L1114.9,189.5 L1115.2,189.6 L1115.4,189.6 L1115.6,189.7 L1115.9,189.7 L1116.1,189.7 L1116.4,189.7 L1116.6,189.6 L1116.8,189.6 L1117.1,189.5 L1117.3,189.5 L1117.5,189.4 L1117.7,189.2 L1117.9,189.1 L1118.1,189.0 L1118.3,188.8 L1118.4,188.7 L1118.6,188.5 L1118.8,188.3 L1118.9,188.1 L1119.0,187.9 L1119.1,187.7 L1119.2,187.5 L1119.3,187.2 L1119.3,187.0 L1119.4,186.8 L1119.4,186.5 L1119.4,186.3Z" fill="#000" fill-rule="evenodd"/>
<path d="M1115.6,191.7 L1115.9,192.7 L1116.2,193.7 L1116.4,194.8 L1116.7,196.0 L1116.9,197.2 L1117.0,198.5 L1117.2,199.8 L1117.3,201.1 L1117.3,202.5 L1117.4,204.0 L1117.4,205.5 L1117.4,207.1 L1117.3,208.7 L1117.2,210.3 L1117.1,212.0 L1116.9,213.7 L1116.7,215.5 L1116.5,217.3 L1116.2,219.1 L1115.8,221.0 L1115.4,222.9 L1115.0,224.8 L1114.5,226.8 L1114.0,228.8 L1113.4,230.8 L1112.8,232.9 L1113.6,233.1 L1114.3,231.1 L1114.9,229.0 L1115.4,227.0 L1115.9,225.0 L1116.4,223.1 L1116.8,221.2 L1117.2,219.3 L1117.5,217.4 L1117.8,215.6 L1118.1,213.8 L1118.3,212.1 L1118.4,210.4 L1118.5,208.7 L1118.6,207.1 L1118.7,205.5 L1118.7,204.0 L1118.7,202.5 L1118.6,201.0 L1118.5,199.7 L1118.4,198.3 L1118.2,197.0 L1118.0,195.8 L1117.8,194.6 L1117.6,193.4 L1117.3,192.3 L1117.0,191.3Z" fill="#000"/>
<path d="M1072.1,222.0 L1072.0,223.4 L1071.8,224.9 L1071.3,226.3 L1070.8,227.7 L1070.0,229.0 L1069.1,230.3 L1068.1,231.6 L1066.9,232.9 L1065.5,234.0 L1064.1,235.2 L1062.5,236.2 L1060.8,237.2 L1058.9,238.1 L1057.0,238.9 L1055.0,239.7 L1052.9,240.4 L1050.7,241.0 L1048.5,241.4 L1046.2,241.8 L1043.9,242.1 L1041.6,242.3 L1039.2,242.4 L1036.8,242.4 L1034.4,242.3 L1032.1,242.2 L1029.8,241.9 L1027.5,241.5 L1025.2,241.1 L1023.0,240.6 L1020.9,239.9 L1018.9,239.2 L1016.9,238.5 L1015.0,237.6 L1013.3,236.7 L1011.6,235.6 L1010.1,234.5 L1008.6,233.4 L1007.4,232.1 L1006.2,230.9 L1005.2,229.5 L1004.4,228.1 L1003.8,226.6 L1003.3,225.1 L1003.0,223.6 L1002.9,222.0 L1003.0,220.4 L1003.3,218.9 L1003.7,217.4 L1004.4,215.9 L1005.2,214.5 L1006.2,213.1 L1007.3,211.8 L1008.6,210.5 L1010.0,209.3 L1011.5,208.2 L1013.1,207.2 L1014.9,206.2 L1016.8,205.3 L1018.8,204.5 L1020.8,203.7 L1022.9,203.1 L1025.1,202.5 L1027.4,202.1 L1029.7,201.7 L1032.0,201.4 L1034.4,201.2 L1036.8,201.1 L1039.2,201.1 L1041.6,201.2 L1044.0,201.4 L1046.3,201.7 L1048.6,202.2 L1050.8,202.7 L1053.0,203.3 L1055.1,204.0 L1057.1,204.8 L1059.1,205.6 L1060.9,206.6 L1062.6,207.6 L1064.2,208.7 L1065.6,209.8 L1067.0,211.0 L1068.1,212.3 L1069.2,213.6 L1070.1,214.9 L1070.8,216.3 L1071.4,217.7 L1071.8,219.1 L1072.0,220.6ZM1070.4,220.8 L1070.2,219.5 L1069.8,218.3 L1069.2,217.1 L1068.5,215.9 L1067.7,214.8 L1066.7,213.7 L1065.5,212.6 L1064.2,211.6 L1062.8,210.6 L1061.3,209.7 L1059.7,208.9 L1057.9,208.1 L1056.1,207.4 L1054.2,206.8 L1052.2,206.2 L1050.1,205.7 L1048.0,205.3 L1045.8,205.0 L1043.6,204.8 L1041.4,204.6 L1039.1,204.5 L1036.9,204.5 L1034.6,204.6 L1032.4,204.8 L1030.2,205.1 L1028.0,205.4 L1025.9,205.9 L1023.9,206.4 L1021.9,207.0 L1020.0,207.7 L1018.2,208.5 L1016.5,209.3 L1014.9,210.2 L1013.5,211.1 L1012.2,212.1 L1011.0,213.1 L1009.9,214.2 L1009.0,215.3 L1008.2,216.4 L1007.6,217.5 L1007.1,218.6 L1006.8,219.8 L1006.6,220.9 L1006.5,222.0 L1006.6,223.1 L1006.8,224.2 L1007.1,225.4 L1007.6,226.5 L1008.2,227.6 L1008.9,228.8 L1009.8,229.9 L1010.9,231.0 L1012.1,232.0 L1013.4,233.0 L1014.8,234.0 L1016.4,234.9 L1018.1,235.8 L1019.9,236.6 L1021.8,237.3 L1023.8,237.9 L1025.8,238.5 L1028.0,239.0 L1030.1,239.4 L1032.3,239.6 L1034.6,239.8 L1036.9,239.9 L1039.1,239.9 L1041.4,239.9 L1043.7,239.7 L1045.9,239.4 L1048.1,239.1 L1050.2,238.7 L1052.3,238.1 L1054.3,237.6 L1056.2,236.9 L1058.1,236.1 L1059.8,235.3 L1061.4,234.5 L1062.9,233.5 L1064.3,232.5 L1065.6,231.5 L1066.7,230.4 L1067.7,229.3 L1068.6,228.1 L1069.3,226.9 L1069.8,225.7 L1070.2,224.5 L1070.4,223.2 L1070.5,222.0Z" fill="#000" fill-rule="evenodd"/>
<path d="M1004.4,413.5 L1006.0,413.5 L1007.6,413.4 L1009.3,413.4 L1010.9,413.4 L1012.5,413.3 L1014.1,413.3 L1015.7,413.3 L1017.3,413.2 L1018.9,413.2 L1020.5,413.2 L1022.1,413.1 L1023.7,413.1 L1025.3,413.1 L1027.0,413.0 L1028.6,413.0 L1030.2,413.0 L1031.8,412.9 L1033.4,412.9 L1035.0,412.9 L1036.6,412.8 L1038.2,412.8 L1039.8,412.8 L1041.4,412.7 L1043.0,412.7 L1044.7,412.7 L1046.3,412.6 L1047.9,412.6 L1049.5,412.6 L1051.1,412.5 L1052.7,412.5 L1054.3,412.5 L1055.9,412.4 L1057.5,412.4 L1059.1,412.4 L1060.7,412.4 L1062.3,412.3 L1064.0,412.3 L1065.6,412.3 L1067.2,412.2 L1068.8,412.2 L1070.4,412.2 L1072.0,412.1 L1073.6,412.1 L1075.2,412.1 L1076.8,412.0 L1078.4,412.0 L1080.0,412.0 L1081.7,411.9 L1083.3,411.9 L1084.9,411.9 L1086.5,411.8 L1088.1,411.8 L1089.7,411.8 L1091.3,411.7 L1092.9,411.7 L1094.5,411.7 L1096.1,411.6 L1097.7,411.6 L1099.4,411.6 L1101.0,411.5 L1102.6,411.5 L1104.2,411.5 L1105.8,411.4 L1107.4,411.4 L1109.0,411.4 L1110.6,411.3 L1112.2,411.3 L1112.2,408.7 L1110.6,408.7 L1109.0,408.8 L1107.3,408.8 L1105.7,408.8 L1104.1,408.9 L1102.5,408.9 L1100.9,408.9 L1099.3,409.0 L1097.7,409.0 L1096.1,409.0 L1094.5,409.1 L1092.9,409.1 L1091.3,409.1 L1089.6,409.2 L1088.0,409.2 L1086.4,409.2 L1084.8,409.3 L1083.2,409.3 L1081.6,409.3 L1080.0,409.4 L1078.4,409.4 L1076.8,409.4 L1075.2,409.5 L1073.6,409.5 L1071.9,409.5 L1070.3,409.6 L1068.7,409.6 L1067.1,409.6 L1065.5,409.7 L1063.9,409.7 L1062.3,409.7 L1060.7,409.8 L1059.1,409.8 L1057.5,409.8 L1055.9,409.8 L1054.3,409.9 L1052.6,409.9 L1051.0,409.9 L1049.4,410.0 L1047.8,410.0 L1046.2,410.0 L1044.6,410.1 L1043.0,410.1 L1041.4,410.1 L1039.8,410.2 L1038.2,410.2 L1036.6,410.2 L1034.9,410.3 L1033.3,410.3 L1031.7,410.3 L1030.1,410.4 L1028.5,410.4 L1026.9,410.4 L1025.3,410.5 L1023.7,410.5 L1022.1,410.5 L1020.5,410.6 L1018.9,410.6 L1017.2,410.6 L1015.6,410.7 L1014.0,410.7 L1012.4,410.7 L1010.8,410.8 L1009.2,410.8 L1007.6,410.8 L1006.0,410.9 L1004.4,410.9Z" fill="#000"/>
<path d="M1111.0,409.9 L1110.9,411.9 L1110.8,413.9 L1110.6,415.9 L1110.5,417.9 L1110.4,419.9 L1110.3,421.8 L1110.2,423.8 L1110.1,425.7 L1110.0,427.6 L1109.9,429.5 L1109.8,431.3 L1109.7,433.2 L1109.6,435.0 L1109.5,436.7 L1109.4,438.4 L1109.3,440.1 L1109.2,441.8 L1109.2,443.4 L1109.1,444.9 L1109.0,446.4 L1109.0,447.8 L1108.9,449.2 L1108.9,450.6 L1108.8,451.8 L1108.8,453.0 L1108.7,454.2 L1108.7,455.2 L1108.7,456.2 L1108.7,457.2 L1108.7,457.9 L1108.5,459.9 L1108.3,461.9 L1108.1,463.8 L1107.9,465.8 L1107.7,467.7 L1107.6,469.6 L1107.4,471.5 L1107.2,473.4 L1107.0,475.3 L1106.8,477.1 L1106.6,478.9 L1106.4,480.7 L1106.3,482.5 L1106.1,484.2 L1105.9,486.0 L1105.7,487.6 L1105.5,489.3 L1105.4,490.9 L1105.2,492.5 L1105.0,494.1 L1104.8,495.6 L1104.7,497.1 L1104.5,498.5 L1104.3,500.0 L1104.2,501.3 L1104.0,502.7 L1103.8,504.0 L1103.7,505.2 L1103.5,506.4 L1103.4,507.6 L1103.2,508.7 L1103.1,509.8 L1102.9,510.7 L1102.6,512.6 L1102.2,514.4 L1101.8,516.1 L1101.3,517.8 L1100.8,519.4 L1100.2,521.0 L1099.6,522.5 L1099.0,524.0 L1098.3,525.4 L1097.6,526.7 L1096.9,528.0 L1096.1,529.2 L1095.2,530.3 L1094.4,531.4 L1093.5,532.4 L1092.5,533.3 L1091.5,534.2 L1090.5,535.0 L1089.5,535.8 L1088.4,536.4 L1087.3,537.1 L1086.1,537.6 L1084.7,538.1 L1083.4,538.6 L1082.1,539.0 L1080.7,539.4 L1079.3,539.7 L1077.8,540.0 L1076.1,540.2 L1074.3,540.3 L1072.2,540.4 L1070.0,540.4 L1068.4,540.4 L1066.8,540.3 L1065.2,540.3 L1063.6,540.3 L1062.0,540.2 L1060.4,540.2 L1058.8,540.1 L1057.2,540.1 L1055.6,540.0 L1054.0,540.0 L1052.4,540.0 L1050.8,539.9 L1049.2,539.9 L1047.6,539.8 L1046.0,539.8 L1044.4,539.8 L1042.8,539.7 L1041.2,539.7 L1039.6,539.6 L1038.0,539.6 L1036.4,539.6 L1034.8,539.5 L1033.2,539.5 L1031.6,539.4 L1030.0,539.4 L1028.4,539.4 L1026.8,539.3 L1025.2,539.3 L1023.6,539.3 L1022.0,539.2 L1020.4,539.2 L1018.8,539.1 L1017.2,539.1 L1015.6,539.1 L1014.0,539.0 L1012.4,539.0 L1010.8,539.0 L1009.2,538.9 L1007.6,538.9 L1006.0,538.8 L1004.4,538.8 L1002.8,538.8 L1001.2,538.7 L999.6,538.7 L998.0,538.7 L996.4,538.6 L994.8,538.6 L993.2,538.6 L991.6,538.6 L990.0,538.6 L988.4,538.6 L986.8,538.6 L985.2,538.5 L983.6,538.5 L982.0,538.5 L980.4,538.5 L978.8,538.6 L977.2,538.6 L975.8,538.6 L974.0,538.2 L972.2,537.8 L970.5,537.3 L968.8,536.7 L967.1,536.1 L965.6,535.5 L964.0,534.8 L962.6,534.1 L961.2,533.3 L959.9,532.5 L958.6,531.7 L957.4,530.8 L956.3,529.9 L955.2,529.0 L954.2,528.0 L953.3,527.0 L952.4,526.0 L951.6,525.0 L950.9,524.0 L950.2,522.9 L949.6,521.8 L948.2,522.6 L948.8,523.7 L949.5,524.8 L950.3,526.0 L951.1,527.1 L952.0,528.1 L953.0,529.2 L954.0,530.3 L955.1,531.3 L956.3,532.3 L957.5,533.2 L958.8,534.2 L960.1,535.1 L961.6,535.9 L963.0,536.8 L964.6,537.6 L966.2,538.3 L967.9,539.0 L969.7,539.7 L971.5,540.3 L973.3,540.9 L975.4,541.4 L977.2,541.5 L978.8,541.6 L980.4,541.7 L982.0,541.7 L983.6,541.8 L985.2,541.9 L986.8,541.9 L988.4,542.0 L990.0,542.0 L991.6,542.1 L993.2,542.1 L994.8,542.2 L996.4,542.2 L998.0,542.3 L999.6,542.3 L1001.2,542.3 L1002.8,542.4 L1004.4,542.4 L1006.0,542.4 L1007.6,542.5 L1009.2,542.5 L1010.8,542.5 L1012.4,542.6 L1014.0,542.6 L1015.6,542.6 L1017.2,542.7 L1018.8,542.7 L1020.4,542.7 L1022.0,542.7 L1023.6,542.8 L1025.2,542.8 L1026.8,542.8 L1028.4,542.9 L1030.0,542.9 L1031.6,542.9 L1033.2,543.0 L1034.8,543.0 L1036.4,543.0 L1038.0,543.0 L1039.6,543.1 L1041.2,543.1 L1042.8,543.1 L1044.4,543.1 L1046.0,543.2 L1047.6,543.2 L1049.2,543.2 L1050.8,543.3 L1052.4,543.3 L1054.0,543.3 L1055.6,543.3 L1057.2,543.4 L1058.8,543.4 L1060.4,543.4 L1062.0,543.5 L1063.6,543.5 L1065.2,543.5 L1066.8,543.5 L1068.4,543.6 L1070.0,543.6 L1072.3,543.6 L1074.5,543.5 L1076.4,543.3 L1078.2,543.1 L1079.9,542.8 L1081.5,542.4 L1083.0,542.0 L1084.4,541.5 L1085.9,541.0 L1087.3,540.4 L1088.6,539.8 L1089.9,539.1 L1091.2,538.3 L1092.4,537.4 L1093.5,536.5 L1094.6,535.5 L1095.7,534.5 L1096.7,533.3 L1097.6,532.1 L1098.5,530.9 L1099.4,529.5 L1100.2,528.2 L1101.0,526.7 L1101.7,525.2 L1102.4,523.7 L1103.0,522.0 L1103.6,520.4 L1104.2,518.7 L1104.7,516.9 L1105.1,515.1 L1105.5,513.2 L1105.9,511.3 L1106.0,510.2 L1106.2,509.1 L1106.3,508.0 L1106.5,506.8 L1106.6,505.6 L1106.8,504.3 L1106.9,503.0 L1107.1,501.7 L1107.3,500.3 L1107.4,498.9 L1107.6,497.4 L1107.7,495.9 L1107.9,494.4 L1108.1,492.8 L1108.2,491.2 L1108.4,489.6 L1108.6,487.9 L1108.7,486.2 L1108.9,484.5 L1109.1,482.8 L1109.2,481.0 L1109.4,479.2 L1109.6,477.4 L1109.8,475.5 L1109.9,473.7 L1110.1,471.8 L1110.3,469.9 L1110.4,468.0 L1110.6,466.0 L1110.8,464.1 L1111.0,462.1 L1111.1,460.1 L1111.3,458.1 L1111.3,457.2 L1111.3,456.3 L1111.3,455.3 L1111.4,454.2 L1111.4,453.1 L1111.4,451.9 L1111.4,450.6 L1111.5,449.3 L1111.5,447.9 L1111.6,446.5 L1111.6,445.0 L1111.7,443.5 L1111.8,441.9 L1111.8,440.2 L1111.9,438.6 L1112.0,436.8 L1112.1,435.1 L1112.1,433.3 L1112.2,431.5 L1112.3,429.6 L1112.4,427.7 L1112.5,425.8 L1112.6,423.9 L1112.7,422.0 L1112.8,420.0 L1112.9,418.0 L1113.0,416.1 L1113.2,414.1 L1113.3,412.1 L1113.4,410.1Z" fill="#000"/>
<path d="M948.3,522.7 L949.8,524.4 L951.2,525.9 L952.6,527.1 L954.0,528.2 L955.4,529.0 L956.9,529.6 L958.4,529.9 L960.0,530.1 L961.7,530.1 L963.3,529.9 L964.8,529.7 L966.3,529.3 L967.7,528.7 L969.1,528.0 L970.4,527.1 L971.6,526.1 L972.7,524.9 L973.8,523.5 L974.7,522.0 L975.5,520.3 L976.3,518.5 L976.6,517.2 L976.9,516.0 L977.1,514.8 L977.4,513.5 L977.7,512.2 L978.0,510.9 L978.2,509.4 L978.5,508.0 L978.8,506.5 L979.1,505.0 L979.4,503.5 L979.6,501.9 L979.9,500.3 L980.2,498.6 L980.5,497.0 L980.8,495.3 L981.1,493.6 L981.4,491.9 L981.7,490.1 L982.0,488.4 L982.3,486.6 L982.6,484.8 L982.9,483.1 L983.2,481.3 L983.4,479.5 L983.7,477.7 L984.0,475.9 L984.3,474.1 L984.6,472.3 L984.9,470.6 L985.1,468.8 L985.4,467.0 L985.7,465.3 L985.9,463.6 L986.2,461.9 L986.4,460.2 L986.7,458.3 L987.0,456.5 L987.2,454.7 L987.5,452.9 L987.8,451.1 L988.1,449.4 L988.5,447.7 L988.8,446.0 L989.1,444.3 L989.5,442.7 L989.8,441.1 L990.2,439.5 L990.6,437.9 L991.0,436.4 L991.4,434.8 L991.8,433.4 L992.2,431.9 L992.6,430.5 L993.1,429.1 L993.5,427.7 L994.0,426.4 L994.4,425.1 L994.9,423.8 L995.4,422.6 L996.3,420.8 L997.3,419.3 L998.2,417.9 L999.2,416.7 L1000.2,415.8 L1001.2,415.0 L1002.3,414.4 L1003.4,414.0 L1004.8,413.7 L1004.0,410.7 L1002.5,411.1 L1001.0,411.7 L999.6,412.5 L998.3,413.5 L997.0,414.7 L995.9,416.1 L994.8,417.6 L993.7,419.4 L992.6,421.4 L992.1,422.7 L991.6,424.0 L991.1,425.4 L990.7,426.8 L990.2,428.2 L989.8,429.6 L989.3,431.1 L988.9,432.6 L988.5,434.1 L988.1,435.6 L987.7,437.2 L987.3,438.8 L986.9,440.4 L986.6,442.1 L986.2,443.7 L985.9,445.4 L985.6,447.1 L985.2,448.9 L984.9,450.6 L984.6,452.4 L984.4,454.2 L984.1,456.1 L983.8,457.9 L983.6,459.8 L983.3,461.5 L983.1,463.2 L982.8,464.9 L982.5,466.6 L982.3,468.4 L982.0,470.1 L981.7,471.9 L981.5,473.7 L981.2,475.4 L980.9,477.2 L980.6,479.0 L980.3,480.8 L980.0,482.6 L979.8,484.4 L979.5,486.1 L979.2,487.9 L978.9,489.7 L978.6,491.4 L978.3,493.1 L978.0,494.8 L977.7,496.5 L977.4,498.1 L977.2,499.8 L976.9,501.4 L976.6,503.0 L976.3,504.5 L976.0,506.0 L975.7,507.5 L975.5,508.9 L975.2,510.3 L974.9,511.7 L974.7,513.0 L974.4,514.2 L974.1,515.4 L973.9,516.6 L973.7,517.5 L973.0,519.2 L972.2,520.7 L971.4,522.0 L970.6,523.1 L969.7,524.1 L968.7,525.0 L967.7,525.8 L966.6,526.4 L965.5,526.9 L964.2,527.3 L962.9,527.6 L961.5,527.8 L960.0,527.9 L958.7,527.9 L957.4,527.7 L956.2,527.3 L955.0,526.6 L953.7,525.8 L952.4,524.7 L951.0,523.3 L949.5,521.7Z" fill="#000"/>
<path d="M1004.1,413.3 L1005.7,413.7 L1007.2,414.3 L1008.5,415.1 L1009.7,415.9 L1010.7,416.9 L1011.7,417.9 L1012.5,419.0 L1013.2,420.2 L1013.8,421.4 L1014.3,422.7 L1014.7,424.1 L1015.0,425.4 L1015.2,426.7 L1015.0,427.8 L1014.6,429.0 L1014.0,430.1 L1013.3,431.0 L1012.4,431.8 L1011.4,432.6 L1010.2,433.2 L1008.8,433.7 L1007.2,434.1 L1005.4,434.3 L1005.8,436.9 L1007.7,436.6 L1009.5,436.2 L1011.2,435.7 L1012.8,434.9 L1014.1,434.0 L1015.4,432.9 L1016.4,431.6 L1017.2,430.2 L1017.8,428.6 L1018.2,426.7 L1018.0,424.9 L1017.6,423.3 L1017.1,421.7 L1016.4,420.2 L1015.6,418.8 L1014.7,417.4 L1013.6,416.2 L1012.5,415.0 L1011.1,414.0 L1009.7,413.1 L1008.1,412.3 L1006.5,411.6 L1004.7,411.1Z" fill="#000"/>
<path d="M1005.6,437.1 L1007.2,437.1 L1008.8,437.1 L1010.5,437.0 L1012.1,437.0 L1013.7,437.0 L1015.3,437.0 L1016.9,437.0 L1018.5,436.9 L1020.1,436.9 L1021.7,436.9 L1023.4,436.9 L1025.0,436.9 L1026.6,436.8 L1028.2,436.8 L1029.8,436.8 L1031.4,436.8 L1033.0,436.8 L1034.6,436.7 L1036.2,436.7 L1037.9,436.7 L1039.5,436.7 L1041.1,436.6 L1042.7,436.6 L1044.3,436.6 L1045.9,436.6 L1047.5,436.6 L1049.1,436.5 L1050.8,436.5 L1052.4,436.5 L1054.0,436.5 L1055.6,436.4 L1057.2,436.4 L1058.8,436.4 L1060.4,436.4 L1062.0,436.4 L1063.7,436.3 L1065.3,436.3 L1066.9,436.3 L1068.5,436.3 L1070.1,436.2 L1071.7,436.2 L1073.3,436.2 L1074.9,436.2 L1076.5,436.2 L1078.2,436.1 L1079.8,436.1 L1081.4,436.1 L1083.0,436.1 L1084.6,436.0 L1086.2,436.0 L1087.8,436.0 L1089.4,436.0 L1091.1,436.0 L1092.7,435.9 L1094.3,435.9 L1095.9,435.9 L1097.5,435.9 L1099.1,435.9 L1100.7,435.8 L1102.3,435.8 L1104.0,435.8 L1105.6,435.8 L1107.2,435.8 L1108.8,435.7 L1110.4,435.7 L1112.0,435.7 L1112.0,433.1 L1110.4,433.1 L1108.8,433.1 L1107.1,433.2 L1105.5,433.2 L1103.9,433.2 L1102.3,433.2 L1100.7,433.2 L1099.1,433.2 L1097.5,433.3 L1095.9,433.3 L1094.3,433.3 L1092.6,433.3 L1091.0,433.3 L1089.4,433.3 L1087.8,433.3 L1086.2,433.4 L1084.6,433.4 L1083.0,433.4 L1081.4,433.4 L1079.7,433.4 L1078.1,433.4 L1076.5,433.4 L1074.9,433.5 L1073.3,433.5 L1071.7,433.5 L1070.1,433.5 L1068.5,433.5 L1066.8,433.5 L1065.2,433.5 L1063.6,433.6 L1062.0,433.6 L1060.4,433.6 L1058.8,433.6 L1057.2,433.6 L1055.6,433.6 L1053.9,433.6 L1052.3,433.7 L1050.7,433.7 L1049.1,433.7 L1047.5,433.7 L1045.9,433.7 L1044.3,433.7 L1042.7,433.7 L1041.1,433.8 L1039.4,433.8 L1037.8,433.8 L1036.2,433.8 L1034.6,433.8 L1033.0,433.8 L1031.4,433.8 L1029.8,433.9 L1028.2,433.9 L1026.5,433.9 L1024.9,433.9 L1023.3,433.9 L1021.7,433.9 L1020.1,433.9 L1018.5,434.0 L1016.9,434.0 L1015.3,434.0 L1013.6,434.0 L1012.0,434.0 L1010.4,434.0 L1008.8,434.1 L1007.2,434.1 L1005.6,434.1Z" fill="#000"/>
<path d="M1044.1,464.4 L1044.0,465.4 L1043.9,466.4 L1043.5,467.4 L1043.1,468.4 L1042.6,469.4 L1041.9,470.3 L1041.2,471.2 L1040.3,472.1 L1039.3,472.9 L1038.3,473.7 L1037.1,474.5 L1035.9,475.2 L1034.6,475.8 L1033.2,476.4 L1031.7,477.0 L1030.2,477.4 L1028.6,477.8 L1027.0,478.2 L1025.4,478.5 L1023.7,478.7 L1022.0,478.8 L1020.3,478.9 L1018.5,478.9 L1016.8,478.8 L1015.1,478.7 L1013.4,478.5 L1011.8,478.3 L1010.2,478.0 L1008.6,477.6 L1007.0,477.2 L1005.5,476.7 L1004.1,476.1 L1002.7,475.5 L1001.5,474.9 L1000.2,474.2 L999.1,473.4 L998.1,472.6 L997.1,471.7 L996.3,470.8 L995.6,469.8 L994.9,468.8 L994.5,467.7 L994.1,466.7 L993.9,465.5 L993.8,464.4 L993.9,463.3 L994.1,462.1 L994.4,461.0 L994.9,460.0 L995.5,459.0 L996.2,458.0 L997.1,457.0 L998.0,456.1 L999.0,455.3 L1000.2,454.5 L1001.4,453.7 L1002.6,453.1 L1004.0,452.4 L1005.4,451.9 L1006.9,451.3 L1008.5,450.9 L1010.1,450.5 L1011.7,450.2 L1013.4,449.9 L1015.1,449.7 L1016.8,449.6 L1018.5,449.5 L1020.3,449.5 L1022.0,449.6 L1023.7,449.7 L1025.4,450.0 L1027.1,450.3 L1028.7,450.6 L1030.3,451.1 L1031.8,451.6 L1033.3,452.1 L1034.7,452.7 L1036.0,453.4 L1037.2,454.2 L1038.4,454.9 L1039.4,455.7 L1040.4,456.6 L1041.2,457.5 L1042.0,458.4 L1042.6,459.4 L1043.2,460.4 L1043.6,461.4 L1043.9,462.4 L1044.0,463.4ZM1042.6,463.6 L1042.5,462.7 L1042.2,461.9 L1041.8,461.1 L1041.3,460.3 L1040.7,459.5 L1040.0,458.7 L1039.1,458.0 L1038.2,457.3 L1037.2,456.6 L1036.1,456.0 L1034.9,455.5 L1033.7,454.9 L1032.4,454.5 L1031.0,454.0 L1029.6,453.6 L1028.1,453.3 L1026.6,453.0 L1025.0,452.8 L1023.4,452.7 L1021.8,452.6 L1020.2,452.5 L1018.6,452.5 L1017.0,452.6 L1015.4,452.7 L1013.8,452.9 L1012.3,453.1 L1010.7,453.5 L1009.3,453.8 L1007.9,454.2 L1006.5,454.7 L1005.2,455.3 L1004.0,455.8 L1002.9,456.4 L1001.9,457.1 L1000.9,457.8 L1000.1,458.5 L999.4,459.2 L998.7,459.9 L998.2,460.7 L997.7,461.4 L997.4,462.2 L997.2,462.9 L997.0,463.7 L997.0,464.4 L997.0,465.1 L997.2,465.9 L997.4,466.6 L997.7,467.4 L998.1,468.1 L998.7,468.9 L999.3,469.7 L1000.0,470.4 L1000.9,471.1 L1001.8,471.9 L1002.8,472.5 L1003.9,473.2 L1005.1,473.8 L1006.4,474.3 L1007.8,474.8 L1009.2,475.3 L1010.7,475.7 L1012.2,476.0 L1013.8,476.3 L1015.3,476.5 L1017.0,476.6 L1018.6,476.7 L1020.2,476.7 L1021.8,476.6 L1023.5,476.5 L1025.1,476.3 L1026.6,476.1 L1028.2,475.8 L1029.7,475.5 L1031.1,475.1 L1032.5,474.6 L1033.8,474.1 L1035.0,473.5 L1036.2,472.9 L1037.3,472.3 L1038.3,471.6 L1039.2,470.9 L1040.0,470.1 L1040.7,469.4 L1041.3,468.6 L1041.8,467.8 L1042.2,466.9 L1042.5,466.1 L1042.6,465.2 L1042.7,464.4Z" fill="#000" fill-rule="evenodd"/>
<path d="M1093.0,481.1 L1092.9,482.1 L1092.8,483.1 L1092.4,484.1 L1092.0,485.1 L1091.5,486.1 L1090.8,487.0 L1090.1,487.9 L1089.2,488.8 L1088.2,489.6 L1087.2,490.4 L1086.0,491.2 L1084.8,491.9 L1083.5,492.5 L1082.1,493.1 L1080.6,493.7 L1079.1,494.1 L1077.5,494.5 L1075.9,494.9 L1074.3,495.2 L1072.6,495.4 L1070.9,495.5 L1069.2,495.6 L1067.4,495.6 L1065.7,495.5 L1064.0,495.4 L1062.3,495.2 L1060.7,495.0 L1059.1,494.7 L1057.5,494.3 L1055.9,493.9 L1054.4,493.4 L1053.0,492.8 L1051.6,492.2 L1050.4,491.6 L1049.1,490.9 L1048.0,490.1 L1047.0,489.3 L1046.0,488.4 L1045.2,487.5 L1044.5,486.5 L1043.8,485.5 L1043.4,484.4 L1043.0,483.4 L1042.8,482.2 L1042.7,481.1 L1042.8,480.0 L1043.0,478.8 L1043.3,477.7 L1043.8,476.7 L1044.4,475.7 L1045.1,474.7 L1046.0,473.7 L1046.9,472.8 L1047.9,472.0 L1049.1,471.2 L1050.3,470.4 L1051.5,469.8 L1052.9,469.1 L1054.3,468.6 L1055.8,468.0 L1057.4,467.6 L1059.0,467.2 L1060.6,466.9 L1062.3,466.6 L1064.0,466.4 L1065.7,466.3 L1067.4,466.2 L1069.2,466.2 L1070.9,466.3 L1072.6,466.4 L1074.3,466.7 L1076.0,467.0 L1077.6,467.3 L1079.2,467.8 L1080.7,468.3 L1082.2,468.8 L1083.6,469.4 L1084.9,470.1 L1086.1,470.9 L1087.3,471.6 L1088.3,472.4 L1089.3,473.3 L1090.1,474.2 L1090.9,475.1 L1091.5,476.1 L1092.1,477.1 L1092.5,478.1 L1092.8,479.1 L1092.9,480.1ZM1091.5,480.3 L1091.4,479.4 L1091.1,478.6 L1090.7,477.8 L1090.2,477.0 L1089.6,476.2 L1088.9,475.4 L1088.0,474.7 L1087.1,474.0 L1086.1,473.3 L1085.0,472.7 L1083.8,472.2 L1082.6,471.6 L1081.3,471.2 L1079.9,470.7 L1078.5,470.3 L1077.0,470.0 L1075.5,469.7 L1073.9,469.5 L1072.3,469.4 L1070.7,469.3 L1069.1,469.2 L1067.5,469.2 L1065.9,469.3 L1064.3,469.4 L1062.7,469.6 L1061.2,469.8 L1059.6,470.2 L1058.2,470.5 L1056.8,470.9 L1055.4,471.4 L1054.1,472.0 L1052.9,472.5 L1051.8,473.1 L1050.8,473.8 L1049.8,474.5 L1049.0,475.2 L1048.3,475.9 L1047.6,476.6 L1047.1,477.4 L1046.6,478.1 L1046.3,478.9 L1046.1,479.6 L1045.9,480.4 L1045.9,481.1 L1045.9,481.8 L1046.1,482.6 L1046.3,483.3 L1046.6,484.1 L1047.0,484.8 L1047.6,485.6 L1048.2,486.4 L1048.9,487.1 L1049.8,487.8 L1050.7,488.6 L1051.7,489.2 L1052.8,489.9 L1054.0,490.5 L1055.3,491.0 L1056.7,491.5 L1058.1,492.0 L1059.6,492.4 L1061.1,492.7 L1062.7,493.0 L1064.2,493.2 L1065.9,493.3 L1067.5,493.4 L1069.1,493.4 L1070.7,493.3 L1072.4,493.2 L1074.0,493.0 L1075.5,492.8 L1077.1,492.5 L1078.6,492.2 L1080.0,491.8 L1081.4,491.3 L1082.7,490.8 L1083.9,490.2 L1085.1,489.6 L1086.2,489.0 L1087.2,488.3 L1088.1,487.6 L1088.9,486.8 L1089.6,486.1 L1090.2,485.3 L1090.7,484.5 L1091.1,483.6 L1091.4,482.8 L1091.5,481.9 L1091.6,481.1Z" fill="#000" fill-rule="evenodd"/>
<path d="M990.6,499.3 L992.2,499.3 L993.8,499.3 L995.5,499.3 L997.1,499.3 L998.7,499.2 L1000.3,499.2 L1001.9,499.2 L1003.6,499.2 L1005.2,499.2 L1006.8,499.2 L1008.4,499.2 L1010.0,499.2 L1011.7,499.2 L1013.3,499.2 L1014.9,499.1 L1016.5,499.1 L1018.1,499.1 L1019.8,499.1 L1021.4,499.1 L1022.1,498.7 L1021.7,499.4 L1021.7,501.1 L1021.6,502.7 L1021.6,504.4 L1021.6,506.0 L1021.6,507.6 L1021.6,509.3 L1021.5,510.9 L1021.5,512.6 L1021.5,514.2 L1021.5,515.8 L1021.4,517.5 L1021.4,519.1 L1021.4,520.8 L1021.4,522.4 L1021.4,524.1 L1021.3,525.7 L1021.3,527.3 L1021.7,528.1 L1021.0,527.7 L1019.4,527.7 L1017.8,527.7 L1016.2,527.7 L1014.6,527.8 L1013.0,527.8 L1011.4,527.8 L1009.8,527.8 L1008.2,527.8 L1006.6,527.8 L1005.0,527.8 L1003.4,527.8 L1001.8,527.8 L1000.2,527.8 L998.6,527.9 L997.0,527.9 L995.4,527.9 L993.8,527.9 L992.2,527.9 L991.9,529.1 L991.9,498.0 L989.3,498.0 L989.3,529.3 L992.2,530.5 L993.8,530.5 L995.4,530.5 L997.0,530.5 L998.6,530.4 L1000.2,530.4 L1001.8,530.4 L1003.4,530.4 L1005.0,530.4 L1006.6,530.4 L1008.2,530.4 L1009.8,530.4 L1011.4,530.4 L1013.0,530.4 L1014.6,530.3 L1016.2,530.3 L1017.8,530.3 L1019.4,530.3 L1021.0,530.3 L1023.5,529.9 L1023.9,527.4 L1023.9,525.7 L1024.0,524.1 L1024.0,522.4 L1024.0,520.8 L1024.0,519.2 L1024.0,517.5 L1024.1,515.9 L1024.1,514.2 L1024.1,512.6 L1024.1,511.0 L1024.2,509.3 L1024.2,507.7 L1024.2,506.0 L1024.2,504.4 L1024.2,502.7 L1024.3,501.1 L1024.3,499.5 L1023.9,496.9 L1021.4,496.5 L1019.8,496.5 L1018.1,496.5 L1016.5,496.5 L1014.9,496.6 L1013.3,496.6 L1011.7,496.6 L1010.0,496.6 L1008.4,496.6 L1006.8,496.6 L1005.2,496.6 L1003.6,496.6 L1001.9,496.6 L1000.3,496.6 L998.7,496.7 L997.1,496.7 L995.5,496.7 L993.8,496.7 L992.2,496.7 L990.6,496.7Z" fill="#000"/>
<path d="M1034.5,503.4 L1036.1,503.4 L1037.7,503.4 L1039.3,503.3 L1040.9,503.3 L1042.5,503.3 L1044.1,503.3 L1045.8,503.3 L1047.4,503.2 L1049.0,503.2 L1050.6,503.2 L1052.2,503.2 L1053.8,503.2 L1055.4,503.1 L1057.0,503.1 L1058.6,503.1 L1060.2,503.1 L1061.8,503.1 L1063.4,503.0 L1065.0,503.0 L1065.6,502.6 L1065.2,503.3 L1065.2,504.9 L1065.2,506.6 L1065.2,508.3 L1065.2,509.9 L1065.2,511.6 L1065.2,513.2 L1065.2,514.9 L1065.2,516.6 L1065.2,518.2 L1065.2,519.9 L1065.2,521.6 L1065.2,523.2 L1065.2,524.9 L1065.2,526.5 L1065.2,528.2 L1065.2,529.9 L1065.2,531.5 L1065.6,532.2 L1065.0,531.8 L1063.4,531.8 L1061.8,531.9 L1060.2,531.9 L1058.6,531.9 L1057.0,531.9 L1055.3,531.9 L1053.7,532.0 L1052.1,532.0 L1050.5,532.0 L1048.9,532.0 L1047.3,532.0 L1045.7,532.1 L1044.1,532.1 L1042.5,532.1 L1040.9,532.1 L1039.3,532.1 L1037.7,532.2 L1036.1,532.2 L1035.9,533.5 L1035.9,502.0 L1033.1,502.0 L1033.1,533.7 L1036.1,535.0 L1037.7,535.0 L1039.3,534.9 L1040.9,534.9 L1042.5,534.9 L1044.1,534.9 L1045.8,534.9 L1047.4,534.8 L1049.0,534.8 L1050.6,534.8 L1052.2,534.8 L1053.8,534.8 L1055.4,534.7 L1057.0,534.7 L1058.6,534.7 L1060.2,534.7 L1061.8,534.7 L1063.4,534.6 L1065.0,534.6 L1067.6,534.2 L1068.0,531.5 L1068.0,529.9 L1068.0,528.2 L1068.0,526.5 L1068.0,524.9 L1068.0,523.2 L1068.0,521.6 L1068.0,519.9 L1068.0,518.2 L1068.0,516.6 L1068.0,514.9 L1068.0,513.2 L1068.0,511.6 L1068.0,509.9 L1068.0,508.3 L1068.0,506.6 L1068.0,504.9 L1068.0,503.3 L1067.6,500.6 L1065.0,500.2 L1063.4,500.2 L1061.8,500.3 L1060.2,500.3 L1058.6,500.3 L1057.0,500.3 L1055.3,500.3 L1053.7,500.4 L1052.1,500.4 L1050.5,500.4 L1048.9,500.4 L1047.3,500.4 L1045.7,500.5 L1044.1,500.5 L1042.5,500.5 L1040.9,500.5 L1039.3,500.5 L1037.7,500.6 L1036.1,500.6 L1034.5,500.6Z" fill="#000"/>
<path d="M1014.6,514.2 L1014.6,515.0 L1014.6,515.8 L1014.5,516.6 L1014.3,517.4 L1014.1,518.2 L1013.9,519.0 L1013.6,519.7 L1013.3,520.4 L1013.0,521.1 L1012.6,521.8 L1012.2,522.4 L1011.8,522.9 L1011.3,523.5 L1010.8,524.0 L1010.3,524.4 L1009.7,524.8 L1009.2,525.2 L1008.6,525.4 L1008.0,525.7 L1007.4,525.9 L1006.7,526.0 L1006.1,526.0 L1005.5,526.0 L1004.9,526.0 L1004.2,525.9 L1003.6,525.7 L1003.0,525.4 L1002.4,525.2 L1001.9,524.8 L1001.3,524.4 L1000.8,524.0 L1000.3,523.5 L999.8,522.9 L999.4,522.4 L999.0,521.8 L998.6,521.1 L998.3,520.4 L998.0,519.7 L997.7,519.0 L997.5,518.2 L997.3,517.4 L997.1,516.6 L997.0,515.8 L997.0,515.0 L996.9,514.2 L997.0,513.4 L997.0,512.6 L997.1,511.8 L997.3,511.0 L997.5,510.2 L997.7,509.4 L998.0,508.7 L998.3,508.0 L998.6,507.3 L999.0,506.6 L999.4,506.0 L999.8,505.5 L1000.3,504.9 L1000.8,504.4 L1001.3,504.0 L1001.9,503.6 L1002.4,503.2 L1003.0,503.0 L1003.6,502.7 L1004.2,502.5 L1004.9,502.4 L1005.5,502.4 L1006.1,502.4 L1006.7,502.4 L1007.4,502.5 L1008.0,502.7 L1008.6,503.0 L1009.2,503.2 L1009.7,503.6 L1010.3,504.0 L1010.8,504.4 L1011.3,504.9 L1011.8,505.5 L1012.2,506.0 L1012.6,506.6 L1013.0,507.3 L1013.3,508.0 L1013.6,508.7 L1013.9,509.4 L1014.1,510.2 L1014.3,511.0 L1014.5,511.8 L1014.6,512.6 L1014.6,513.4ZM1013.5,513.4 L1013.5,512.7 L1013.4,511.9 L1013.2,511.2 L1013.1,510.5 L1012.9,509.8 L1012.6,509.1 L1012.3,508.4 L1012.0,507.8 L1011.7,507.2 L1011.3,506.7 L1010.9,506.2 L1010.5,505.7 L1010.1,505.2 L1009.6,504.8 L1009.1,504.5 L1008.6,504.2 L1008.1,504.0 L1007.6,503.8 L1007.1,503.6 L1006.6,503.5 L1006.1,503.5 L1005.5,503.5 L1005.0,503.5 L1004.5,503.6 L1004.0,503.8 L1003.5,504.0 L1003.0,504.2 L1002.5,504.5 L1002.0,504.8 L1001.5,505.2 L1001.1,505.7 L1000.7,506.2 L1000.3,506.7 L999.9,507.2 L999.6,507.8 L999.3,508.4 L999.0,509.1 L998.7,509.8 L998.5,510.5 L998.4,511.2 L998.2,511.9 L998.1,512.7 L998.1,513.4 L998.0,514.2 L998.1,515.0 L998.1,515.7 L998.2,516.5 L998.4,517.2 L998.5,517.9 L998.7,518.6 L999.0,519.3 L999.3,520.0 L999.6,520.6 L999.9,521.2 L1000.3,521.7 L1000.7,522.2 L1001.1,522.7 L1001.5,523.2 L1002.0,523.6 L1002.5,523.9 L1003.0,524.2 L1003.5,524.4 L1004.0,524.6 L1004.5,524.8 L1005.0,524.9 L1005.5,524.9 L1006.1,524.9 L1006.6,524.9 L1007.1,524.8 L1007.6,524.6 L1008.1,524.4 L1008.6,524.2 L1009.1,523.9 L1009.6,523.6 L1010.1,523.2 L1010.5,522.7 L1010.9,522.2 L1011.3,521.7 L1011.7,521.2 L1012.0,520.6 L1012.3,520.0 L1012.6,519.3 L1012.9,518.6 L1013.1,517.9 L1013.2,517.2 L1013.4,516.5 L1013.5,515.7 L1013.5,515.0 L1013.5,514.2Z" fill="#000" fill-rule="evenodd"/>
<path d="M994.8,513.7 L996.4,512.8 L998.1,512.1 L999.6,511.4 L1001.1,510.6 L1002.5,509.7 L1003.8,508.8 L1004.9,507.9 L1006.0,507.0 L1005.6,506.4 L1004.4,507.2 L1003.2,508.0 L1001.9,508.7 L1000.5,509.4 L999.0,510.3 L997.6,511.1 L996.0,512.1 L994.4,512.9Z" fill="#000"/>
<path d="M1007.0,519.0 L1010.0,519.0 L1010.0,517.5 L1007.0,517.5Z" fill="#000"/>
<path d="M1044.2,533.0 L1044.2,531.3 L1044.2,529.7 L1044.2,528.0 L1044.2,526.3 L1044.2,524.7 L1044.2,523.0 L1044.2,521.3 L1044.2,519.7 L1044.2,518.0 L1044.2,516.3 L1044.2,514.7 L1044.2,513.0 L1044.2,511.3 L1044.2,509.7 L1043.9,508.6 L1044.9,508.9 L1046.6,508.9 L1048.2,508.9 L1049.8,508.9 L1051.5,508.9 L1053.1,508.9 L1054.7,508.9 L1056.4,508.9 L1057.3,508.6 L1057.1,509.7 L1057.1,511.5 L1057.1,513.2 L1057.1,514.9 L1057.1,516.6 L1057.1,518.4 L1057.1,520.1 L1057.1,521.8 L1057.1,523.5 L1057.1,525.3 L1057.3,526.4 L1056.4,526.1 L1054.8,526.1 L1053.2,526.1 L1051.5,526.1 L1049.9,526.1 L1047.6,526.4 L1047.4,529.0 L1047.4,531.0 L1047.4,533.0 L1049.2,533.0 L1049.2,531.0 L1049.2,529.0 L1049.0,527.6 L1049.9,527.9 L1051.5,527.9 L1053.2,527.9 L1054.8,527.9 L1056.4,527.9 L1058.7,527.6 L1058.9,525.3 L1058.9,523.5 L1058.9,521.8 L1058.9,520.1 L1058.9,518.4 L1058.9,516.6 L1058.9,514.9 L1058.9,513.2 L1058.9,511.5 L1058.9,509.7 L1058.7,507.4 L1056.4,507.1 L1054.7,507.1 L1053.1,507.1 L1051.5,507.1 L1049.8,507.1 L1048.2,507.1 L1046.6,507.1 L1044.9,507.1 L1042.7,507.4 L1042.4,509.7 L1042.4,511.3 L1042.4,513.0 L1042.4,514.7 L1042.4,516.3 L1042.4,518.0 L1042.4,519.7 L1042.4,521.3 L1042.4,523.0 L1042.4,524.7 L1042.4,526.3 L1042.4,528.0 L1042.4,529.7 L1042.4,531.3 L1042.4,533.0Z" fill="#000"/>
<path d="M1043.3,507.5 L1058,507.5 L1058,512 L1043.3,512 Z" fill="#000"/>
<path d="M1048.5,524.6 L1050.2,524.6 L1051.8,524.6 L1053.5,524.6 L1053.5,523.0 L1051.8,523.0 L1050.2,523.0 L1048.5,523.0Z" fill="#000"/>
<path d="M1120.7,439.3 L1136,425.3 L1178,470.7 L1156,487.3 Z" fill="none" stroke="#000" stroke-width="2.2" stroke-linejoin="miter"/>
<path d="M1135.2,424 L1177,469.5 L1155.5,486" fill="none" stroke="#000" stroke-width="3.6" stroke-linejoin="miter"/>
<path d="M1152.9,451.3 L1152.8,451.9 L1152.8,452.4 L1152.7,453.0 L1152.5,453.5 L1152.4,454.1 L1152.1,454.6 L1151.9,455.1 L1151.6,455.6 L1151.3,456.1 L1150.9,456.5 L1150.6,457.0 L1150.2,457.4 L1149.7,457.7 L1149.3,458.1 L1148.8,458.4 L1148.3,458.6 L1147.8,458.9 L1147.2,459.1 L1146.7,459.2 L1146.1,459.3 L1145.6,459.4 L1145.0,459.4 L1144.4,459.4 L1143.8,459.4 L1143.3,459.3 L1142.7,459.2 L1142.2,459.1 L1141.6,458.9 L1141.1,458.6 L1140.6,458.4 L1140.1,458.1 L1139.7,457.7 L1139.2,457.4 L1138.8,457.0 L1138.5,456.5 L1138.1,456.1 L1137.8,455.6 L1137.5,455.1 L1137.3,454.6 L1137.0,454.1 L1136.9,453.5 L1136.7,453.0 L1136.6,452.4 L1136.6,451.9 L1136.5,451.3 L1136.6,450.7 L1136.6,450.2 L1136.7,449.6 L1136.9,449.1 L1137.0,448.5 L1137.3,448.0 L1137.5,447.5 L1137.8,447.0 L1138.1,446.5 L1138.5,446.1 L1138.8,445.6 L1139.2,445.2 L1139.7,444.9 L1140.1,444.5 L1140.6,444.2 L1141.1,444.0 L1141.6,443.7 L1142.2,443.5 L1142.7,443.4 L1143.3,443.3 L1143.8,443.2 L1144.4,443.2 L1145.0,443.2 L1145.6,443.2 L1146.1,443.3 L1146.7,443.4 L1147.2,443.5 L1147.8,443.7 L1148.3,444.0 L1148.8,444.2 L1149.3,444.5 L1149.7,444.9 L1150.2,445.2 L1150.6,445.6 L1150.9,446.1 L1151.3,446.5 L1151.6,447.0 L1151.9,447.5 L1152.1,448.0 L1152.4,448.5 L1152.5,449.1 L1152.7,449.6 L1152.8,450.2 L1152.8,450.7ZM1150.3,450.9 L1150.3,450.5 L1150.2,450.1 L1150.1,449.7 L1150.0,449.4 L1149.9,449.0 L1149.7,448.6 L1149.5,448.3 L1149.3,448.0 L1149.0,447.7 L1148.8,447.4 L1148.5,447.1 L1148.2,446.8 L1147.9,446.6 L1147.5,446.4 L1147.2,446.2 L1146.8,446.1 L1146.4,445.9 L1146.1,445.8 L1145.7,445.7 L1145.3,445.7 L1144.9,445.7 L1144.5,445.7 L1144.1,445.7 L1143.7,445.7 L1143.3,445.8 L1143.0,445.9 L1142.6,446.1 L1142.2,446.2 L1141.9,446.4 L1141.5,446.6 L1141.2,446.8 L1140.9,447.1 L1140.6,447.4 L1140.4,447.7 L1140.1,448.0 L1139.9,448.3 L1139.7,448.6 L1139.5,449.0 L1139.4,449.4 L1139.3,449.7 L1139.2,450.1 L1139.1,450.5 L1139.1,450.9 L1139.0,451.3 L1139.1,451.7 L1139.1,452.1 L1139.2,452.5 L1139.3,452.9 L1139.4,453.2 L1139.5,453.6 L1139.7,454.0 L1139.9,454.3 L1140.1,454.6 L1140.4,454.9 L1140.6,455.2 L1140.9,455.5 L1141.2,455.8 L1141.5,456.0 L1141.9,456.2 L1142.2,456.4 L1142.6,456.5 L1143.0,456.7 L1143.3,456.8 L1143.7,456.9 L1144.1,456.9 L1144.5,456.9 L1144.9,456.9 L1145.3,456.9 L1145.7,456.9 L1146.1,456.8 L1146.4,456.7 L1146.8,456.5 L1147.2,456.4 L1147.5,456.2 L1147.9,456.0 L1148.2,455.8 L1148.5,455.5 L1148.8,455.2 L1149.0,454.9 L1149.3,454.6 L1149.5,454.3 L1149.7,454.0 L1149.9,453.6 L1150.0,453.2 L1150.1,452.9 L1150.2,452.5 L1150.3,452.1 L1150.3,451.7 L1150.4,451.3Z" fill="#000" fill-rule="evenodd"/>
<path d="M1108.5,472.1 L1109.9,471.2 L1111.3,470.4 L1112.7,469.5 L1114.2,468.6 L1115.6,467.8 L1117.0,466.9 L1118.5,466.1 L1119.9,465.2 L1121.3,464.4 L1122.7,463.5 L1124.2,462.6 L1125.6,461.8 L1127.0,460.9 L1128.8,459.7 L1129.0,457.5 L1129.1,455.6 L1129.2,453.8 L1129.3,451.9 L1129.4,450.0 L1127.6,450.0 L1127.5,451.8 L1127.4,453.7 L1127.3,455.5 L1127.2,457.4 L1127.2,458.9 L1126.1,459.4 L1124.7,460.2 L1123.3,461.1 L1121.8,462.0 L1120.4,462.8 L1119.0,463.7 L1117.5,464.5 L1116.1,465.4 L1114.7,466.2 L1113.3,467.1 L1111.8,468.0 L1110.4,468.8 L1109.0,469.7 L1107.5,470.5Z" fill="#000"/>
<path d="M1108.0,488.2 L1109.3,487.1 L1110.7,486.1 L1112.0,485.1 L1113.4,484.1 L1114.7,483.1 L1116.1,482.1 L1117.4,481.1 L1118.8,480.1 L1120.2,479.1 L1121.5,478.1 L1122.9,477.2 L1124.3,476.2 L1125.6,475.2 L1127.0,474.1 L1128.3,473.1 L1129.7,472.1 L1131.0,471.1 L1132.0,470.2 L1132.4,470.3 L1133.3,470.4 L1134.4,470.7 L1135.7,471.2 L1137.0,471.9 L1138.5,472.7 L1140.1,473.5 L1141.8,474.5 L1143.5,475.4 L1145.3,476.3 L1146.7,473.7 L1144.9,472.7 L1143.3,471.8 L1141.6,470.8 L1140.1,469.9 L1138.5,469.0 L1137.0,468.3 L1135.5,467.6 L1134.0,467.2 L1132.5,466.9 L1130.6,467.2 L1128.9,468.4 L1127.6,469.4 L1126.3,470.5 L1124.9,471.5 L1123.6,472.6 L1122.3,473.6 L1121.0,474.7 L1119.7,475.8 L1118.4,476.9 L1117.1,477.9 L1115.8,479.0 L1114.5,480.1 L1113.2,481.2 L1111.9,482.2 L1110.6,483.3 L1109.3,484.3 L1108.0,485.4 L1106.6,486.4Z" fill="#000"/>
<g fill="#000">
<circle cx="1009" cy="511.3" r="1.3"/><circle cx="1017" cy="510" r="1.2"/>
<circle cx="1050.8" cy="518.8" r="1.2"/><circle cx="1048.8" cy="513.5" r="0.9"/><circle cx="1053.3" cy="513.5" r="0.9"/>
<circle cx="1133.3" cy="435.3" r="1.6"/><circle cx="1158.7" cy="476" r="1.6"/>
</g>
<text transform="translate(34.81,482.5) scale(1,1.0)" x="0" y="0" font-family='"Liberation Sans",sans-serif' font-weight="700" font-size="19.77" fill="#000" stroke="#000" stroke-width="0">User</text>
<text transform="translate(218.33,481.2) scale(1,1.0)" x="0" y="0" font-family='"Liberation Sans",sans-serif' font-weight="700" font-size="19.51" fill="#000" stroke="#000" stroke-width="0">Executor w/ EOA</text>
<text transform="translate(582.64,479.6) scale(1,1.0)" x="0" y="0" font-family='"Liberation Sans",sans-serif' font-weight="700" font-size="19.48" fill="#000" stroke="#000" stroke-width="0">Entry point</text>
<text transform="translate(410.82,266.2) scale(1,1.0)" x="0" y="0" font-family='"Liberation Sans",sans-serif' font-weight="700" font-size="19.7" fill="#000" stroke="#000" stroke-width="0">handleOps</text>
<text transform="translate(805.4,197.75) scale(1,1.0)" x="0" y="0" font-family='"Liberation Sans",sans-serif' font-weight="700" font-size="19.65" fill="#000" stroke="#000" stroke-width="0">validate</text>
<text transform="translate(778.53,221.1) scale(1,1.0)" x="0" y="0" font-family='"Liberation Sans",sans-serif' font-weight="700" font-size="19.61" fill="#000" stroke="#000" stroke-width="0">PaymasterOp</text>
<text transform="translate(792.0,365.6) scale(1,1.0)" x="0" y="0" font-family='"Liberation Sans",sans-serif' font-weight="700" font-size="19.76" fill="#000" stroke="#000" stroke-width="0">validateOp</text>
<text transform="translate(793.89,532) scale(1,1.0)" x="0" y="0" font-family='"Liberation Sans",sans-serif' font-weight="700" font-size="20.14" fill="#000" stroke="#000" stroke-width="0">executeOp</text>
<text transform="translate(956.91,310.3) scale(1,1.0)" x="0" y="0" font-family='"Liberation Sans",sans-serif' font-weight="700" font-size="19.82" fill="#000" stroke="#000" stroke-width="0">Paymaster Contract</text>
<text transform="translate(891.31,607.5) scale(1,1.0)" x="0" y="0" font-family='"Liberation Sans",sans-serif' font-weight="700" font-size="19.84" fill="#000" stroke="#000" stroke-width="0">User’s Smart Contract Wallet</text>
<text transform="translate(88.68,235.5) scale(1,1.04)" x="0" y="0" font-family='"Liberation Mono",monospace' font-weight="700" font-size="13.15" fill="#000" stroke="#000" stroke-width="0.12">Please help</text>
<text transform="translate(139.83,339) scale(1,1.06)" x="0" y="0" font-family='"Liberation Mono",monospace' font-weight="700" font-size="13.45" fill="#000" stroke="#000" stroke-width="0.12">op</text>
<text transform="translate(317.83,360.4) scale(1,1.04)" x="0" y="0" font-family='"Liberation Mono",monospace' font-weight="700" font-size="13.92" fill="#000" stroke="#000" stroke-width="0.12">ETH</text>
<text transform="translate(452.33,311) scale(1,1.08)" x="0" y="0" font-family='"Liberation Mono",monospace' font-weight="700" font-size="13.45" fill="#000" stroke="#000" stroke-width="0.12">op</text>
<text transform="translate(458.65,420) scale(1,1.0)" x="0" y="0" font-family='"Liberation Mono",monospace' font-weight="700" font-size="13.61" fill="#000" stroke="#000" stroke-width="0.12">ETH</text>
<text transform="translate(447.08,435) scale(1,1.0)" x="0" y="0" font-family='"Liberation Mono",monospace' font-weight="700" font-size="13.24" fill="#000" stroke="#000" stroke-width="0.12">refund</text>
<text transform="translate(803.08,302.2) scale(1,1.04)" x="0" y="0" font-family='"Liberation Mono",monospace' font-weight="700" font-size="13.16" fill="#000" stroke="#000" stroke-width="0.12">ETH refund</text>
<text transform="translate(834.35,257.8) scale(1,1.06)" x="0" y="0" font-family='"Liberation Mono",monospace' font-weight="700" font-size="12.91" fill="#000" stroke="#000" stroke-width="0.12">op</text>
<text transform="translate(1026.09,229.9) scale(1,1.06)" x="0" y="0" font-family='"Liberation Mono",monospace' font-weight="700" font-size="14.4" fill="#000" stroke="#000" stroke-width="0.12">ETH</text>
<text transform="translate(1048.21,153.7) scale(1,1.22)" x="0" y="0" font-family='"Liberation Mono",monospace' font-weight="700" font-size="9.87" fill="#000" stroke="#000" stroke-width="0.1">Paymaster</text>
<text transform="translate(1065.6,426.2) scale(1,1.05)" x="0" y="0" font-family='"Liberation Mono",monospace' font-weight="700" font-size="9.8" fill="#000" stroke="#000" stroke-width="0.1">Wallet</text>
<text transform="translate(1010.27,469.3) scale(1,1.04)" x="0" y="0" font-family='"Liberation Mono",monospace' font-weight="700" font-size="10.48" fill="#000" stroke="#000" stroke-width="0.1">ETH</text>
<text transform="translate(1056.71,486.7) scale(1,1.12)" x="0" y="0" font-family='"Liberation Mono",monospace' font-weight="700" font-size="9.83" fill="#000" stroke="#000" stroke-width="0.1">USDC</text>
<text transform="translate(842.25,398.9) scale(1,1.06)" x="0" y="0" text-anchor="middle" font-family='"Liberation Mono",monospace' font-weight="700" font-size="12.91" fill="#000" stroke="#000" stroke-width="0.12">op</text>
<text transform="translate(845.0,487.8) scale(1,1.06)" x="0" y="0" text-anchor="middle" font-family='"Liberation Mono",monospace' font-weight="700" font-size="12.91" fill="#000" stroke="#000" stroke-width="0.12">op</text>
</svg>
</body></html>
